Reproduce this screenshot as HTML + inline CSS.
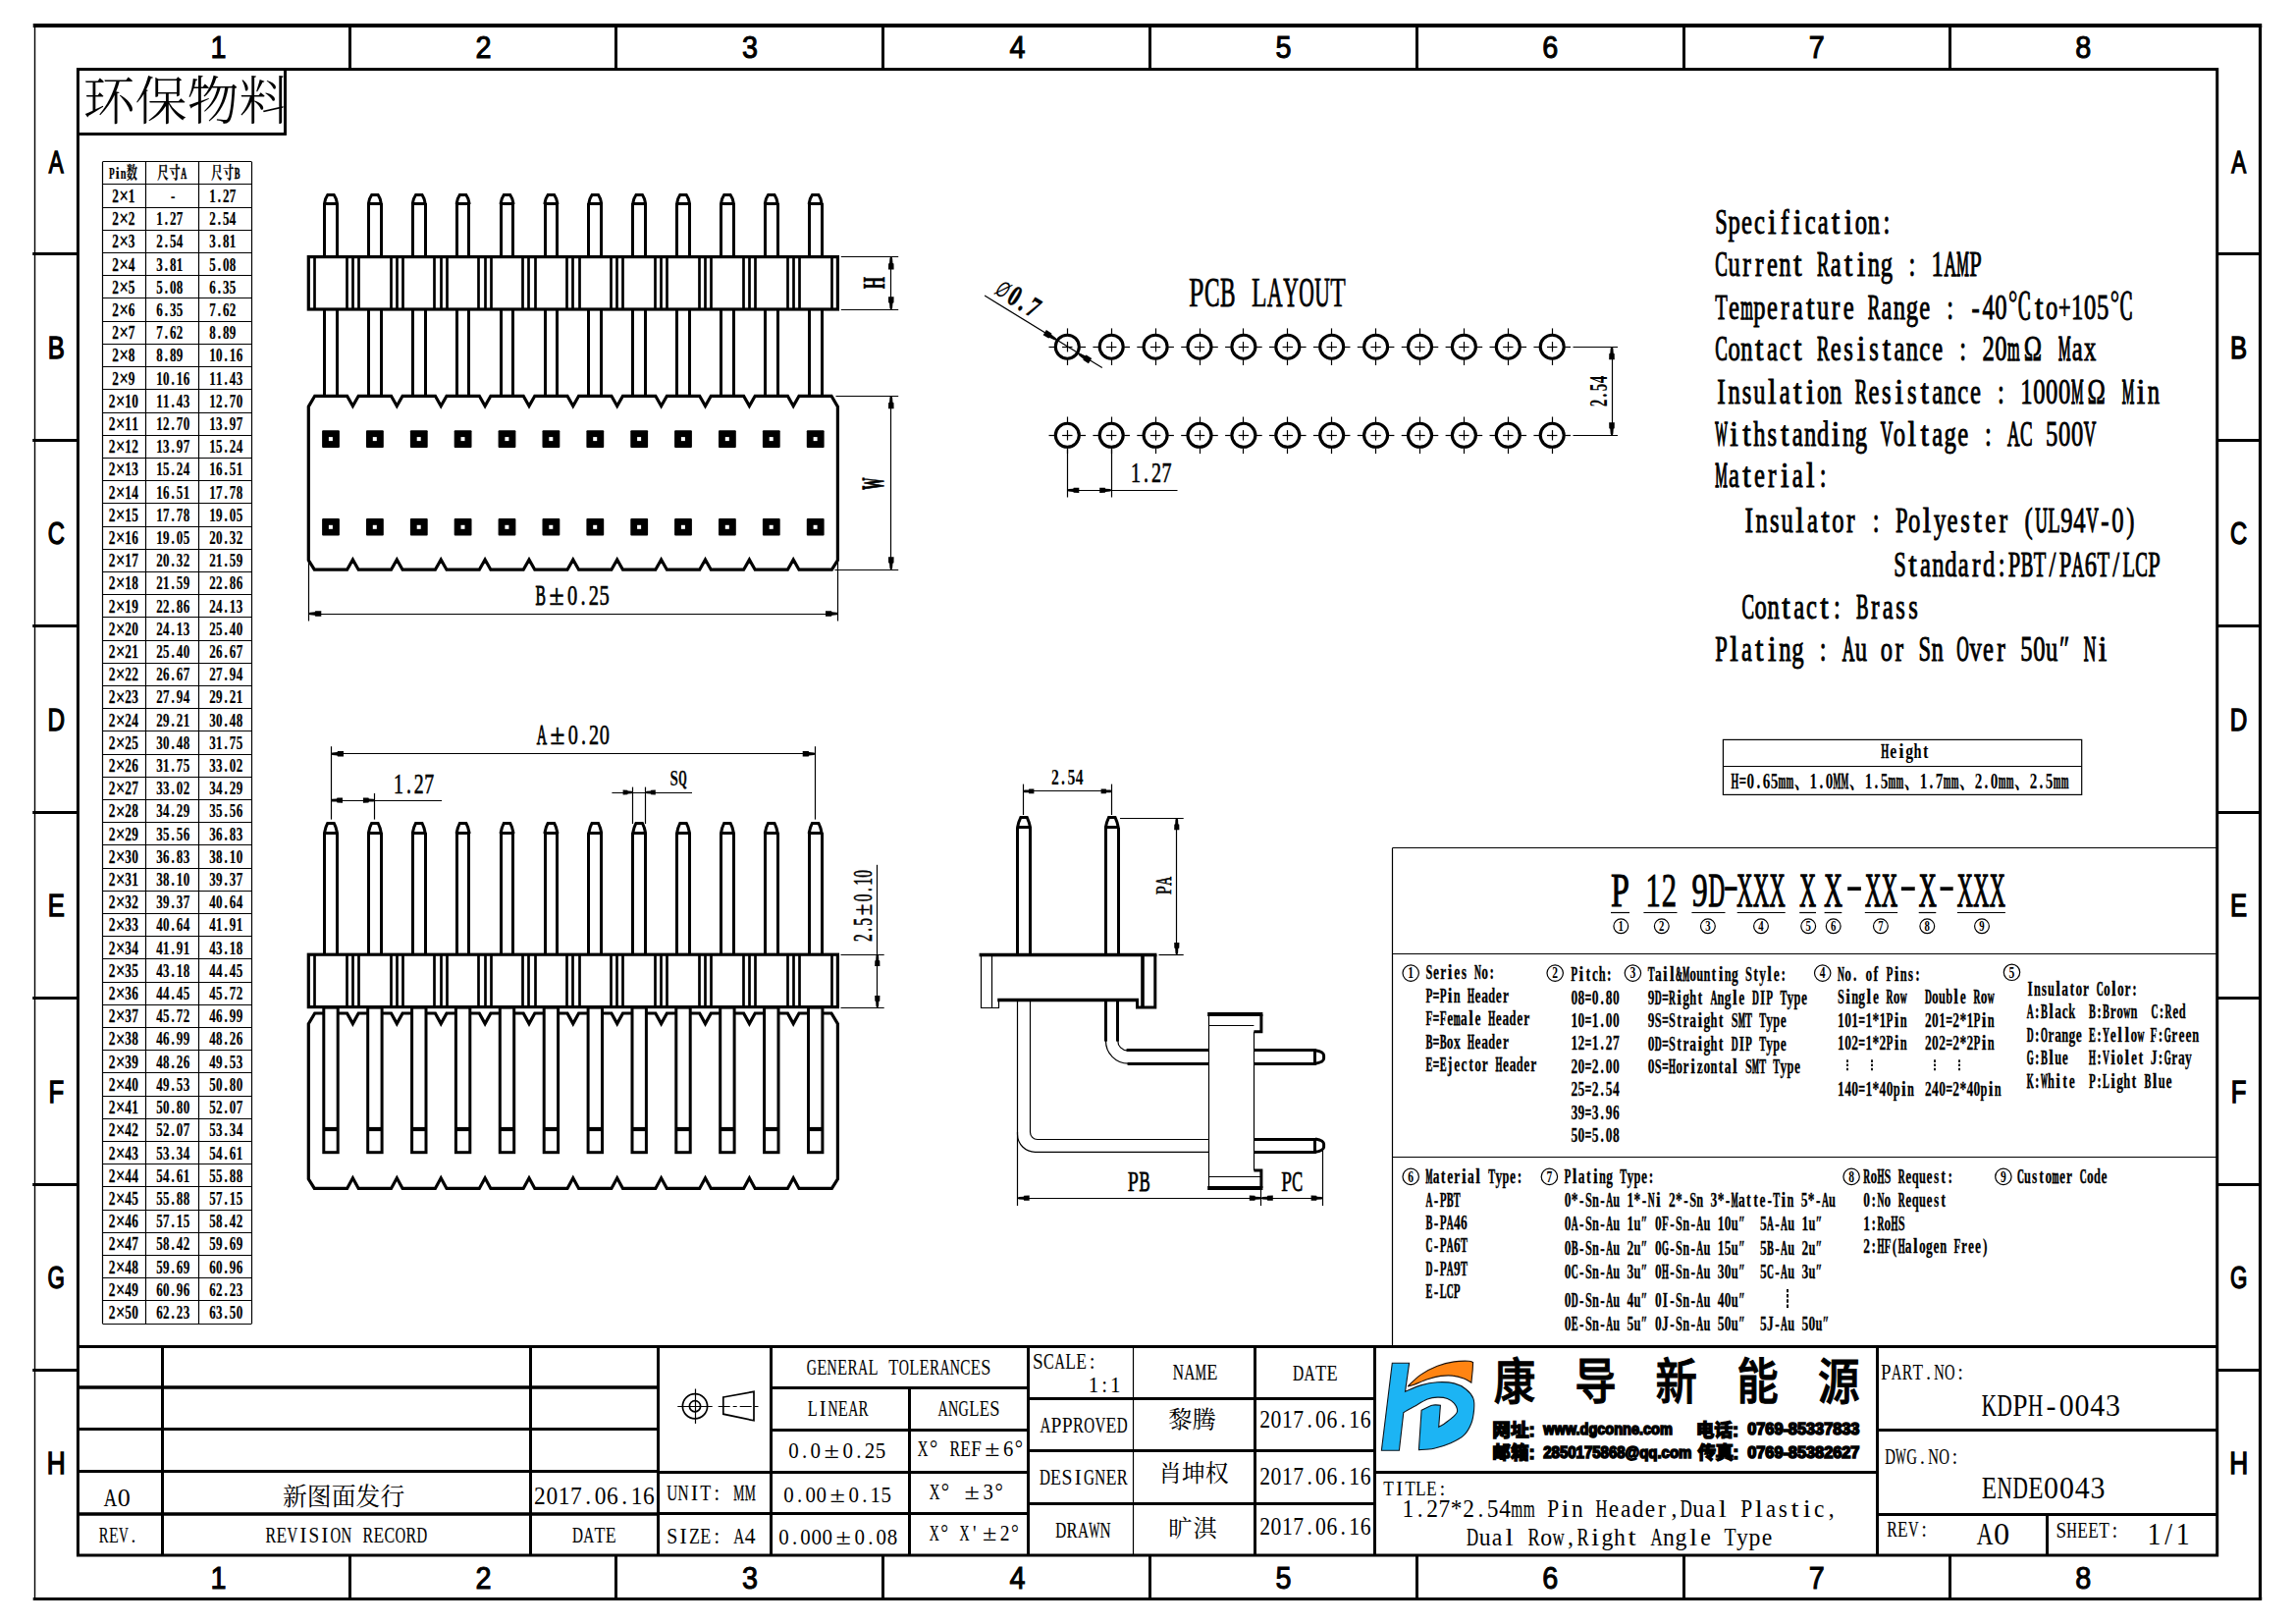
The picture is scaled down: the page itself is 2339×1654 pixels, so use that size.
<!DOCTYPE html>
<html lang="zh"><head><meta charset="utf-8"><title>KDPH-0043</title>
<style>html,body{margin:0;padding:0;background:#fff}svg{display:block}text{white-space:pre}</style></head>
<body><svg width="2339" height="1654" viewBox="0 0 2339 1654" stroke="#000" fill="none" stroke-linecap="butt">
<rect x="0" y="0" width="2339" height="1654" fill="#fff" stroke="none"/>
<line x1="33.7" y1="26" x2="2304.2" y2="26" stroke-width="3.8" />
<line x1="33.7" y1="1628.5" x2="2304.2" y2="1628.5" stroke-width="3.2" />
<line x1="35.5" y1="26" x2="35.5" y2="1628" stroke-width="1.4" />
<line x1="2302.5" y1="26" x2="2302.5" y2="1628" stroke-width="3.2" />
<rect x="79.4" y="70.6" width="2179.3" height="1513.4" stroke-width="3" fill="none"/>
<line x1="356.5" y1="26" x2="356.5" y2="70.6" stroke-width="3" />
<line x1="356.5" y1="1584" x2="356.5" y2="1628" stroke-width="3" />
<line x1="627.5" y1="26" x2="627.5" y2="70.6" stroke-width="3" />
<line x1="627.5" y1="1584" x2="627.5" y2="1628" stroke-width="3" />
<line x1="899.5" y1="26" x2="899.5" y2="70.6" stroke-width="3" />
<line x1="899.5" y1="1584" x2="899.5" y2="1628" stroke-width="3" />
<line x1="1171.5" y1="26" x2="1171.5" y2="70.6" stroke-width="3" />
<line x1="1171.5" y1="1584" x2="1171.5" y2="1628" stroke-width="3" />
<line x1="1443.5" y1="26" x2="1443.5" y2="70.6" stroke-width="3" />
<line x1="1443.5" y1="1584" x2="1443.5" y2="1628" stroke-width="3" />
<line x1="1715.5" y1="26" x2="1715.5" y2="70.6" stroke-width="3" />
<line x1="1715.5" y1="1584" x2="1715.5" y2="1628" stroke-width="3" />
<line x1="1986.5" y1="26" x2="1986.5" y2="70.6" stroke-width="3" />
<line x1="1986.5" y1="1584" x2="1986.5" y2="1628" stroke-width="3" />
<line x1="33.2" y1="258.5" x2="79.4" y2="258.5" stroke-width="3" />
<line x1="2258.7" y1="258.5" x2="2302.5" y2="258.5" stroke-width="3" />
<line x1="33.2" y1="448.5" x2="79.4" y2="448.5" stroke-width="3" />
<line x1="2258.7" y1="448.5" x2="2302.5" y2="448.5" stroke-width="3" />
<line x1="33.2" y1="637.5" x2="79.4" y2="637.5" stroke-width="3" />
<line x1="2258.7" y1="637.5" x2="2302.5" y2="637.5" stroke-width="3" />
<line x1="33.2" y1="827.5" x2="79.4" y2="827.5" stroke-width="3" />
<line x1="2258.7" y1="827.5" x2="2302.5" y2="827.5" stroke-width="3" />
<line x1="33.2" y1="1016.5" x2="79.4" y2="1016.5" stroke-width="3" />
<line x1="2258.7" y1="1016.5" x2="2302.5" y2="1016.5" stroke-width="3" />
<line x1="33.2" y1="1206.5" x2="79.4" y2="1206.5" stroke-width="3" />
<line x1="2258.7" y1="1206.5" x2="2302.5" y2="1206.5" stroke-width="3" />
<line x1="33.2" y1="1395.5" x2="79.4" y2="1395.5" stroke-width="3" />
<line x1="2258.7" y1="1395.5" x2="2302.5" y2="1395.5" stroke-width="3" />
<text transform="translate(222.5,59.3) scale(0.9,1)" font-family='"Liberation Sans","Noto Sans CJK SC",sans-serif' font-size="31.98" text-anchor="middle" stroke="#000" stroke-width="1.05" fill="#000" >1</text>
<text transform="translate(222.5,1618.2) scale(0.9,1)" font-family='"Liberation Sans","Noto Sans CJK SC",sans-serif' font-size="31.98" text-anchor="middle" stroke="#000" stroke-width="1.05" fill="#000" >1</text>
<text transform="translate(492.6,59.3) scale(0.9,1)" font-family='"Liberation Sans","Noto Sans CJK SC",sans-serif' font-size="31.98" text-anchor="middle" stroke="#000" stroke-width="1.05" fill="#000" >2</text>
<text transform="translate(492.6,1618.2) scale(0.9,1)" font-family='"Liberation Sans","Noto Sans CJK SC",sans-serif' font-size="31.98" text-anchor="middle" stroke="#000" stroke-width="1.05" fill="#000" >2</text>
<text transform="translate(764,59.3) scale(0.9,1)" font-family='"Liberation Sans","Noto Sans CJK SC",sans-serif' font-size="31.98" text-anchor="middle" stroke="#000" stroke-width="1.05" fill="#000" >3</text>
<text transform="translate(764,1618.2) scale(0.9,1)" font-family='"Liberation Sans","Noto Sans CJK SC",sans-serif' font-size="31.98" text-anchor="middle" stroke="#000" stroke-width="1.05" fill="#000" >3</text>
<text transform="translate(1036.5,59.3) scale(0.9,1)" font-family='"Liberation Sans","Noto Sans CJK SC",sans-serif' font-size="31.98" text-anchor="middle" stroke="#000" stroke-width="1.05" fill="#000" >4</text>
<text transform="translate(1036.5,1618.2) scale(0.9,1)" font-family='"Liberation Sans","Noto Sans CJK SC",sans-serif' font-size="31.98" text-anchor="middle" stroke="#000" stroke-width="1.05" fill="#000" >4</text>
<text transform="translate(1307.5,59.3) scale(0.9,1)" font-family='"Liberation Sans","Noto Sans CJK SC",sans-serif' font-size="31.98" text-anchor="middle" stroke="#000" stroke-width="1.05" fill="#000" >5</text>
<text transform="translate(1307.5,1618.2) scale(0.9,1)" font-family='"Liberation Sans","Noto Sans CJK SC",sans-serif' font-size="31.98" text-anchor="middle" stroke="#000" stroke-width="1.05" fill="#000" >5</text>
<text transform="translate(1579.2,59.3) scale(0.9,1)" font-family='"Liberation Sans","Noto Sans CJK SC",sans-serif' font-size="31.98" text-anchor="middle" stroke="#000" stroke-width="1.05" fill="#000" >6</text>
<text transform="translate(1579.2,1618.2) scale(0.9,1)" font-family='"Liberation Sans","Noto Sans CJK SC",sans-serif' font-size="31.98" text-anchor="middle" stroke="#000" stroke-width="1.05" fill="#000" >6</text>
<text transform="translate(1850.8,59.3) scale(0.9,1)" font-family='"Liberation Sans","Noto Sans CJK SC",sans-serif' font-size="31.98" text-anchor="middle" stroke="#000" stroke-width="1.05" fill="#000" >7</text>
<text transform="translate(1850.8,1618.2) scale(0.9,1)" font-family='"Liberation Sans","Noto Sans CJK SC",sans-serif' font-size="31.98" text-anchor="middle" stroke="#000" stroke-width="1.05" fill="#000" >7</text>
<text transform="translate(2122.3,59.3) scale(0.9,1)" font-family='"Liberation Sans","Noto Sans CJK SC",sans-serif' font-size="31.98" text-anchor="middle" stroke="#000" stroke-width="1.05" fill="#000" >8</text>
<text transform="translate(2122.3,1618.2) scale(0.9,1)" font-family='"Liberation Sans","Noto Sans CJK SC",sans-serif' font-size="31.98" text-anchor="middle" stroke="#000" stroke-width="1.05" fill="#000" >8</text>
<text transform="translate(57.3,176.1) scale(0.7,1)" font-family='"Liberation Sans","Noto Sans CJK SC",sans-serif' font-size="31.98" text-anchor="middle" stroke="#000" stroke-width="1.4" fill="#000" >A</text>
<text transform="translate(2280.6,176.1) scale(0.7,1)" font-family='"Liberation Sans","Noto Sans CJK SC",sans-serif' font-size="31.98" text-anchor="middle" stroke="#000" stroke-width="1.4" fill="#000" >A</text>
<text transform="translate(57.3,364.8) scale(0.8,1)" font-family='"Liberation Sans","Noto Sans CJK SC",sans-serif' font-size="31.98" text-anchor="middle" stroke="#000" stroke-width="1.4" fill="#000" >B</text>
<text transform="translate(2280.6,364.8) scale(0.8,1)" font-family='"Liberation Sans","Noto Sans CJK SC",sans-serif' font-size="31.98" text-anchor="middle" stroke="#000" stroke-width="1.4" fill="#000" >B</text>
<text transform="translate(57.3,554.2) scale(0.74,1)" font-family='"Liberation Sans","Noto Sans CJK SC",sans-serif' font-size="31.98" text-anchor="middle" stroke="#000" stroke-width="1.4" fill="#000" >C</text>
<text transform="translate(2280.6,554.2) scale(0.74,1)" font-family='"Liberation Sans","Noto Sans CJK SC",sans-serif' font-size="31.98" text-anchor="middle" stroke="#000" stroke-width="1.4" fill="#000" >C</text>
<text transform="translate(57.3,743.8) scale(0.76,1)" font-family='"Liberation Sans","Noto Sans CJK SC",sans-serif' font-size="31.98" text-anchor="middle" stroke="#000" stroke-width="1.4" fill="#000" >D</text>
<text transform="translate(2280.6,743.8) scale(0.76,1)" font-family='"Liberation Sans","Noto Sans CJK SC",sans-serif' font-size="31.98" text-anchor="middle" stroke="#000" stroke-width="1.4" fill="#000" >D</text>
<text transform="translate(57.3,933.2) scale(0.8,1)" font-family='"Liberation Sans","Noto Sans CJK SC",sans-serif' font-size="31.98" text-anchor="middle" stroke="#000" stroke-width="1.4" fill="#000" >E</text>
<text transform="translate(2280.6,933.2) scale(0.8,1)" font-family='"Liberation Sans","Noto Sans CJK SC",sans-serif' font-size="31.98" text-anchor="middle" stroke="#000" stroke-width="1.4" fill="#000" >E</text>
<text transform="translate(57.3,1122.8) scale(0.8,1)" font-family='"Liberation Sans","Noto Sans CJK SC",sans-serif' font-size="31.98" text-anchor="middle" stroke="#000" stroke-width="1.4" fill="#000" >F</text>
<text transform="translate(2280.6,1122.8) scale(0.8,1)" font-family='"Liberation Sans","Noto Sans CJK SC",sans-serif' font-size="31.98" text-anchor="middle" stroke="#000" stroke-width="1.4" fill="#000" >F</text>
<text transform="translate(57.3,1312.2) scale(0.7,1)" font-family='"Liberation Sans","Noto Sans CJK SC",sans-serif' font-size="31.98" text-anchor="middle" stroke="#000" stroke-width="1.4" fill="#000" >G</text>
<text transform="translate(2280.6,1312.2) scale(0.7,1)" font-family='"Liberation Sans","Noto Sans CJK SC",sans-serif' font-size="31.98" text-anchor="middle" stroke="#000" stroke-width="1.4" fill="#000" >G</text>
<text transform="translate(57.3,1501.2) scale(0.82,1)" font-family='"Liberation Sans","Noto Sans CJK SC",sans-serif' font-size="31.98" text-anchor="middle" stroke="#000" stroke-width="1.4" fill="#000" >H</text>
<text transform="translate(2280.6,1501.2) scale(0.82,1)" font-family='"Liberation Sans","Noto Sans CJK SC",sans-serif' font-size="31.98" text-anchor="middle" stroke="#000" stroke-width="1.4" fill="#000" >H</text>
<line x1="79.4" y1="136.5" x2="291.5" y2="136.5" stroke-width="3" />
<line x1="290.5" y1="70.6" x2="290.5" y2="137.8" stroke-width="3" />
<clipPath id="cl1"><rect x="80" y="71" width="208.5" height="64"/></clipPath>
<g clip-path="url(#cl1)">
<text x="84.5" y="121.5" font-family='"Liberation Serif","Noto Serif CJK SC",serif' font-size="53.00" textLength="212.0" lengthAdjust="spacing" stroke="none" fill="#000" font-weight="300">环保物料</text>
</g>
<line x1="104.6" y1="164.5" x2="256.3" y2="164.5" stroke-width="1.2" />
<line x1="104.6" y1="187.5" x2="256.3" y2="187.5" stroke-width="1.2" />
<line x1="104.6" y1="211.5" x2="256.3" y2="211.5" stroke-width="1.2" />
<line x1="104.6" y1="234.5" x2="256.3" y2="234.5" stroke-width="1.2" />
<line x1="104.6" y1="257.5" x2="256.3" y2="257.5" stroke-width="1.2" />
<line x1="104.6" y1="280.5" x2="256.3" y2="280.5" stroke-width="1.2" />
<line x1="104.6" y1="303.5" x2="256.3" y2="303.5" stroke-width="1.2" />
<line x1="104.6" y1="327.5" x2="256.3" y2="327.5" stroke-width="1.2" />
<line x1="104.6" y1="350.5" x2="256.3" y2="350.5" stroke-width="1.2" />
<line x1="104.6" y1="373.5" x2="256.3" y2="373.5" stroke-width="1.2" />
<line x1="104.6" y1="396.5" x2="256.3" y2="396.5" stroke-width="1.2" />
<line x1="104.6" y1="420.5" x2="256.3" y2="420.5" stroke-width="1.2" />
<line x1="104.6" y1="443.5" x2="256.3" y2="443.5" stroke-width="1.2" />
<line x1="104.6" y1="466.5" x2="256.3" y2="466.5" stroke-width="1.2" />
<line x1="104.6" y1="489.5" x2="256.3" y2="489.5" stroke-width="1.2" />
<line x1="104.6" y1="512.5" x2="256.3" y2="512.5" stroke-width="1.2" />
<line x1="104.6" y1="536.5" x2="256.3" y2="536.5" stroke-width="1.2" />
<line x1="104.6" y1="559.5" x2="256.3" y2="559.5" stroke-width="1.2" />
<line x1="104.6" y1="582.5" x2="256.3" y2="582.5" stroke-width="1.2" />
<line x1="104.6" y1="605.5" x2="256.3" y2="605.5" stroke-width="1.2" />
<line x1="104.6" y1="628.5" x2="256.3" y2="628.5" stroke-width="1.2" />
<line x1="104.6" y1="652.5" x2="256.3" y2="652.5" stroke-width="1.2" />
<line x1="104.6" y1="675.5" x2="256.3" y2="675.5" stroke-width="1.2" />
<line x1="104.6" y1="698.5" x2="256.3" y2="698.5" stroke-width="1.2" />
<line x1="104.6" y1="721.5" x2="256.3" y2="721.5" stroke-width="1.2" />
<line x1="104.6" y1="744.5" x2="256.3" y2="744.5" stroke-width="1.2" />
<line x1="104.6" y1="768.5" x2="256.3" y2="768.5" stroke-width="1.2" />
<line x1="104.6" y1="791.5" x2="256.3" y2="791.5" stroke-width="1.2" />
<line x1="104.6" y1="814.5" x2="256.3" y2="814.5" stroke-width="1.2" />
<line x1="104.6" y1="837.5" x2="256.3" y2="837.5" stroke-width="1.2" />
<line x1="104.6" y1="860.5" x2="256.3" y2="860.5" stroke-width="1.2" />
<line x1="104.6" y1="884.5" x2="256.3" y2="884.5" stroke-width="1.2" />
<line x1="104.6" y1="907.5" x2="256.3" y2="907.5" stroke-width="1.2" />
<line x1="104.6" y1="930.5" x2="256.3" y2="930.5" stroke-width="1.2" />
<line x1="104.6" y1="953.5" x2="256.3" y2="953.5" stroke-width="1.2" />
<line x1="104.6" y1="976.5" x2="256.3" y2="976.5" stroke-width="1.2" />
<line x1="104.6" y1="1000.5" x2="256.3" y2="1000.5" stroke-width="1.2" />
<line x1="104.6" y1="1023.5" x2="256.3" y2="1023.5" stroke-width="1.2" />
<line x1="104.6" y1="1046.5" x2="256.3" y2="1046.5" stroke-width="1.2" />
<line x1="104.6" y1="1069.5" x2="256.3" y2="1069.5" stroke-width="1.2" />
<line x1="104.6" y1="1092.5" x2="256.3" y2="1092.5" stroke-width="1.2" />
<line x1="104.6" y1="1116.5" x2="256.3" y2="1116.5" stroke-width="1.2" />
<line x1="104.6" y1="1139.5" x2="256.3" y2="1139.5" stroke-width="1.2" />
<line x1="104.6" y1="1162.5" x2="256.3" y2="1162.5" stroke-width="1.2" />
<line x1="104.6" y1="1185.5" x2="256.3" y2="1185.5" stroke-width="1.2" />
<line x1="104.6" y1="1208.5" x2="256.3" y2="1208.5" stroke-width="1.2" />
<line x1="104.6" y1="1232.5" x2="256.3" y2="1232.5" stroke-width="1.2" />
<line x1="104.6" y1="1255.5" x2="256.3" y2="1255.5" stroke-width="1.2" />
<line x1="104.6" y1="1278.5" x2="256.3" y2="1278.5" stroke-width="1.2" />
<line x1="104.6" y1="1301.5" x2="256.3" y2="1301.5" stroke-width="1.2" />
<line x1="104.6" y1="1324.5" x2="256.3" y2="1324.5" stroke-width="1.2" />
<line x1="104.6" y1="1348.5" x2="256.3" y2="1348.5" stroke-width="1.2" />
<line x1="104.5" y1="164.8" x2="104.5" y2="1348.2" stroke-width="1.2" />
<line x1="148.5" y1="164.8" x2="148.5" y2="1348.2" stroke-width="1.2" />
<line x1="202.5" y1="164.8" x2="202.5" y2="1348.2" stroke-width="1.2" />
<line x1="256.5" y1="164.8" x2="256.5" y2="1348.2" stroke-width="1.2" />
<text transform="translate(110.9,182.3) scale(0.6485,1)" font-family='"Liberation Serif","Noto Serif CJK SC",serif' font-size="17.25" font-weight="bold" stroke="#000" stroke-width="0.25" fill="#000"><tspan x="0.1" textLength="8.8" lengthAdjust="spacingAndGlyphs">P</tspan><tspan x="10.6" textLength="6" lengthAdjust="spacingAndGlyphs">i</tspan><tspan x="18.3" textLength="8.8" lengthAdjust="spacingAndGlyphs">n</tspan><tspan x="27.7">数</tspan></text>
<text transform="translate(159.9,182.3) scale(0.6690,1)" font-family='"Liberation Serif","Noto Serif CJK SC",serif' font-size="17.25" font-weight="bold" stroke="#000" stroke-width="0.25" fill="#000"><tspan x="0.5 18.6">尺寸</tspan><tspan x="36.5" textLength="8.8" lengthAdjust="spacingAndGlyphs" stroke="#000" stroke-width="0.66">A</tspan></text>
<text transform="translate(214.8,182.3) scale(0.6553,1)" font-family='"Liberation Serif","Noto Serif CJK SC",serif' font-size="17.25" font-weight="bold" stroke="#000" stroke-width="0.25" fill="#000"><tspan x="0.5 18.6">尺寸</tspan><tspan x="36.5" textLength="8.8" lengthAdjust="spacingAndGlyphs" stroke="#000" stroke-width="0.53">B</tspan></text>
<text transform="translate(0,205.9) scale(0.7446,1)" font-family='"Liberation Serif","Noto Serif CJK SC",serif' font-size="17.86" font-weight="bold" stroke="#000" stroke-width="0.25" fill="#000"><tspan x="153.3">2</tspan><tspan x="162.7" y="1.1" font-size="23.2" stroke-width="0.1">×</tspan><tspan x="175.6" y="0">1</tspan></text>
<text transform="translate(159.1,205.9) scale(0.7286,1)" font-family='"Liberation Serif","Noto Serif CJK SC",serif' font-size="17.86" font-weight="bold" stroke="#000" stroke-width="0.25" fill="#000"><tspan x="2.5 11.9 20.5">  -</tspan></text>
<text transform="translate(213.1,205.9) scale(0.7286,1)" font-family='"Liberation Serif","Noto Serif CJK SC",serif' font-size="17.86" font-weight="bold" stroke="#000" stroke-width="0.25" fill="#000"><tspan x="0.2 11.9 19 28.4">1.27</tspan></text>
<text transform="translate(0,229.1) scale(0.7446,1)" font-family='"Liberation Serif","Noto Serif CJK SC",serif' font-size="17.86" font-weight="bold" stroke="#000" stroke-width="0.25" fill="#000"><tspan x="153.3">2</tspan><tspan x="162.7" y="1.1" font-size="23.2" stroke-width="0.1">×</tspan><tspan x="175.6" y="0">2</tspan></text>
<text transform="translate(159.1,229.1) scale(0.7286,1)" font-family='"Liberation Serif","Noto Serif CJK SC",serif' font-size="17.86" font-weight="bold" stroke="#000" stroke-width="0.25" fill="#000"><tspan x="0.2 11.9 19 28.4">1.27</tspan></text>
<text transform="translate(213.1,229.1) scale(0.7286,1)" font-family='"Liberation Serif","Noto Serif CJK SC",serif' font-size="17.86" font-weight="bold" stroke="#000" stroke-width="0.25" fill="#000"><tspan x="0.2 11.9 19 28.4">2.54</tspan></text>
<text transform="translate(0,252.3) scale(0.7446,1)" font-family='"Liberation Serif","Noto Serif CJK SC",serif' font-size="17.86" font-weight="bold" stroke="#000" stroke-width="0.25" fill="#000"><tspan x="153.3">2</tspan><tspan x="162.7" y="1.1" font-size="23.2" stroke-width="0.1">×</tspan><tspan x="175.6" y="0">3</tspan></text>
<text transform="translate(159.1,252.3) scale(0.7286,1)" font-family='"Liberation Serif","Noto Serif CJK SC",serif' font-size="17.86" font-weight="bold" stroke="#000" stroke-width="0.25" fill="#000"><tspan x="0.2 11.9 19 28.4">2.54</tspan></text>
<text transform="translate(213.1,252.3) scale(0.7286,1)" font-family='"Liberation Serif","Noto Serif CJK SC",serif' font-size="17.86" font-weight="bold" stroke="#000" stroke-width="0.25" fill="#000"><tspan x="0.2 11.9 19 28.4">3.81</tspan></text>
<text transform="translate(0,275.5) scale(0.7446,1)" font-family='"Liberation Serif","Noto Serif CJK SC",serif' font-size="17.86" font-weight="bold" stroke="#000" stroke-width="0.25" fill="#000"><tspan x="153.3">2</tspan><tspan x="162.7" y="1.1" font-size="23.2" stroke-width="0.1">×</tspan><tspan x="175.6" y="0">4</tspan></text>
<text transform="translate(159.1,275.5) scale(0.7286,1)" font-family='"Liberation Serif","Noto Serif CJK SC",serif' font-size="17.86" font-weight="bold" stroke="#000" stroke-width="0.25" fill="#000"><tspan x="0.2 11.9 19 28.4">3.81</tspan></text>
<text transform="translate(213.1,275.5) scale(0.7286,1)" font-family='"Liberation Serif","Noto Serif CJK SC",serif' font-size="17.86" font-weight="bold" stroke="#000" stroke-width="0.25" fill="#000"><tspan x="0.2 11.9 19 28.4">5.08</tspan></text>
<text transform="translate(0,298.7) scale(0.7446,1)" font-family='"Liberation Serif","Noto Serif CJK SC",serif' font-size="17.86" font-weight="bold" stroke="#000" stroke-width="0.25" fill="#000"><tspan x="153.3">2</tspan><tspan x="162.7" y="1.1" font-size="23.2" stroke-width="0.1">×</tspan><tspan x="175.6" y="0">5</tspan></text>
<text transform="translate(159.1,298.7) scale(0.7286,1)" font-family='"Liberation Serif","Noto Serif CJK SC",serif' font-size="17.86" font-weight="bold" stroke="#000" stroke-width="0.25" fill="#000"><tspan x="0.2 11.9 19 28.4">5.08</tspan></text>
<text transform="translate(213.1,298.7) scale(0.7286,1)" font-family='"Liberation Serif","Noto Serif CJK SC",serif' font-size="17.86" font-weight="bold" stroke="#000" stroke-width="0.25" fill="#000"><tspan x="0.2 11.9 19 28.4">6.35</tspan></text>
<text transform="translate(0,321.9) scale(0.7446,1)" font-family='"Liberation Serif","Noto Serif CJK SC",serif' font-size="17.86" font-weight="bold" stroke="#000" stroke-width="0.25" fill="#000"><tspan x="153.3">2</tspan><tspan x="162.7" y="1.1" font-size="23.2" stroke-width="0.1">×</tspan><tspan x="175.6" y="0">6</tspan></text>
<text transform="translate(159.1,321.9) scale(0.7286,1)" font-family='"Liberation Serif","Noto Serif CJK SC",serif' font-size="17.86" font-weight="bold" stroke="#000" stroke-width="0.25" fill="#000"><tspan x="0.2 11.9 19 28.4">6.35</tspan></text>
<text transform="translate(213.1,321.9) scale(0.7286,1)" font-family='"Liberation Serif","Noto Serif CJK SC",serif' font-size="17.86" font-weight="bold" stroke="#000" stroke-width="0.25" fill="#000"><tspan x="0.2 11.9 19 28.4">7.62</tspan></text>
<text transform="translate(0,345.1) scale(0.7446,1)" font-family='"Liberation Serif","Noto Serif CJK SC",serif' font-size="17.86" font-weight="bold" stroke="#000" stroke-width="0.25" fill="#000"><tspan x="153.3">2</tspan><tspan x="162.7" y="1.1" font-size="23.2" stroke-width="0.1">×</tspan><tspan x="175.6" y="0">7</tspan></text>
<text transform="translate(159.1,345.1) scale(0.7286,1)" font-family='"Liberation Serif","Noto Serif CJK SC",serif' font-size="17.86" font-weight="bold" stroke="#000" stroke-width="0.25" fill="#000"><tspan x="0.2 11.9 19 28.4">7.62</tspan></text>
<text transform="translate(213.1,345.1) scale(0.7286,1)" font-family='"Liberation Serif","Noto Serif CJK SC",serif' font-size="17.86" font-weight="bold" stroke="#000" stroke-width="0.25" fill="#000"><tspan x="0.2 11.9 19 28.4">8.89</tspan></text>
<text transform="translate(0,368.3) scale(0.7446,1)" font-family='"Liberation Serif","Noto Serif CJK SC",serif' font-size="17.86" font-weight="bold" stroke="#000" stroke-width="0.25" fill="#000"><tspan x="153.3">2</tspan><tspan x="162.7" y="1.1" font-size="23.2" stroke-width="0.1">×</tspan><tspan x="175.6" y="0">8</tspan></text>
<text transform="translate(159.1,368.3) scale(0.7286,1)" font-family='"Liberation Serif","Noto Serif CJK SC",serif' font-size="17.86" font-weight="bold" stroke="#000" stroke-width="0.25" fill="#000"><tspan x="0.2 11.9 19 28.4">8.89</tspan></text>
<text transform="translate(213.1,368.3) scale(0.7286,1)" font-family='"Liberation Serif","Noto Serif CJK SC",serif' font-size="17.86" font-weight="bold" stroke="#000" stroke-width="0.25" fill="#000"><tspan x="0.2 9.6 21.3 28.4 37.8">10.16</tspan></text>
<text transform="translate(0,391.5) scale(0.7446,1)" font-family='"Liberation Serif","Noto Serif CJK SC",serif' font-size="17.86" font-weight="bold" stroke="#000" stroke-width="0.25" fill="#000"><tspan x="153.3">2</tspan><tspan x="162.7" y="1.1" font-size="23.2" stroke-width="0.1">×</tspan><tspan x="175.6" y="0">9</tspan></text>
<text transform="translate(159.1,391.5) scale(0.7286,1)" font-family='"Liberation Serif","Noto Serif CJK SC",serif' font-size="17.86" font-weight="bold" stroke="#000" stroke-width="0.25" fill="#000"><tspan x="0.2 9.6 21.3 28.4 37.8">10.16</tspan></text>
<text transform="translate(213.1,391.5) scale(0.7286,1)" font-family='"Liberation Serif","Noto Serif CJK SC",serif' font-size="17.86" font-weight="bold" stroke="#000" stroke-width="0.25" fill="#000"><tspan x="0.2 9.6 21.3 28.4 37.8">11.43</tspan></text>
<text transform="translate(0,414.7) scale(0.7446,1)" font-family='"Liberation Serif","Noto Serif CJK SC",serif' font-size="17.86" font-weight="bold" stroke="#000" stroke-width="0.25" fill="#000"><tspan x="148.6">2</tspan><tspan x="158" y="1.1" font-size="23.2" stroke-width="0.1">×</tspan><tspan x="170.9 180.3" y="0">10</tspan></text>
<text transform="translate(159.1,414.7) scale(0.7286,1)" font-family='"Liberation Serif","Noto Serif CJK SC",serif' font-size="17.86" font-weight="bold" stroke="#000" stroke-width="0.25" fill="#000"><tspan x="0.2 9.6 21.3 28.4 37.8">11.43</tspan></text>
<text transform="translate(213.1,414.7) scale(0.7286,1)" font-family='"Liberation Serif","Noto Serif CJK SC",serif' font-size="17.86" font-weight="bold" stroke="#000" stroke-width="0.25" fill="#000"><tspan x="0.2 9.6 21.3 28.4 37.8">12.70</tspan></text>
<text transform="translate(0,437.9) scale(0.7446,1)" font-family='"Liberation Serif","Noto Serif CJK SC",serif' font-size="17.86" font-weight="bold" stroke="#000" stroke-width="0.25" fill="#000"><tspan x="148.6">2</tspan><tspan x="158" y="1.1" font-size="23.2" stroke-width="0.1">×</tspan><tspan x="170.9 180.3" y="0">11</tspan></text>
<text transform="translate(159.1,437.9) scale(0.7286,1)" font-family='"Liberation Serif","Noto Serif CJK SC",serif' font-size="17.86" font-weight="bold" stroke="#000" stroke-width="0.25" fill="#000"><tspan x="0.2 9.6 21.3 28.4 37.8">12.70</tspan></text>
<text transform="translate(213.1,437.9) scale(0.7286,1)" font-family='"Liberation Serif","Noto Serif CJK SC",serif' font-size="17.86" font-weight="bold" stroke="#000" stroke-width="0.25" fill="#000"><tspan x="0.2 9.6 21.3 28.4 37.8">13.97</tspan></text>
<text transform="translate(0,461.1) scale(0.7446,1)" font-family='"Liberation Serif","Noto Serif CJK SC",serif' font-size="17.86" font-weight="bold" stroke="#000" stroke-width="0.25" fill="#000"><tspan x="148.6">2</tspan><tspan x="158" y="1.1" font-size="23.2" stroke-width="0.1">×</tspan><tspan x="170.9 180.3" y="0">12</tspan></text>
<text transform="translate(159.1,461.1) scale(0.7286,1)" font-family='"Liberation Serif","Noto Serif CJK SC",serif' font-size="17.86" font-weight="bold" stroke="#000" stroke-width="0.25" fill="#000"><tspan x="0.2 9.6 21.3 28.4 37.8">13.97</tspan></text>
<text transform="translate(213.1,461.1) scale(0.7286,1)" font-family='"Liberation Serif","Noto Serif CJK SC",serif' font-size="17.86" font-weight="bold" stroke="#000" stroke-width="0.25" fill="#000"><tspan x="0.2 9.6 21.3 28.4 37.8">15.24</tspan></text>
<text transform="translate(0,484.3) scale(0.7446,1)" font-family='"Liberation Serif","Noto Serif CJK SC",serif' font-size="17.86" font-weight="bold" stroke="#000" stroke-width="0.25" fill="#000"><tspan x="148.6">2</tspan><tspan x="158" y="1.1" font-size="23.2" stroke-width="0.1">×</tspan><tspan x="170.9 180.3" y="0">13</tspan></text>
<text transform="translate(159.1,484.3) scale(0.7286,1)" font-family='"Liberation Serif","Noto Serif CJK SC",serif' font-size="17.86" font-weight="bold" stroke="#000" stroke-width="0.25" fill="#000"><tspan x="0.2 9.6 21.3 28.4 37.8">15.24</tspan></text>
<text transform="translate(213.1,484.3) scale(0.7286,1)" font-family='"Liberation Serif","Noto Serif CJK SC",serif' font-size="17.86" font-weight="bold" stroke="#000" stroke-width="0.25" fill="#000"><tspan x="0.2 9.6 21.3 28.4 37.8">16.51</tspan></text>
<text transform="translate(0,507.5) scale(0.7446,1)" font-family='"Liberation Serif","Noto Serif CJK SC",serif' font-size="17.86" font-weight="bold" stroke="#000" stroke-width="0.25" fill="#000"><tspan x="148.6">2</tspan><tspan x="158" y="1.1" font-size="23.2" stroke-width="0.1">×</tspan><tspan x="170.9 180.3" y="0">14</tspan></text>
<text transform="translate(159.1,507.5) scale(0.7286,1)" font-family='"Liberation Serif","Noto Serif CJK SC",serif' font-size="17.86" font-weight="bold" stroke="#000" stroke-width="0.25" fill="#000"><tspan x="0.2 9.6 21.3 28.4 37.8">16.51</tspan></text>
<text transform="translate(213.1,507.5) scale(0.7286,1)" font-family='"Liberation Serif","Noto Serif CJK SC",serif' font-size="17.86" font-weight="bold" stroke="#000" stroke-width="0.25" fill="#000"><tspan x="0.2 9.6 21.3 28.4 37.8">17.78</tspan></text>
<text transform="translate(0,530.7) scale(0.7446,1)" font-family='"Liberation Serif","Noto Serif CJK SC",serif' font-size="17.86" font-weight="bold" stroke="#000" stroke-width="0.25" fill="#000"><tspan x="148.6">2</tspan><tspan x="158" y="1.1" font-size="23.2" stroke-width="0.1">×</tspan><tspan x="170.9 180.3" y="0">15</tspan></text>
<text transform="translate(159.1,530.7) scale(0.7286,1)" font-family='"Liberation Serif","Noto Serif CJK SC",serif' font-size="17.86" font-weight="bold" stroke="#000" stroke-width="0.25" fill="#000"><tspan x="0.2 9.6 21.3 28.4 37.8">17.78</tspan></text>
<text transform="translate(213.1,530.7) scale(0.7286,1)" font-family='"Liberation Serif","Noto Serif CJK SC",serif' font-size="17.86" font-weight="bold" stroke="#000" stroke-width="0.25" fill="#000"><tspan x="0.2 9.6 21.3 28.4 37.8">19.05</tspan></text>
<text transform="translate(0,553.9) scale(0.7446,1)" font-family='"Liberation Serif","Noto Serif CJK SC",serif' font-size="17.86" font-weight="bold" stroke="#000" stroke-width="0.25" fill="#000"><tspan x="148.6">2</tspan><tspan x="158" y="1.1" font-size="23.2" stroke-width="0.1">×</tspan><tspan x="170.9 180.3" y="0">16</tspan></text>
<text transform="translate(159.1,553.9) scale(0.7286,1)" font-family='"Liberation Serif","Noto Serif CJK SC",serif' font-size="17.86" font-weight="bold" stroke="#000" stroke-width="0.25" fill="#000"><tspan x="0.2 9.6 21.3 28.4 37.8">19.05</tspan></text>
<text transform="translate(213.1,553.9) scale(0.7286,1)" font-family='"Liberation Serif","Noto Serif CJK SC",serif' font-size="17.86" font-weight="bold" stroke="#000" stroke-width="0.25" fill="#000"><tspan x="0.2 9.6 21.3 28.4 37.8">20.32</tspan></text>
<text transform="translate(0,577.1) scale(0.7446,1)" font-family='"Liberation Serif","Noto Serif CJK SC",serif' font-size="17.86" font-weight="bold" stroke="#000" stroke-width="0.25" fill="#000"><tspan x="148.6">2</tspan><tspan x="158" y="1.1" font-size="23.2" stroke-width="0.1">×</tspan><tspan x="170.9 180.3" y="0">17</tspan></text>
<text transform="translate(159.1,577.1) scale(0.7286,1)" font-family='"Liberation Serif","Noto Serif CJK SC",serif' font-size="17.86" font-weight="bold" stroke="#000" stroke-width="0.25" fill="#000"><tspan x="0.2 9.6 21.3 28.4 37.8">20.32</tspan></text>
<text transform="translate(213.1,577.1) scale(0.7286,1)" font-family='"Liberation Serif","Noto Serif CJK SC",serif' font-size="17.86" font-weight="bold" stroke="#000" stroke-width="0.25" fill="#000"><tspan x="0.2 9.6 21.3 28.4 37.8">21.59</tspan></text>
<text transform="translate(0,600.3) scale(0.7446,1)" font-family='"Liberation Serif","Noto Serif CJK SC",serif' font-size="17.86" font-weight="bold" stroke="#000" stroke-width="0.25" fill="#000"><tspan x="148.6">2</tspan><tspan x="158" y="1.1" font-size="23.2" stroke-width="0.1">×</tspan><tspan x="170.9 180.3" y="0">18</tspan></text>
<text transform="translate(159.1,600.3) scale(0.7286,1)" font-family='"Liberation Serif","Noto Serif CJK SC",serif' font-size="17.86" font-weight="bold" stroke="#000" stroke-width="0.25" fill="#000"><tspan x="0.2 9.6 21.3 28.4 37.8">21.59</tspan></text>
<text transform="translate(213.1,600.3) scale(0.7286,1)" font-family='"Liberation Serif","Noto Serif CJK SC",serif' font-size="17.86" font-weight="bold" stroke="#000" stroke-width="0.25" fill="#000"><tspan x="0.2 9.6 21.3 28.4 37.8">22.86</tspan></text>
<text transform="translate(0,623.5) scale(0.7446,1)" font-family='"Liberation Serif","Noto Serif CJK SC",serif' font-size="17.86" font-weight="bold" stroke="#000" stroke-width="0.25" fill="#000"><tspan x="148.6">2</tspan><tspan x="158" y="1.1" font-size="23.2" stroke-width="0.1">×</tspan><tspan x="170.9 180.3" y="0">19</tspan></text>
<text transform="translate(159.1,623.5) scale(0.7286,1)" font-family='"Liberation Serif","Noto Serif CJK SC",serif' font-size="17.86" font-weight="bold" stroke="#000" stroke-width="0.25" fill="#000"><tspan x="0.2 9.6 21.3 28.4 37.8">22.86</tspan></text>
<text transform="translate(213.1,623.5) scale(0.7286,1)" font-family='"Liberation Serif","Noto Serif CJK SC",serif' font-size="17.86" font-weight="bold" stroke="#000" stroke-width="0.25" fill="#000"><tspan x="0.2 9.6 21.3 28.4 37.8">24.13</tspan></text>
<text transform="translate(0,646.7) scale(0.7446,1)" font-family='"Liberation Serif","Noto Serif CJK SC",serif' font-size="17.86" font-weight="bold" stroke="#000" stroke-width="0.25" fill="#000"><tspan x="148.6">2</tspan><tspan x="158" y="1.1" font-size="23.2" stroke-width="0.1">×</tspan><tspan x="170.9 180.3" y="0">20</tspan></text>
<text transform="translate(159.1,646.7) scale(0.7286,1)" font-family='"Liberation Serif","Noto Serif CJK SC",serif' font-size="17.86" font-weight="bold" stroke="#000" stroke-width="0.25" fill="#000"><tspan x="0.2 9.6 21.3 28.4 37.8">24.13</tspan></text>
<text transform="translate(213.1,646.7) scale(0.7286,1)" font-family='"Liberation Serif","Noto Serif CJK SC",serif' font-size="17.86" font-weight="bold" stroke="#000" stroke-width="0.25" fill="#000"><tspan x="0.2 9.6 21.3 28.4 37.8">25.40</tspan></text>
<text transform="translate(0,670) scale(0.7446,1)" font-family='"Liberation Serif","Noto Serif CJK SC",serif' font-size="17.86" font-weight="bold" stroke="#000" stroke-width="0.25" fill="#000"><tspan x="148.6">2</tspan><tspan x="158" y="1.1" font-size="23.2" stroke-width="0.1">×</tspan><tspan x="170.9 180.3" y="0">21</tspan></text>
<text transform="translate(159.1,670) scale(0.7286,1)" font-family='"Liberation Serif","Noto Serif CJK SC",serif' font-size="17.86" font-weight="bold" stroke="#000" stroke-width="0.25" fill="#000"><tspan x="0.2 9.6 21.3 28.4 37.8">25.40</tspan></text>
<text transform="translate(213.1,670) scale(0.7286,1)" font-family='"Liberation Serif","Noto Serif CJK SC",serif' font-size="17.86" font-weight="bold" stroke="#000" stroke-width="0.25" fill="#000"><tspan x="0.2 9.6 21.3 28.4 37.8">26.67</tspan></text>
<text transform="translate(0,693.2) scale(0.7446,1)" font-family='"Liberation Serif","Noto Serif CJK SC",serif' font-size="17.86" font-weight="bold" stroke="#000" stroke-width="0.25" fill="#000"><tspan x="148.6">2</tspan><tspan x="158" y="1.1" font-size="23.2" stroke-width="0.1">×</tspan><tspan x="170.9 180.3" y="0">22</tspan></text>
<text transform="translate(159.1,693.2) scale(0.7286,1)" font-family='"Liberation Serif","Noto Serif CJK SC",serif' font-size="17.86" font-weight="bold" stroke="#000" stroke-width="0.25" fill="#000"><tspan x="0.2 9.6 21.3 28.4 37.8">26.67</tspan></text>
<text transform="translate(213.1,693.2) scale(0.7286,1)" font-family='"Liberation Serif","Noto Serif CJK SC",serif' font-size="17.86" font-weight="bold" stroke="#000" stroke-width="0.25" fill="#000"><tspan x="0.2 9.6 21.3 28.4 37.8">27.94</tspan></text>
<text transform="translate(0,716.4) scale(0.7446,1)" font-family='"Liberation Serif","Noto Serif CJK SC",serif' font-size="17.86" font-weight="bold" stroke="#000" stroke-width="0.25" fill="#000"><tspan x="148.6">2</tspan><tspan x="158" y="1.1" font-size="23.2" stroke-width="0.1">×</tspan><tspan x="170.9 180.3" y="0">23</tspan></text>
<text transform="translate(159.1,716.4) scale(0.7286,1)" font-family='"Liberation Serif","Noto Serif CJK SC",serif' font-size="17.86" font-weight="bold" stroke="#000" stroke-width="0.25" fill="#000"><tspan x="0.2 9.6 21.3 28.4 37.8">27.94</tspan></text>
<text transform="translate(213.1,716.4) scale(0.7286,1)" font-family='"Liberation Serif","Noto Serif CJK SC",serif' font-size="17.86" font-weight="bold" stroke="#000" stroke-width="0.25" fill="#000"><tspan x="0.2 9.6 21.3 28.4 37.8">29.21</tspan></text>
<text transform="translate(0,739.6) scale(0.7446,1)" font-family='"Liberation Serif","Noto Serif CJK SC",serif' font-size="17.86" font-weight="bold" stroke="#000" stroke-width="0.25" fill="#000"><tspan x="148.6">2</tspan><tspan x="158" y="1.1" font-size="23.2" stroke-width="0.1">×</tspan><tspan x="170.9 180.3" y="0">24</tspan></text>
<text transform="translate(159.1,739.6) scale(0.7286,1)" font-family='"Liberation Serif","Noto Serif CJK SC",serif' font-size="17.86" font-weight="bold" stroke="#000" stroke-width="0.25" fill="#000"><tspan x="0.2 9.6 21.3 28.4 37.8">29.21</tspan></text>
<text transform="translate(213.1,739.6) scale(0.7286,1)" font-family='"Liberation Serif","Noto Serif CJK SC",serif' font-size="17.86" font-weight="bold" stroke="#000" stroke-width="0.25" fill="#000"><tspan x="0.2 9.6 21.3 28.4 37.8">30.48</tspan></text>
<text transform="translate(0,762.8) scale(0.7446,1)" font-family='"Liberation Serif","Noto Serif CJK SC",serif' font-size="17.86" font-weight="bold" stroke="#000" stroke-width="0.25" fill="#000"><tspan x="148.6">2</tspan><tspan x="158" y="1.1" font-size="23.2" stroke-width="0.1">×</tspan><tspan x="170.9 180.3" y="0">25</tspan></text>
<text transform="translate(159.1,762.8) scale(0.7286,1)" font-family='"Liberation Serif","Noto Serif CJK SC",serif' font-size="17.86" font-weight="bold" stroke="#000" stroke-width="0.25" fill="#000"><tspan x="0.2 9.6 21.3 28.4 37.8">30.48</tspan></text>
<text transform="translate(213.1,762.8) scale(0.7286,1)" font-family='"Liberation Serif","Noto Serif CJK SC",serif' font-size="17.86" font-weight="bold" stroke="#000" stroke-width="0.25" fill="#000"><tspan x="0.2 9.6 21.3 28.4 37.8">31.75</tspan></text>
<text transform="translate(0,786) scale(0.7446,1)" font-family='"Liberation Serif","Noto Serif CJK SC",serif' font-size="17.86" font-weight="bold" stroke="#000" stroke-width="0.25" fill="#000"><tspan x="148.6">2</tspan><tspan x="158" y="1.1" font-size="23.2" stroke-width="0.1">×</tspan><tspan x="170.9 180.3" y="0">26</tspan></text>
<text transform="translate(159.1,786) scale(0.7286,1)" font-family='"Liberation Serif","Noto Serif CJK SC",serif' font-size="17.86" font-weight="bold" stroke="#000" stroke-width="0.25" fill="#000"><tspan x="0.2 9.6 21.3 28.4 37.8">31.75</tspan></text>
<text transform="translate(213.1,786) scale(0.7286,1)" font-family='"Liberation Serif","Noto Serif CJK SC",serif' font-size="17.86" font-weight="bold" stroke="#000" stroke-width="0.25" fill="#000"><tspan x="0.2 9.6 21.3 28.4 37.8">33.02</tspan></text>
<text transform="translate(0,809.2) scale(0.7446,1)" font-family='"Liberation Serif","Noto Serif CJK SC",serif' font-size="17.86" font-weight="bold" stroke="#000" stroke-width="0.25" fill="#000"><tspan x="148.6">2</tspan><tspan x="158" y="1.1" font-size="23.2" stroke-width="0.1">×</tspan><tspan x="170.9 180.3" y="0">27</tspan></text>
<text transform="translate(159.1,809.2) scale(0.7286,1)" font-family='"Liberation Serif","Noto Serif CJK SC",serif' font-size="17.86" font-weight="bold" stroke="#000" stroke-width="0.25" fill="#000"><tspan x="0.2 9.6 21.3 28.4 37.8">33.02</tspan></text>
<text transform="translate(213.1,809.2) scale(0.7286,1)" font-family='"Liberation Serif","Noto Serif CJK SC",serif' font-size="17.86" font-weight="bold" stroke="#000" stroke-width="0.25" fill="#000"><tspan x="0.2 9.6 21.3 28.4 37.8">34.29</tspan></text>
<text transform="translate(0,832.4) scale(0.7446,1)" font-family='"Liberation Serif","Noto Serif CJK SC",serif' font-size="17.86" font-weight="bold" stroke="#000" stroke-width="0.25" fill="#000"><tspan x="148.6">2</tspan><tspan x="158" y="1.1" font-size="23.2" stroke-width="0.1">×</tspan><tspan x="170.9 180.3" y="0">28</tspan></text>
<text transform="translate(159.1,832.4) scale(0.7286,1)" font-family='"Liberation Serif","Noto Serif CJK SC",serif' font-size="17.86" font-weight="bold" stroke="#000" stroke-width="0.25" fill="#000"><tspan x="0.2 9.6 21.3 28.4 37.8">34.29</tspan></text>
<text transform="translate(213.1,832.4) scale(0.7286,1)" font-family='"Liberation Serif","Noto Serif CJK SC",serif' font-size="17.86" font-weight="bold" stroke="#000" stroke-width="0.25" fill="#000"><tspan x="0.2 9.6 21.3 28.4 37.8">35.56</tspan></text>
<text transform="translate(0,855.6) scale(0.7446,1)" font-family='"Liberation Serif","Noto Serif CJK SC",serif' font-size="17.86" font-weight="bold" stroke="#000" stroke-width="0.25" fill="#000"><tspan x="148.6">2</tspan><tspan x="158" y="1.1" font-size="23.2" stroke-width="0.1">×</tspan><tspan x="170.9 180.3" y="0">29</tspan></text>
<text transform="translate(159.1,855.6) scale(0.7286,1)" font-family='"Liberation Serif","Noto Serif CJK SC",serif' font-size="17.86" font-weight="bold" stroke="#000" stroke-width="0.25" fill="#000"><tspan x="0.2 9.6 21.3 28.4 37.8">35.56</tspan></text>
<text transform="translate(213.1,855.6) scale(0.7286,1)" font-family='"Liberation Serif","Noto Serif CJK SC",serif' font-size="17.86" font-weight="bold" stroke="#000" stroke-width="0.25" fill="#000"><tspan x="0.2 9.6 21.3 28.4 37.8">36.83</tspan></text>
<text transform="translate(0,878.8) scale(0.7446,1)" font-family='"Liberation Serif","Noto Serif CJK SC",serif' font-size="17.86" font-weight="bold" stroke="#000" stroke-width="0.25" fill="#000"><tspan x="148.6">2</tspan><tspan x="158" y="1.1" font-size="23.2" stroke-width="0.1">×</tspan><tspan x="170.9 180.3" y="0">30</tspan></text>
<text transform="translate(159.1,878.8) scale(0.7286,1)" font-family='"Liberation Serif","Noto Serif CJK SC",serif' font-size="17.86" font-weight="bold" stroke="#000" stroke-width="0.25" fill="#000"><tspan x="0.2 9.6 21.3 28.4 37.8">36.83</tspan></text>
<text transform="translate(213.1,878.8) scale(0.7286,1)" font-family='"Liberation Serif","Noto Serif CJK SC",serif' font-size="17.86" font-weight="bold" stroke="#000" stroke-width="0.25" fill="#000"><tspan x="0.2 9.6 21.3 28.4 37.8">38.10</tspan></text>
<text transform="translate(0,902) scale(0.7446,1)" font-family='"Liberation Serif","Noto Serif CJK SC",serif' font-size="17.86" font-weight="bold" stroke="#000" stroke-width="0.25" fill="#000"><tspan x="148.6">2</tspan><tspan x="158" y="1.1" font-size="23.2" stroke-width="0.1">×</tspan><tspan x="170.9 180.3" y="0">31</tspan></text>
<text transform="translate(159.1,902) scale(0.7286,1)" font-family='"Liberation Serif","Noto Serif CJK SC",serif' font-size="17.86" font-weight="bold" stroke="#000" stroke-width="0.25" fill="#000"><tspan x="0.2 9.6 21.3 28.4 37.8">38.10</tspan></text>
<text transform="translate(213.1,902) scale(0.7286,1)" font-family='"Liberation Serif","Noto Serif CJK SC",serif' font-size="17.86" font-weight="bold" stroke="#000" stroke-width="0.25" fill="#000"><tspan x="0.2 9.6 21.3 28.4 37.8">39.37</tspan></text>
<text transform="translate(0,925.2) scale(0.7446,1)" font-family='"Liberation Serif","Noto Serif CJK SC",serif' font-size="17.86" font-weight="bold" stroke="#000" stroke-width="0.25" fill="#000"><tspan x="148.6">2</tspan><tspan x="158" y="1.1" font-size="23.2" stroke-width="0.1">×</tspan><tspan x="170.9 180.3" y="0">32</tspan></text>
<text transform="translate(159.1,925.2) scale(0.7286,1)" font-family='"Liberation Serif","Noto Serif CJK SC",serif' font-size="17.86" font-weight="bold" stroke="#000" stroke-width="0.25" fill="#000"><tspan x="0.2 9.6 21.3 28.4 37.8">39.37</tspan></text>
<text transform="translate(213.1,925.2) scale(0.7286,1)" font-family='"Liberation Serif","Noto Serif CJK SC",serif' font-size="17.86" font-weight="bold" stroke="#000" stroke-width="0.25" fill="#000"><tspan x="0.2 9.6 21.3 28.4 37.8">40.64</tspan></text>
<text transform="translate(0,948.4) scale(0.7446,1)" font-family='"Liberation Serif","Noto Serif CJK SC",serif' font-size="17.86" font-weight="bold" stroke="#000" stroke-width="0.25" fill="#000"><tspan x="148.6">2</tspan><tspan x="158" y="1.1" font-size="23.2" stroke-width="0.1">×</tspan><tspan x="170.9 180.3" y="0">33</tspan></text>
<text transform="translate(159.1,948.4) scale(0.7286,1)" font-family='"Liberation Serif","Noto Serif CJK SC",serif' font-size="17.86" font-weight="bold" stroke="#000" stroke-width="0.25" fill="#000"><tspan x="0.2 9.6 21.3 28.4 37.8">40.64</tspan></text>
<text transform="translate(213.1,948.4) scale(0.7286,1)" font-family='"Liberation Serif","Noto Serif CJK SC",serif' font-size="17.86" font-weight="bold" stroke="#000" stroke-width="0.25" fill="#000"><tspan x="0.2 9.6 21.3 28.4 37.8">41.91</tspan></text>
<text transform="translate(0,971.6) scale(0.7446,1)" font-family='"Liberation Serif","Noto Serif CJK SC",serif' font-size="17.86" font-weight="bold" stroke="#000" stroke-width="0.25" fill="#000"><tspan x="148.6">2</tspan><tspan x="158" y="1.1" font-size="23.2" stroke-width="0.1">×</tspan><tspan x="170.9 180.3" y="0">34</tspan></text>
<text transform="translate(159.1,971.6) scale(0.7286,1)" font-family='"Liberation Serif","Noto Serif CJK SC",serif' font-size="17.86" font-weight="bold" stroke="#000" stroke-width="0.25" fill="#000"><tspan x="0.2 9.6 21.3 28.4 37.8">41.91</tspan></text>
<text transform="translate(213.1,971.6) scale(0.7286,1)" font-family='"Liberation Serif","Noto Serif CJK SC",serif' font-size="17.86" font-weight="bold" stroke="#000" stroke-width="0.25" fill="#000"><tspan x="0.2 9.6 21.3 28.4 37.8">43.18</tspan></text>
<text transform="translate(0,994.8) scale(0.7446,1)" font-family='"Liberation Serif","Noto Serif CJK SC",serif' font-size="17.86" font-weight="bold" stroke="#000" stroke-width="0.25" fill="#000"><tspan x="148.6">2</tspan><tspan x="158" y="1.1" font-size="23.2" stroke-width="0.1">×</tspan><tspan x="170.9 180.3" y="0">35</tspan></text>
<text transform="translate(159.1,994.8) scale(0.7286,1)" font-family='"Liberation Serif","Noto Serif CJK SC",serif' font-size="17.86" font-weight="bold" stroke="#000" stroke-width="0.25" fill="#000"><tspan x="0.2 9.6 21.3 28.4 37.8">43.18</tspan></text>
<text transform="translate(213.1,994.8) scale(0.7286,1)" font-family='"Liberation Serif","Noto Serif CJK SC",serif' font-size="17.86" font-weight="bold" stroke="#000" stroke-width="0.25" fill="#000"><tspan x="0.2 9.6 21.3 28.4 37.8">44.45</tspan></text>
<text transform="translate(0,1018) scale(0.7446,1)" font-family='"Liberation Serif","Noto Serif CJK SC",serif' font-size="17.86" font-weight="bold" stroke="#000" stroke-width="0.25" fill="#000"><tspan x="148.6">2</tspan><tspan x="158" y="1.1" font-size="23.2" stroke-width="0.1">×</tspan><tspan x="170.9 180.3" y="0">36</tspan></text>
<text transform="translate(159.1,1018) scale(0.7286,1)" font-family='"Liberation Serif","Noto Serif CJK SC",serif' font-size="17.86" font-weight="bold" stroke="#000" stroke-width="0.25" fill="#000"><tspan x="0.2 9.6 21.3 28.4 37.8">44.45</tspan></text>
<text transform="translate(213.1,1018) scale(0.7286,1)" font-family='"Liberation Serif","Noto Serif CJK SC",serif' font-size="17.86" font-weight="bold" stroke="#000" stroke-width="0.25" fill="#000"><tspan x="0.2 9.6 21.3 28.4 37.8">45.72</tspan></text>
<text transform="translate(0,1041.2) scale(0.7446,1)" font-family='"Liberation Serif","Noto Serif CJK SC",serif' font-size="17.86" font-weight="bold" stroke="#000" stroke-width="0.25" fill="#000"><tspan x="148.6">2</tspan><tspan x="158" y="1.1" font-size="23.2" stroke-width="0.1">×</tspan><tspan x="170.9 180.3" y="0">37</tspan></text>
<text transform="translate(159.1,1041.2) scale(0.7286,1)" font-family='"Liberation Serif","Noto Serif CJK SC",serif' font-size="17.86" font-weight="bold" stroke="#000" stroke-width="0.25" fill="#000"><tspan x="0.2 9.6 21.3 28.4 37.8">45.72</tspan></text>
<text transform="translate(213.1,1041.2) scale(0.7286,1)" font-family='"Liberation Serif","Noto Serif CJK SC",serif' font-size="17.86" font-weight="bold" stroke="#000" stroke-width="0.25" fill="#000"><tspan x="0.2 9.6 21.3 28.4 37.8">46.99</tspan></text>
<text transform="translate(0,1064.4) scale(0.7446,1)" font-family='"Liberation Serif","Noto Serif CJK SC",serif' font-size="17.86" font-weight="bold" stroke="#000" stroke-width="0.25" fill="#000"><tspan x="148.6">2</tspan><tspan x="158" y="1.1" font-size="23.2" stroke-width="0.1">×</tspan><tspan x="170.9 180.3" y="0">38</tspan></text>
<text transform="translate(159.1,1064.4) scale(0.7286,1)" font-family='"Liberation Serif","Noto Serif CJK SC",serif' font-size="17.86" font-weight="bold" stroke="#000" stroke-width="0.25" fill="#000"><tspan x="0.2 9.6 21.3 28.4 37.8">46.99</tspan></text>
<text transform="translate(213.1,1064.4) scale(0.7286,1)" font-family='"Liberation Serif","Noto Serif CJK SC",serif' font-size="17.86" font-weight="bold" stroke="#000" stroke-width="0.25" fill="#000"><tspan x="0.2 9.6 21.3 28.4 37.8">48.26</tspan></text>
<text transform="translate(0,1087.6) scale(0.7446,1)" font-family='"Liberation Serif","Noto Serif CJK SC",serif' font-size="17.86" font-weight="bold" stroke="#000" stroke-width="0.25" fill="#000"><tspan x="148.6">2</tspan><tspan x="158" y="1.1" font-size="23.2" stroke-width="0.1">×</tspan><tspan x="170.9 180.3" y="0">39</tspan></text>
<text transform="translate(159.1,1087.6) scale(0.7286,1)" font-family='"Liberation Serif","Noto Serif CJK SC",serif' font-size="17.86" font-weight="bold" stroke="#000" stroke-width="0.25" fill="#000"><tspan x="0.2 9.6 21.3 28.4 37.8">48.26</tspan></text>
<text transform="translate(213.1,1087.6) scale(0.7286,1)" font-family='"Liberation Serif","Noto Serif CJK SC",serif' font-size="17.86" font-weight="bold" stroke="#000" stroke-width="0.25" fill="#000"><tspan x="0.2 9.6 21.3 28.4 37.8">49.53</tspan></text>
<text transform="translate(0,1110.8) scale(0.7446,1)" font-family='"Liberation Serif","Noto Serif CJK SC",serif' font-size="17.86" font-weight="bold" stroke="#000" stroke-width="0.25" fill="#000"><tspan x="148.6">2</tspan><tspan x="158" y="1.1" font-size="23.2" stroke-width="0.1">×</tspan><tspan x="170.9 180.3" y="0">40</tspan></text>
<text transform="translate(159.1,1110.8) scale(0.7286,1)" font-family='"Liberation Serif","Noto Serif CJK SC",serif' font-size="17.86" font-weight="bold" stroke="#000" stroke-width="0.25" fill="#000"><tspan x="0.2 9.6 21.3 28.4 37.8">49.53</tspan></text>
<text transform="translate(213.1,1110.8) scale(0.7286,1)" font-family='"Liberation Serif","Noto Serif CJK SC",serif' font-size="17.86" font-weight="bold" stroke="#000" stroke-width="0.25" fill="#000"><tspan x="0.2 9.6 21.3 28.4 37.8">50.80</tspan></text>
<text transform="translate(0,1134.1) scale(0.7446,1)" font-family='"Liberation Serif","Noto Serif CJK SC",serif' font-size="17.86" font-weight="bold" stroke="#000" stroke-width="0.25" fill="#000"><tspan x="148.6">2</tspan><tspan x="158" y="1.1" font-size="23.2" stroke-width="0.1">×</tspan><tspan x="170.9 180.3" y="0">41</tspan></text>
<text transform="translate(159.1,1134.1) scale(0.7286,1)" font-family='"Liberation Serif","Noto Serif CJK SC",serif' font-size="17.86" font-weight="bold" stroke="#000" stroke-width="0.25" fill="#000"><tspan x="0.2 9.6 21.3 28.4 37.8">50.80</tspan></text>
<text transform="translate(213.1,1134.1) scale(0.7286,1)" font-family='"Liberation Serif","Noto Serif CJK SC",serif' font-size="17.86" font-weight="bold" stroke="#000" stroke-width="0.25" fill="#000"><tspan x="0.2 9.6 21.3 28.4 37.8">52.07</tspan></text>
<text transform="translate(0,1157.3) scale(0.7446,1)" font-family='"Liberation Serif","Noto Serif CJK SC",serif' font-size="17.86" font-weight="bold" stroke="#000" stroke-width="0.25" fill="#000"><tspan x="148.6">2</tspan><tspan x="158" y="1.1" font-size="23.2" stroke-width="0.1">×</tspan><tspan x="170.9 180.3" y="0">42</tspan></text>
<text transform="translate(159.1,1157.3) scale(0.7286,1)" font-family='"Liberation Serif","Noto Serif CJK SC",serif' font-size="17.86" font-weight="bold" stroke="#000" stroke-width="0.25" fill="#000"><tspan x="0.2 9.6 21.3 28.4 37.8">52.07</tspan></text>
<text transform="translate(213.1,1157.3) scale(0.7286,1)" font-family='"Liberation Serif","Noto Serif CJK SC",serif' font-size="17.86" font-weight="bold" stroke="#000" stroke-width="0.25" fill="#000"><tspan x="0.2 9.6 21.3 28.4 37.8">53.34</tspan></text>
<text transform="translate(0,1180.5) scale(0.7446,1)" font-family='"Liberation Serif","Noto Serif CJK SC",serif' font-size="17.86" font-weight="bold" stroke="#000" stroke-width="0.25" fill="#000"><tspan x="148.6">2</tspan><tspan x="158" y="1.1" font-size="23.2" stroke-width="0.1">×</tspan><tspan x="170.9 180.3" y="0">43</tspan></text>
<text transform="translate(159.1,1180.5) scale(0.7286,1)" font-family='"Liberation Serif","Noto Serif CJK SC",serif' font-size="17.86" font-weight="bold" stroke="#000" stroke-width="0.25" fill="#000"><tspan x="0.2 9.6 21.3 28.4 37.8">53.34</tspan></text>
<text transform="translate(213.1,1180.5) scale(0.7286,1)" font-family='"Liberation Serif","Noto Serif CJK SC",serif' font-size="17.86" font-weight="bold" stroke="#000" stroke-width="0.25" fill="#000"><tspan x="0.2 9.6 21.3 28.4 37.8">54.61</tspan></text>
<text transform="translate(0,1203.7) scale(0.7446,1)" font-family='"Liberation Serif","Noto Serif CJK SC",serif' font-size="17.86" font-weight="bold" stroke="#000" stroke-width="0.25" fill="#000"><tspan x="148.6">2</tspan><tspan x="158" y="1.1" font-size="23.2" stroke-width="0.1">×</tspan><tspan x="170.9 180.3" y="0">44</tspan></text>
<text transform="translate(159.1,1203.7) scale(0.7286,1)" font-family='"Liberation Serif","Noto Serif CJK SC",serif' font-size="17.86" font-weight="bold" stroke="#000" stroke-width="0.25" fill="#000"><tspan x="0.2 9.6 21.3 28.4 37.8">54.61</tspan></text>
<text transform="translate(213.1,1203.7) scale(0.7286,1)" font-family='"Liberation Serif","Noto Serif CJK SC",serif' font-size="17.86" font-weight="bold" stroke="#000" stroke-width="0.25" fill="#000"><tspan x="0.2 9.6 21.3 28.4 37.8">55.88</tspan></text>
<text transform="translate(0,1226.9) scale(0.7446,1)" font-family='"Liberation Serif","Noto Serif CJK SC",serif' font-size="17.86" font-weight="bold" stroke="#000" stroke-width="0.25" fill="#000"><tspan x="148.6">2</tspan><tspan x="158" y="1.1" font-size="23.2" stroke-width="0.1">×</tspan><tspan x="170.9 180.3" y="0">45</tspan></text>
<text transform="translate(159.1,1226.9) scale(0.7286,1)" font-family='"Liberation Serif","Noto Serif CJK SC",serif' font-size="17.86" font-weight="bold" stroke="#000" stroke-width="0.25" fill="#000"><tspan x="0.2 9.6 21.3 28.4 37.8">55.88</tspan></text>
<text transform="translate(213.1,1226.9) scale(0.7286,1)" font-family='"Liberation Serif","Noto Serif CJK SC",serif' font-size="17.86" font-weight="bold" stroke="#000" stroke-width="0.25" fill="#000"><tspan x="0.2 9.6 21.3 28.4 37.8">57.15</tspan></text>
<text transform="translate(0,1250.1) scale(0.7446,1)" font-family='"Liberation Serif","Noto Serif CJK SC",serif' font-size="17.86" font-weight="bold" stroke="#000" stroke-width="0.25" fill="#000"><tspan x="148.6">2</tspan><tspan x="158" y="1.1" font-size="23.2" stroke-width="0.1">×</tspan><tspan x="170.9 180.3" y="0">46</tspan></text>
<text transform="translate(159.1,1250.1) scale(0.7286,1)" font-family='"Liberation Serif","Noto Serif CJK SC",serif' font-size="17.86" font-weight="bold" stroke="#000" stroke-width="0.25" fill="#000"><tspan x="0.2 9.6 21.3 28.4 37.8">57.15</tspan></text>
<text transform="translate(213.1,1250.1) scale(0.7286,1)" font-family='"Liberation Serif","Noto Serif CJK SC",serif' font-size="17.86" font-weight="bold" stroke="#000" stroke-width="0.25" fill="#000"><tspan x="0.2 9.6 21.3 28.4 37.8">58.42</tspan></text>
<text transform="translate(0,1273.3) scale(0.7446,1)" font-family='"Liberation Serif","Noto Serif CJK SC",serif' font-size="17.86" font-weight="bold" stroke="#000" stroke-width="0.25" fill="#000"><tspan x="148.6">2</tspan><tspan x="158" y="1.1" font-size="23.2" stroke-width="0.1">×</tspan><tspan x="170.9 180.3" y="0">47</tspan></text>
<text transform="translate(159.1,1273.3) scale(0.7286,1)" font-family='"Liberation Serif","Noto Serif CJK SC",serif' font-size="17.86" font-weight="bold" stroke="#000" stroke-width="0.25" fill="#000"><tspan x="0.2 9.6 21.3 28.4 37.8">58.42</tspan></text>
<text transform="translate(213.1,1273.3) scale(0.7286,1)" font-family='"Liberation Serif","Noto Serif CJK SC",serif' font-size="17.86" font-weight="bold" stroke="#000" stroke-width="0.25" fill="#000"><tspan x="0.2 9.6 21.3 28.4 37.8">59.69</tspan></text>
<text transform="translate(0,1296.5) scale(0.7446,1)" font-family='"Liberation Serif","Noto Serif CJK SC",serif' font-size="17.86" font-weight="bold" stroke="#000" stroke-width="0.25" fill="#000"><tspan x="148.6">2</tspan><tspan x="158" y="1.1" font-size="23.2" stroke-width="0.1">×</tspan><tspan x="170.9 180.3" y="0">48</tspan></text>
<text transform="translate(159.1,1296.5) scale(0.7286,1)" font-family='"Liberation Serif","Noto Serif CJK SC",serif' font-size="17.86" font-weight="bold" stroke="#000" stroke-width="0.25" fill="#000"><tspan x="0.2 9.6 21.3 28.4 37.8">59.69</tspan></text>
<text transform="translate(213.1,1296.5) scale(0.7286,1)" font-family='"Liberation Serif","Noto Serif CJK SC",serif' font-size="17.86" font-weight="bold" stroke="#000" stroke-width="0.25" fill="#000"><tspan x="0.2 9.6 21.3 28.4 37.8">60.96</tspan></text>
<text transform="translate(0,1319.7) scale(0.7446,1)" font-family='"Liberation Serif","Noto Serif CJK SC",serif' font-size="17.86" font-weight="bold" stroke="#000" stroke-width="0.25" fill="#000"><tspan x="148.6">2</tspan><tspan x="158" y="1.1" font-size="23.2" stroke-width="0.1">×</tspan><tspan x="170.9 180.3" y="0">49</tspan></text>
<text transform="translate(159.1,1319.7) scale(0.7286,1)" font-family='"Liberation Serif","Noto Serif CJK SC",serif' font-size="17.86" font-weight="bold" stroke="#000" stroke-width="0.25" fill="#000"><tspan x="0.2 9.6 21.3 28.4 37.8">60.96</tspan></text>
<text transform="translate(213.1,1319.7) scale(0.7286,1)" font-family='"Liberation Serif","Noto Serif CJK SC",serif' font-size="17.86" font-weight="bold" stroke="#000" stroke-width="0.25" fill="#000"><tspan x="0.2 9.6 21.3 28.4 37.8">62.23</tspan></text>
<text transform="translate(0,1342.9) scale(0.7446,1)" font-family='"Liberation Serif","Noto Serif CJK SC",serif' font-size="17.86" font-weight="bold" stroke="#000" stroke-width="0.25" fill="#000"><tspan x="148.6">2</tspan><tspan x="158" y="1.1" font-size="23.2" stroke-width="0.1">×</tspan><tspan x="170.9 180.3" y="0">50</tspan></text>
<text transform="translate(159.1,1342.9) scale(0.7286,1)" font-family='"Liberation Serif","Noto Serif CJK SC",serif' font-size="17.86" font-weight="bold" stroke="#000" stroke-width="0.25" fill="#000"><tspan x="0.2 9.6 21.3 28.4 37.8">62.23</tspan></text>
<text transform="translate(213.1,1342.9) scale(0.7286,1)" font-family='"Liberation Serif","Noto Serif CJK SC",serif' font-size="17.86" font-weight="bold" stroke="#000" stroke-width="0.25" fill="#000"><tspan x="0.2 9.6 21.3 28.4 37.8">63.50</tspan></text>
<path d="M330.6,208 L330.6,207 Q331.5,201.5 333.7,198.6 L340.3,198.6 Q342.5,201.5 343.4,207 L343.4,208" stroke-width="3" fill="none" stroke-linejoin="miter"/>
<line x1="330.6" y1="207.5" x2="343.4" y2="207.5" stroke-width="3" />
<line x1="330.5" y1="207" x2="330.5" y2="261.5" stroke-width="3" />
<line x1="343.5" y1="207" x2="343.5" y2="261.5" stroke-width="3" />
<line x1="330.5" y1="315" x2="330.5" y2="403.3" stroke-width="3" />
<line x1="343.5" y1="315" x2="343.5" y2="403.3" stroke-width="3" />
<path d="M375.5,208 L375.5,207 Q376.4,201.5 378.6,198.6 L385.2,198.6 Q387.3,201.5 388.2,207 L388.2,208" stroke-width="3" fill="none" stroke-linejoin="miter"/>
<line x1="375.5" y1="207.5" x2="388.2" y2="207.5" stroke-width="3" />
<line x1="375.5" y1="207" x2="375.5" y2="261.5" stroke-width="3" />
<line x1="388.5" y1="207" x2="388.5" y2="261.5" stroke-width="3" />
<line x1="375.5" y1="315" x2="375.5" y2="403.3" stroke-width="3" />
<line x1="388.5" y1="315" x2="388.5" y2="403.3" stroke-width="3" />
<path d="M420.4,208 L420.4,207 Q421.3,201.5 423.5,198.6 L430.1,198.6 Q432.2,201.5 433.1,207 L433.1,208" stroke-width="3" fill="none" stroke-linejoin="miter"/>
<line x1="420.4" y1="207.5" x2="433.1" y2="207.5" stroke-width="3" />
<line x1="420.5" y1="207" x2="420.5" y2="261.5" stroke-width="3" />
<line x1="433.5" y1="207" x2="433.5" y2="261.5" stroke-width="3" />
<line x1="420.5" y1="315" x2="420.5" y2="403.3" stroke-width="3" />
<line x1="433.5" y1="315" x2="433.5" y2="403.3" stroke-width="3" />
<path d="M465.3,208 L465.3,207 Q466.2,201.5 468.3,198.6 L474.9,198.6 Q477.1,201.5 478,207 L478,208" stroke-width="3" fill="none" stroke-linejoin="miter"/>
<line x1="465.3" y1="207.5" x2="478" y2="207.5" stroke-width="3" />
<line x1="465.5" y1="207" x2="465.5" y2="261.5" stroke-width="3" />
<line x1="477.5" y1="207" x2="477.5" y2="261.5" stroke-width="3" />
<line x1="465.5" y1="315" x2="465.5" y2="403.3" stroke-width="3" />
<line x1="477.5" y1="315" x2="477.5" y2="403.3" stroke-width="3" />
<path d="M510.2,208 L510.2,207 Q511.1,201.5 513.2,198.6 L519.8,198.6 Q522,201.5 522.9,207 L522.9,208" stroke-width="3" fill="none" stroke-linejoin="miter"/>
<line x1="510.2" y1="207.5" x2="522.9" y2="207.5" stroke-width="3" />
<line x1="510.5" y1="207" x2="510.5" y2="261.5" stroke-width="3" />
<line x1="522.5" y1="207" x2="522.5" y2="261.5" stroke-width="3" />
<line x1="510.5" y1="315" x2="510.5" y2="403.3" stroke-width="3" />
<line x1="522.5" y1="315" x2="522.5" y2="403.3" stroke-width="3" />
<path d="M555,208 L555,207 Q555.9,201.5 558.1,198.6 L564.7,198.6 Q566.9,201.5 567.8,207 L567.8,208" stroke-width="3" fill="none" stroke-linejoin="miter"/>
<line x1="555" y1="207.5" x2="567.8" y2="207.5" stroke-width="3" />
<line x1="555.5" y1="207" x2="555.5" y2="261.5" stroke-width="3" />
<line x1="567.5" y1="207" x2="567.5" y2="261.5" stroke-width="3" />
<line x1="555.5" y1="315" x2="555.5" y2="403.3" stroke-width="3" />
<line x1="567.5" y1="315" x2="567.5" y2="403.3" stroke-width="3" />
<path d="M599.9,208 L599.9,207 Q600.8,201.5 603,198.6 L609.6,198.6 Q611.7,201.5 612.6,207 L612.6,208" stroke-width="3" fill="none" stroke-linejoin="miter"/>
<line x1="599.9" y1="207.5" x2="612.6" y2="207.5" stroke-width="3" />
<line x1="599.5" y1="207" x2="599.5" y2="261.5" stroke-width="3" />
<line x1="612.5" y1="207" x2="612.5" y2="261.5" stroke-width="3" />
<line x1="599.5" y1="315" x2="599.5" y2="403.3" stroke-width="3" />
<line x1="612.5" y1="315" x2="612.5" y2="403.3" stroke-width="3" />
<path d="M644.8,208 L644.8,207 Q645.7,201.5 647.9,198.6 L654.5,198.6 Q656.6,201.5 657.5,207 L657.5,208" stroke-width="3" fill="none" stroke-linejoin="miter"/>
<line x1="644.8" y1="207.5" x2="657.5" y2="207.5" stroke-width="3" />
<line x1="644.5" y1="207" x2="644.5" y2="261.5" stroke-width="3" />
<line x1="657.5" y1="207" x2="657.5" y2="261.5" stroke-width="3" />
<line x1="644.5" y1="315" x2="644.5" y2="403.3" stroke-width="3" />
<line x1="657.5" y1="315" x2="657.5" y2="403.3" stroke-width="3" />
<path d="M689.7,208 L689.7,207 Q690.6,201.5 692.7,198.6 L699.3,198.6 Q701.5,201.5 702.4,207 L702.4,208" stroke-width="3" fill="none" stroke-linejoin="miter"/>
<line x1="689.7" y1="207.5" x2="702.4" y2="207.5" stroke-width="3" />
<line x1="689.5" y1="207" x2="689.5" y2="261.5" stroke-width="3" />
<line x1="702.5" y1="207" x2="702.5" y2="261.5" stroke-width="3" />
<line x1="689.5" y1="315" x2="689.5" y2="403.3" stroke-width="3" />
<line x1="702.5" y1="315" x2="702.5" y2="403.3" stroke-width="3" />
<path d="M734.6,208 L734.6,207 Q735.5,201.5 737.6,198.6 L744.2,198.6 Q746.4,201.5 747.3,207 L747.3,208" stroke-width="3" fill="none" stroke-linejoin="miter"/>
<line x1="734.6" y1="207.5" x2="747.3" y2="207.5" stroke-width="3" />
<line x1="734.5" y1="207" x2="734.5" y2="261.5" stroke-width="3" />
<line x1="747.5" y1="207" x2="747.5" y2="261.5" stroke-width="3" />
<line x1="734.5" y1="315" x2="734.5" y2="403.3" stroke-width="3" />
<line x1="747.5" y1="315" x2="747.5" y2="403.3" stroke-width="3" />
<path d="M779.4,208 L779.4,207 Q780.3,201.5 782.5,198.6 L789.1,198.6 Q791.2,201.5 792.1,207 L792.1,208" stroke-width="3" fill="none" stroke-linejoin="miter"/>
<line x1="779.4" y1="207.5" x2="792.1" y2="207.5" stroke-width="3" />
<line x1="779.5" y1="207" x2="779.5" y2="261.5" stroke-width="3" />
<line x1="792.5" y1="207" x2="792.5" y2="261.5" stroke-width="3" />
<line x1="779.5" y1="315" x2="779.5" y2="403.3" stroke-width="3" />
<line x1="792.5" y1="315" x2="792.5" y2="403.3" stroke-width="3" />
<path d="M824.3,208 L824.3,207 Q825.2,201.5 827.4,198.6 L834,198.6 Q836.1,201.5 837,207 L837,208" stroke-width="3" fill="none" stroke-linejoin="miter"/>
<line x1="824.3" y1="207.5" x2="837" y2="207.5" stroke-width="3" />
<line x1="824.5" y1="207" x2="824.5" y2="261.5" stroke-width="3" />
<line x1="837.5" y1="207" x2="837.5" y2="261.5" stroke-width="3" />
<line x1="824.5" y1="315" x2="824.5" y2="403.3" stroke-width="3" />
<line x1="837.5" y1="315" x2="837.5" y2="403.3" stroke-width="3" />
<rect x="314.3" y="261.6" width="539.1" height="53.4" stroke-width="3.2" fill="none"/>
<line x1="320.5" y1="261.6" x2="320.5" y2="315" stroke-width="2.7" />
<line x1="847.5" y1="261.6" x2="847.5" y2="315" stroke-width="2.7" />
<line x1="353.5" y1="261.6" x2="353.5" y2="315" stroke-width="2.7" />
<line x1="359.5" y1="261.6" x2="359.5" y2="315" stroke-width="2.7" />
<line x1="365.5" y1="261.6" x2="365.5" y2="315" stroke-width="2.7" />
<line x1="398.5" y1="261.6" x2="398.5" y2="315" stroke-width="2.7" />
<line x1="404.5" y1="261.6" x2="404.5" y2="315" stroke-width="2.7" />
<line x1="410.5" y1="261.6" x2="410.5" y2="315" stroke-width="2.7" />
<line x1="442.5" y1="261.6" x2="442.5" y2="315" stroke-width="2.7" />
<line x1="449.5" y1="261.6" x2="449.5" y2="315" stroke-width="2.7" />
<line x1="455.5" y1="261.6" x2="455.5" y2="315" stroke-width="2.7" />
<line x1="487.5" y1="261.6" x2="487.5" y2="315" stroke-width="2.7" />
<line x1="494.5" y1="261.6" x2="494.5" y2="315" stroke-width="2.7" />
<line x1="500.5" y1="261.6" x2="500.5" y2="315" stroke-width="2.7" />
<line x1="532.5" y1="261.6" x2="532.5" y2="315" stroke-width="2.7" />
<line x1="538.5" y1="261.6" x2="538.5" y2="315" stroke-width="2.7" />
<line x1="545.5" y1="261.6" x2="545.5" y2="315" stroke-width="2.7" />
<line x1="577.5" y1="261.6" x2="577.5" y2="315" stroke-width="2.7" />
<line x1="583.5" y1="261.6" x2="583.5" y2="315" stroke-width="2.7" />
<line x1="590.5" y1="261.6" x2="590.5" y2="315" stroke-width="2.7" />
<line x1="622.5" y1="261.6" x2="622.5" y2="315" stroke-width="2.7" />
<line x1="628.5" y1="261.6" x2="628.5" y2="315" stroke-width="2.7" />
<line x1="634.5" y1="261.6" x2="634.5" y2="315" stroke-width="2.7" />
<line x1="667.5" y1="261.6" x2="667.5" y2="315" stroke-width="2.7" />
<line x1="673.5" y1="261.6" x2="673.5" y2="315" stroke-width="2.7" />
<line x1="679.5" y1="261.6" x2="679.5" y2="315" stroke-width="2.7" />
<line x1="712.5" y1="261.6" x2="712.5" y2="315" stroke-width="2.7" />
<line x1="718.5" y1="261.6" x2="718.5" y2="315" stroke-width="2.7" />
<line x1="724.5" y1="261.6" x2="724.5" y2="315" stroke-width="2.7" />
<line x1="757.5" y1="261.6" x2="757.5" y2="315" stroke-width="2.7" />
<line x1="763.5" y1="261.6" x2="763.5" y2="315" stroke-width="2.7" />
<line x1="769.5" y1="261.6" x2="769.5" y2="315" stroke-width="2.7" />
<line x1="802.5" y1="261.6" x2="802.5" y2="315" stroke-width="2.7" />
<line x1="808.5" y1="261.6" x2="808.5" y2="315" stroke-width="2.7" />
<line x1="814.5" y1="261.6" x2="814.5" y2="315" stroke-width="2.7" />
<path d="M314.3,414.1 L320.7,403.3 L353.6,403.3 L359.4,413.5 L365.2,403.3 L398.5,403.3 L404.3,413.5 L410.1,403.3 L443.4,403.3 L449.2,413.5 L455,403.3 L488.3,403.3 L494.1,413.5 L499.9,403.3 L533.2,403.3 L539,413.5 L544.8,403.3 L578,403.3 L583.8,413.5 L589.6,403.3 L622.9,403.3 L628.7,413.5 L634.5,403.3 L667.8,403.3 L673.6,413.5 L679.4,403.3 L712.7,403.3 L718.5,413.5 L724.3,403.3 L757.6,403.3 L763.4,413.5 L769.2,403.3 L802.4,403.3 L808.2,413.5 L814,403.3 L847,403.3 L853.4,414.1 L853.4,570.6 L847.4,580.2 L814,580.2 L808.2,570 L802.4,580.2 L769.2,580.2 L763.4,570 L757.6,580.2 L724.3,580.2 L718.5,570 L712.7,580.2 L679.4,580.2 L673.6,570 L667.8,580.2 L634.5,580.2 L628.7,570 L622.9,580.2 L589.6,580.2 L583.8,570 L578,580.2 L544.8,580.2 L539,570 L533.2,580.2 L499.9,580.2 L494.1,570 L488.3,580.2 L455,580.2 L449.2,570 L443.4,580.2 L410.1,580.2 L404.3,570 L398.5,580.2 L365.2,580.2 L359.4,570 L353.6,580.2 L320.3,580.2 L314.3,570.6 Z" stroke-width="3.2" fill="none" stroke-linejoin="miter"/>
<rect x="328.1" y="438.3" width="17.8" height="17.6" fill="#000" stroke="none" rx="1"/>
<rect x="334.9" y="445.1" width="4" height="4" fill="#fff" stroke="none"/>
<rect x="328.1" y="528" width="17.8" height="17.6" fill="#000" stroke="none" rx="1"/>
<rect x="334.9" y="534.8" width="4" height="4" fill="#fff" stroke="none"/>
<rect x="373" y="438.3" width="17.8" height="17.6" fill="#000" stroke="none" rx="1"/>
<rect x="379.8" y="445.1" width="4" height="4" fill="#fff" stroke="none"/>
<rect x="373" y="528" width="17.8" height="17.6" fill="#000" stroke="none" rx="1"/>
<rect x="379.8" y="534.8" width="4" height="4" fill="#fff" stroke="none"/>
<rect x="417.9" y="438.3" width="17.8" height="17.6" fill="#000" stroke="none" rx="1"/>
<rect x="424.7" y="445.1" width="4" height="4" fill="#fff" stroke="none"/>
<rect x="417.9" y="528" width="17.8" height="17.6" fill="#000" stroke="none" rx="1"/>
<rect x="424.7" y="534.8" width="4" height="4" fill="#fff" stroke="none"/>
<rect x="462.7" y="438.3" width="17.8" height="17.6" fill="#000" stroke="none" rx="1"/>
<rect x="469.5" y="445.1" width="4" height="4" fill="#fff" stroke="none"/>
<rect x="462.7" y="528" width="17.8" height="17.6" fill="#000" stroke="none" rx="1"/>
<rect x="469.5" y="534.8" width="4" height="4" fill="#fff" stroke="none"/>
<rect x="507.6" y="438.3" width="17.8" height="17.6" fill="#000" stroke="none" rx="1"/>
<rect x="514.4" y="445.1" width="4" height="4" fill="#fff" stroke="none"/>
<rect x="507.6" y="528" width="17.8" height="17.6" fill="#000" stroke="none" rx="1"/>
<rect x="514.4" y="534.8" width="4" height="4" fill="#fff" stroke="none"/>
<rect x="552.5" y="438.3" width="17.8" height="17.6" fill="#000" stroke="none" rx="1"/>
<rect x="559.3" y="445.1" width="4" height="4" fill="#fff" stroke="none"/>
<rect x="552.5" y="528" width="17.8" height="17.6" fill="#000" stroke="none" rx="1"/>
<rect x="559.3" y="534.8" width="4" height="4" fill="#fff" stroke="none"/>
<rect x="597.4" y="438.3" width="17.8" height="17.6" fill="#000" stroke="none" rx="1"/>
<rect x="604.2" y="445.1" width="4" height="4" fill="#fff" stroke="none"/>
<rect x="597.4" y="528" width="17.8" height="17.6" fill="#000" stroke="none" rx="1"/>
<rect x="604.2" y="534.8" width="4" height="4" fill="#fff" stroke="none"/>
<rect x="642.3" y="438.3" width="17.8" height="17.6" fill="#000" stroke="none" rx="1"/>
<rect x="649.1" y="445.1" width="4" height="4" fill="#fff" stroke="none"/>
<rect x="642.3" y="528" width="17.8" height="17.6" fill="#000" stroke="none" rx="1"/>
<rect x="649.1" y="534.8" width="4" height="4" fill="#fff" stroke="none"/>
<rect x="687.1" y="438.3" width="17.8" height="17.6" fill="#000" stroke="none" rx="1"/>
<rect x="693.9" y="445.1" width="4" height="4" fill="#fff" stroke="none"/>
<rect x="687.1" y="528" width="17.8" height="17.6" fill="#000" stroke="none" rx="1"/>
<rect x="693.9" y="534.8" width="4" height="4" fill="#fff" stroke="none"/>
<rect x="732" y="438.3" width="17.8" height="17.6" fill="#000" stroke="none" rx="1"/>
<rect x="738.8" y="445.1" width="4" height="4" fill="#fff" stroke="none"/>
<rect x="732" y="528" width="17.8" height="17.6" fill="#000" stroke="none" rx="1"/>
<rect x="738.8" y="534.8" width="4" height="4" fill="#fff" stroke="none"/>
<rect x="776.9" y="438.3" width="17.8" height="17.6" fill="#000" stroke="none" rx="1"/>
<rect x="783.7" y="445.1" width="4" height="4" fill="#fff" stroke="none"/>
<rect x="776.9" y="528" width="17.8" height="17.6" fill="#000" stroke="none" rx="1"/>
<rect x="783.7" y="534.8" width="4" height="4" fill="#fff" stroke="none"/>
<rect x="821.8" y="438.3" width="17.8" height="17.6" fill="#000" stroke="none" rx="1"/>
<rect x="828.6" y="445.1" width="4" height="4" fill="#fff" stroke="none"/>
<rect x="821.8" y="528" width="17.8" height="17.6" fill="#000" stroke="none" rx="1"/>
<rect x="828.6" y="534.8" width="4" height="4" fill="#fff" stroke="none"/>
<line x1="856.8" y1="261.5" x2="915.2" y2="261.5" stroke-width="1.2" />
<line x1="856.8" y1="315.5" x2="915.2" y2="315.5" stroke-width="1.2" />
<line x1="907.5" y1="261.4" x2="907.5" y2="315.3" stroke-width="1.2" />
<polygon points="908.3,261.4 909.1,263 909.5,267.9 910.5,268.4 910.6,274.4 905,274.4 905.1,268.4 906.1,267.9 906.5,263 907.3,261.4" fill="#000" stroke="none"/>
<polygon points="907.3,315.3 906.5,313.7 906.1,308.8 905.1,308.3 905,302.3 910.6,302.3 910.5,308.3 909.5,308.8 909.1,313.7 908.3,315.3" fill="#000" stroke="none"/>
<text transform="translate(900.6,294.4) rotate(-90) scale(0.7840,1)" font-family='"Liberation Serif","Noto Serif CJK SC",serif' font-size="30.53" font-weight="bold" stroke="none" fill="#000"><tspan x="0.2" textLength="15.6" lengthAdjust="spacingAndGlyphs" stroke="#000" stroke-width="0.52">H</tspan></text>
<line x1="851.5" y1="403.5" x2="915.2" y2="403.5" stroke-width="1.2" />
<line x1="850.5" y1="580.5" x2="915.2" y2="580.5" stroke-width="1.2" />
<line x1="907.5" y1="403.2" x2="907.5" y2="580.2" stroke-width="1.2" />
<polygon points="908.3,403.2 909.1,404.8 909.5,409.7 910.5,410.2 910.6,416.2 905,416.2 905.1,410.2 906.1,409.7 906.5,404.8 907.3,403.2" fill="#000" stroke="none"/>
<polygon points="907.3,580.2 906.5,578.6 906.1,573.7 905.1,573.2 905,567.2 910.6,567.2 910.5,573.2 909.5,573.7 909.1,578.6 908.3,580.2" fill="#000" stroke="none"/>
<text transform="translate(900.4,498.8) rotate(-90) scale(0.7840,1)" font-family='"Liberation Serif","Noto Serif CJK SC",serif' font-size="30.53" font-weight="bold" stroke="#000" stroke-width="0.5" fill="#000"><tspan x="0.2" textLength="15.6" lengthAdjust="spacingAndGlyphs" stroke="#000" stroke-width="1.34">W</tspan></text>
<line x1="314.5" y1="572" x2="314.5" y2="632.5" stroke-width="1.2" />
<line x1="853.5" y1="572" x2="853.5" y2="632.5" stroke-width="1.2" />
<line x1="314.3" y1="625.5" x2="854" y2="625.5" stroke-width="1.2" />
<polygon points="314.3,624.5 315.9,623.7 320.8,623.3 321.3,622.3 327.3,622.2 327.3,627.8 321.3,627.7 320.8,626.7 315.9,626.3 314.3,625.5" fill="#000" stroke="none"/>
<polygon points="854,625.5 852.4,626.3 847.5,626.7 847,627.7 841,627.8 841,622.2 847,622.3 847.5,623.3 852.4,623.7 854,624.5" fill="#000" stroke="none"/>
<text transform="translate(545.4,615.7) scale(0.7229,1)" font-family='"Liberation Serif","Noto Serif CJK SC",serif' font-size="28.40" stroke="#000" stroke-width="0.6" fill="#000"><tspan x="0.2" textLength="14.5" lengthAdjust="spacingAndGlyphs" stroke="#000" stroke-width="0.88">B</tspan><tspan x="19.4" textLength="20.9" lengthAdjust="spacingAndGlyphs">±</tspan><tspan x="45.2 63.7 75.1 90">0.25</tspan></text>
<circle cx="1087.3" cy="353.2" r="12" stroke-width="3.1" fill="none"/>
<line x1="1068.5" y1="353.5" x2="1074.3" y2="353.5" stroke-width="1.2" />
<line x1="1100.3" y1="353.5" x2="1106.1" y2="353.5" stroke-width="1.2" />
<line x1="1087.5" y1="334.4" x2="1087.5" y2="340.2" stroke-width="1.2" />
<line x1="1087.5" y1="366.2" x2="1087.5" y2="372" stroke-width="1.2" />
<line x1="1082.1" y1="353.5" x2="1092.5" y2="353.5" stroke-width="1.2" />
<line x1="1087.5" y1="348" x2="1087.5" y2="358.4" stroke-width="1.2" />
<circle cx="1132.2" cy="353.2" r="12" stroke-width="3.1" fill="none"/>
<line x1="1113.4" y1="353.5" x2="1119.2" y2="353.5" stroke-width="1.2" />
<line x1="1145.2" y1="353.5" x2="1151" y2="353.5" stroke-width="1.2" />
<line x1="1132.5" y1="334.4" x2="1132.5" y2="340.2" stroke-width="1.2" />
<line x1="1132.5" y1="366.2" x2="1132.5" y2="372" stroke-width="1.2" />
<line x1="1127" y1="353.5" x2="1137.4" y2="353.5" stroke-width="1.2" />
<line x1="1132.5" y1="348" x2="1132.5" y2="358.4" stroke-width="1.2" />
<circle cx="1177.1" cy="353.2" r="12" stroke-width="3.1" fill="none"/>
<line x1="1158.3" y1="353.5" x2="1164.1" y2="353.5" stroke-width="1.2" />
<line x1="1190.1" y1="353.5" x2="1195.9" y2="353.5" stroke-width="1.2" />
<line x1="1177.5" y1="334.4" x2="1177.5" y2="340.2" stroke-width="1.2" />
<line x1="1177.5" y1="366.2" x2="1177.5" y2="372" stroke-width="1.2" />
<line x1="1171.9" y1="353.5" x2="1182.3" y2="353.5" stroke-width="1.2" />
<line x1="1177.5" y1="348" x2="1177.5" y2="358.4" stroke-width="1.2" />
<circle cx="1222" cy="353.2" r="12" stroke-width="3.1" fill="none"/>
<line x1="1203.2" y1="353.5" x2="1209" y2="353.5" stroke-width="1.2" />
<line x1="1235" y1="353.5" x2="1240.8" y2="353.5" stroke-width="1.2" />
<line x1="1222.5" y1="334.4" x2="1222.5" y2="340.2" stroke-width="1.2" />
<line x1="1222.5" y1="366.2" x2="1222.5" y2="372" stroke-width="1.2" />
<line x1="1216.8" y1="353.5" x2="1227.2" y2="353.5" stroke-width="1.2" />
<line x1="1222.5" y1="348" x2="1222.5" y2="358.4" stroke-width="1.2" />
<circle cx="1266.9" cy="353.2" r="12" stroke-width="3.1" fill="none"/>
<line x1="1248.1" y1="353.5" x2="1253.9" y2="353.5" stroke-width="1.2" />
<line x1="1279.9" y1="353.5" x2="1285.7" y2="353.5" stroke-width="1.2" />
<line x1="1266.5" y1="334.4" x2="1266.5" y2="340.2" stroke-width="1.2" />
<line x1="1266.5" y1="366.2" x2="1266.5" y2="372" stroke-width="1.2" />
<line x1="1261.7" y1="353.5" x2="1272.1" y2="353.5" stroke-width="1.2" />
<line x1="1266.5" y1="348" x2="1266.5" y2="358.4" stroke-width="1.2" />
<circle cx="1311.8" cy="353.2" r="12" stroke-width="3.1" fill="none"/>
<line x1="1293" y1="353.5" x2="1298.8" y2="353.5" stroke-width="1.2" />
<line x1="1324.8" y1="353.5" x2="1330.6" y2="353.5" stroke-width="1.2" />
<line x1="1311.5" y1="334.4" x2="1311.5" y2="340.2" stroke-width="1.2" />
<line x1="1311.5" y1="366.2" x2="1311.5" y2="372" stroke-width="1.2" />
<line x1="1306.6" y1="353.5" x2="1317" y2="353.5" stroke-width="1.2" />
<line x1="1311.5" y1="348" x2="1311.5" y2="358.4" stroke-width="1.2" />
<circle cx="1356.7" cy="353.2" r="12" stroke-width="3.1" fill="none"/>
<line x1="1337.9" y1="353.5" x2="1343.7" y2="353.5" stroke-width="1.2" />
<line x1="1369.7" y1="353.5" x2="1375.5" y2="353.5" stroke-width="1.2" />
<line x1="1356.5" y1="334.4" x2="1356.5" y2="340.2" stroke-width="1.2" />
<line x1="1356.5" y1="366.2" x2="1356.5" y2="372" stroke-width="1.2" />
<line x1="1351.5" y1="353.5" x2="1361.9" y2="353.5" stroke-width="1.2" />
<line x1="1356.5" y1="348" x2="1356.5" y2="358.4" stroke-width="1.2" />
<circle cx="1401.6" cy="353.2" r="12" stroke-width="3.1" fill="none"/>
<line x1="1382.8" y1="353.5" x2="1388.6" y2="353.5" stroke-width="1.2" />
<line x1="1414.6" y1="353.5" x2="1420.4" y2="353.5" stroke-width="1.2" />
<line x1="1401.5" y1="334.4" x2="1401.5" y2="340.2" stroke-width="1.2" />
<line x1="1401.5" y1="366.2" x2="1401.5" y2="372" stroke-width="1.2" />
<line x1="1396.4" y1="353.5" x2="1406.8" y2="353.5" stroke-width="1.2" />
<line x1="1401.5" y1="348" x2="1401.5" y2="358.4" stroke-width="1.2" />
<circle cx="1446.5" cy="353.2" r="12" stroke-width="3.1" fill="none"/>
<line x1="1427.7" y1="353.5" x2="1433.5" y2="353.5" stroke-width="1.2" />
<line x1="1459.5" y1="353.5" x2="1465.3" y2="353.5" stroke-width="1.2" />
<line x1="1446.5" y1="334.4" x2="1446.5" y2="340.2" stroke-width="1.2" />
<line x1="1446.5" y1="366.2" x2="1446.5" y2="372" stroke-width="1.2" />
<line x1="1441.3" y1="353.5" x2="1451.7" y2="353.5" stroke-width="1.2" />
<line x1="1446.5" y1="348" x2="1446.5" y2="358.4" stroke-width="1.2" />
<circle cx="1491.4" cy="353.2" r="12" stroke-width="3.1" fill="none"/>
<line x1="1472.6" y1="353.5" x2="1478.4" y2="353.5" stroke-width="1.2" />
<line x1="1504.4" y1="353.5" x2="1510.2" y2="353.5" stroke-width="1.2" />
<line x1="1491.5" y1="334.4" x2="1491.5" y2="340.2" stroke-width="1.2" />
<line x1="1491.5" y1="366.2" x2="1491.5" y2="372" stroke-width="1.2" />
<line x1="1486.2" y1="353.5" x2="1496.6" y2="353.5" stroke-width="1.2" />
<line x1="1491.5" y1="348" x2="1491.5" y2="358.4" stroke-width="1.2" />
<circle cx="1536.3" cy="353.2" r="12" stroke-width="3.1" fill="none"/>
<line x1="1517.5" y1="353.5" x2="1523.3" y2="353.5" stroke-width="1.2" />
<line x1="1549.3" y1="353.5" x2="1555.1" y2="353.5" stroke-width="1.2" />
<line x1="1536.5" y1="334.4" x2="1536.5" y2="340.2" stroke-width="1.2" />
<line x1="1536.5" y1="366.2" x2="1536.5" y2="372" stroke-width="1.2" />
<line x1="1531.1" y1="353.5" x2="1541.5" y2="353.5" stroke-width="1.2" />
<line x1="1536.5" y1="348" x2="1536.5" y2="358.4" stroke-width="1.2" />
<circle cx="1581.2" cy="353.2" r="12" stroke-width="3.1" fill="none"/>
<line x1="1562.4" y1="353.5" x2="1568.2" y2="353.5" stroke-width="1.2" />
<line x1="1594.2" y1="353.5" x2="1600" y2="353.5" stroke-width="1.2" />
<line x1="1581.5" y1="334.4" x2="1581.5" y2="340.2" stroke-width="1.2" />
<line x1="1581.5" y1="366.2" x2="1581.5" y2="372" stroke-width="1.2" />
<line x1="1576" y1="353.5" x2="1586.4" y2="353.5" stroke-width="1.2" />
<line x1="1581.5" y1="348" x2="1581.5" y2="358.4" stroke-width="1.2" />
<circle cx="1087.3" cy="443.3" r="12" stroke-width="3.1" fill="none"/>
<line x1="1068.5" y1="443.5" x2="1074.3" y2="443.5" stroke-width="1.2" />
<line x1="1100.3" y1="443.5" x2="1106.1" y2="443.5" stroke-width="1.2" />
<line x1="1087.5" y1="424.5" x2="1087.5" y2="430.3" stroke-width="1.2" />
<line x1="1087.5" y1="456.3" x2="1087.5" y2="462.1" stroke-width="1.2" />
<line x1="1082.1" y1="443.5" x2="1092.5" y2="443.5" stroke-width="1.2" />
<line x1="1087.5" y1="438.1" x2="1087.5" y2="448.5" stroke-width="1.2" />
<circle cx="1132.2" cy="443.3" r="12" stroke-width="3.1" fill="none"/>
<line x1="1113.4" y1="443.5" x2="1119.2" y2="443.5" stroke-width="1.2" />
<line x1="1145.2" y1="443.5" x2="1151" y2="443.5" stroke-width="1.2" />
<line x1="1132.5" y1="424.5" x2="1132.5" y2="430.3" stroke-width="1.2" />
<line x1="1132.5" y1="456.3" x2="1132.5" y2="462.1" stroke-width="1.2" />
<line x1="1127" y1="443.5" x2="1137.4" y2="443.5" stroke-width="1.2" />
<line x1="1132.5" y1="438.1" x2="1132.5" y2="448.5" stroke-width="1.2" />
<circle cx="1177.1" cy="443.3" r="12" stroke-width="3.1" fill="none"/>
<line x1="1158.3" y1="443.5" x2="1164.1" y2="443.5" stroke-width="1.2" />
<line x1="1190.1" y1="443.5" x2="1195.9" y2="443.5" stroke-width="1.2" />
<line x1="1177.5" y1="424.5" x2="1177.5" y2="430.3" stroke-width="1.2" />
<line x1="1177.5" y1="456.3" x2="1177.5" y2="462.1" stroke-width="1.2" />
<line x1="1171.9" y1="443.5" x2="1182.3" y2="443.5" stroke-width="1.2" />
<line x1="1177.5" y1="438.1" x2="1177.5" y2="448.5" stroke-width="1.2" />
<circle cx="1222" cy="443.3" r="12" stroke-width="3.1" fill="none"/>
<line x1="1203.2" y1="443.5" x2="1209" y2="443.5" stroke-width="1.2" />
<line x1="1235" y1="443.5" x2="1240.8" y2="443.5" stroke-width="1.2" />
<line x1="1222.5" y1="424.5" x2="1222.5" y2="430.3" stroke-width="1.2" />
<line x1="1222.5" y1="456.3" x2="1222.5" y2="462.1" stroke-width="1.2" />
<line x1="1216.8" y1="443.5" x2="1227.2" y2="443.5" stroke-width="1.2" />
<line x1="1222.5" y1="438.1" x2="1222.5" y2="448.5" stroke-width="1.2" />
<circle cx="1266.9" cy="443.3" r="12" stroke-width="3.1" fill="none"/>
<line x1="1248.1" y1="443.5" x2="1253.9" y2="443.5" stroke-width="1.2" />
<line x1="1279.9" y1="443.5" x2="1285.7" y2="443.5" stroke-width="1.2" />
<line x1="1266.5" y1="424.5" x2="1266.5" y2="430.3" stroke-width="1.2" />
<line x1="1266.5" y1="456.3" x2="1266.5" y2="462.1" stroke-width="1.2" />
<line x1="1261.7" y1="443.5" x2="1272.1" y2="443.5" stroke-width="1.2" />
<line x1="1266.5" y1="438.1" x2="1266.5" y2="448.5" stroke-width="1.2" />
<circle cx="1311.8" cy="443.3" r="12" stroke-width="3.1" fill="none"/>
<line x1="1293" y1="443.5" x2="1298.8" y2="443.5" stroke-width="1.2" />
<line x1="1324.8" y1="443.5" x2="1330.6" y2="443.5" stroke-width="1.2" />
<line x1="1311.5" y1="424.5" x2="1311.5" y2="430.3" stroke-width="1.2" />
<line x1="1311.5" y1="456.3" x2="1311.5" y2="462.1" stroke-width="1.2" />
<line x1="1306.6" y1="443.5" x2="1317" y2="443.5" stroke-width="1.2" />
<line x1="1311.5" y1="438.1" x2="1311.5" y2="448.5" stroke-width="1.2" />
<circle cx="1356.7" cy="443.3" r="12" stroke-width="3.1" fill="none"/>
<line x1="1337.9" y1="443.5" x2="1343.7" y2="443.5" stroke-width="1.2" />
<line x1="1369.7" y1="443.5" x2="1375.5" y2="443.5" stroke-width="1.2" />
<line x1="1356.5" y1="424.5" x2="1356.5" y2="430.3" stroke-width="1.2" />
<line x1="1356.5" y1="456.3" x2="1356.5" y2="462.1" stroke-width="1.2" />
<line x1="1351.5" y1="443.5" x2="1361.9" y2="443.5" stroke-width="1.2" />
<line x1="1356.5" y1="438.1" x2="1356.5" y2="448.5" stroke-width="1.2" />
<circle cx="1401.6" cy="443.3" r="12" stroke-width="3.1" fill="none"/>
<line x1="1382.8" y1="443.5" x2="1388.6" y2="443.5" stroke-width="1.2" />
<line x1="1414.6" y1="443.5" x2="1420.4" y2="443.5" stroke-width="1.2" />
<line x1="1401.5" y1="424.5" x2="1401.5" y2="430.3" stroke-width="1.2" />
<line x1="1401.5" y1="456.3" x2="1401.5" y2="462.1" stroke-width="1.2" />
<line x1="1396.4" y1="443.5" x2="1406.8" y2="443.5" stroke-width="1.2" />
<line x1="1401.5" y1="438.1" x2="1401.5" y2="448.5" stroke-width="1.2" />
<circle cx="1446.5" cy="443.3" r="12" stroke-width="3.1" fill="none"/>
<line x1="1427.7" y1="443.5" x2="1433.5" y2="443.5" stroke-width="1.2" />
<line x1="1459.5" y1="443.5" x2="1465.3" y2="443.5" stroke-width="1.2" />
<line x1="1446.5" y1="424.5" x2="1446.5" y2="430.3" stroke-width="1.2" />
<line x1="1446.5" y1="456.3" x2="1446.5" y2="462.1" stroke-width="1.2" />
<line x1="1441.3" y1="443.5" x2="1451.7" y2="443.5" stroke-width="1.2" />
<line x1="1446.5" y1="438.1" x2="1446.5" y2="448.5" stroke-width="1.2" />
<circle cx="1491.4" cy="443.3" r="12" stroke-width="3.1" fill="none"/>
<line x1="1472.6" y1="443.5" x2="1478.4" y2="443.5" stroke-width="1.2" />
<line x1="1504.4" y1="443.5" x2="1510.2" y2="443.5" stroke-width="1.2" />
<line x1="1491.5" y1="424.5" x2="1491.5" y2="430.3" stroke-width="1.2" />
<line x1="1491.5" y1="456.3" x2="1491.5" y2="462.1" stroke-width="1.2" />
<line x1="1486.2" y1="443.5" x2="1496.6" y2="443.5" stroke-width="1.2" />
<line x1="1491.5" y1="438.1" x2="1491.5" y2="448.5" stroke-width="1.2" />
<circle cx="1536.3" cy="443.3" r="12" stroke-width="3.1" fill="none"/>
<line x1="1517.5" y1="443.5" x2="1523.3" y2="443.5" stroke-width="1.2" />
<line x1="1549.3" y1="443.5" x2="1555.1" y2="443.5" stroke-width="1.2" />
<line x1="1536.5" y1="424.5" x2="1536.5" y2="430.3" stroke-width="1.2" />
<line x1="1536.5" y1="456.3" x2="1536.5" y2="462.1" stroke-width="1.2" />
<line x1="1531.1" y1="443.5" x2="1541.5" y2="443.5" stroke-width="1.2" />
<line x1="1536.5" y1="438.1" x2="1536.5" y2="448.5" stroke-width="1.2" />
<circle cx="1581.2" cy="443.3" r="12" stroke-width="3.1" fill="none"/>
<line x1="1562.4" y1="443.5" x2="1568.2" y2="443.5" stroke-width="1.2" />
<line x1="1594.2" y1="443.5" x2="1600" y2="443.5" stroke-width="1.2" />
<line x1="1581.5" y1="424.5" x2="1581.5" y2="430.3" stroke-width="1.2" />
<line x1="1581.5" y1="456.3" x2="1581.5" y2="462.1" stroke-width="1.2" />
<line x1="1576" y1="443.5" x2="1586.4" y2="443.5" stroke-width="1.2" />
<line x1="1581.5" y1="438.1" x2="1581.5" y2="448.5" stroke-width="1.2" />
<text transform="translate(1210.7,312) scale(0.7128,1)" font-family='"Liberation Serif","Noto Serif CJK SC",serif' font-size="42.75" stroke="#000" stroke-width="0.6" fill="#000"><tspan x="0.3" textLength="21.8" lengthAdjust="spacingAndGlyphs">P</tspan><tspan x="22.8" textLength="21.8" lengthAdjust="spacingAndGlyphs" stroke="#000" stroke-width="0.88">C</tspan><tspan x="45.3" textLength="21.8" lengthAdjust="spacingAndGlyphs" stroke="#000" stroke-width="0.88">B</tspan><tspan x="73.4"> </tspan><tspan x="90.3" textLength="21.8" lengthAdjust="spacingAndGlyphs">L</tspan><tspan x="112.8" textLength="21.8" lengthAdjust="spacingAndGlyphs" stroke="#000" stroke-width="1.01">A</tspan><tspan x="135.3" textLength="21.8" lengthAdjust="spacingAndGlyphs" stroke="#000" stroke-width="1.01">Y</tspan><tspan x="157.8" textLength="21.8" lengthAdjust="spacingAndGlyphs" stroke="#000" stroke-width="1.01">O</tspan><tspan x="180.3" textLength="21.8" lengthAdjust="spacingAndGlyphs" stroke="#000" stroke-width="1.01">U</tspan><tspan x="202.8" textLength="21.8" lengthAdjust="spacingAndGlyphs">T</tspan></text>
<line x1="1003.1" y1="301.1" x2="1122.8" y2="374.5" stroke-width="1.2" />
<polygon points="1075.9,346.4 1074.1,346.2 1069.3,343.9 1068.2,344.6 1062.6,341.3 1065.9,336 1071.3,339.5 1071.2,340.8 1075.4,344 1076.5,345.6" fill="#000" stroke="none"/>
<polygon points="1098.9,359.8 1100.7,360 1105.5,362.3 1106.6,361.6 1112.2,364.9 1108.9,370.2 1103.5,366.7 1103.6,365.4 1099.4,362.2 1098.3,360.6" fill="#000" stroke="none"/>
<g transform="translate(1010.8,298.2) rotate(31.52)">
<text transform="translate(2,-0.5) scale(0.62,1)" font-family='"Liberation Sans","Noto Sans CJK SC",sans-serif' font-size="23.74" stroke="none" fill="#000" font-style="italic">Ø</text>
<text transform="translate(15.7,0.5) scale(0.7180,1)" font-family='"Liberation Serif","Noto Serif CJK SC",serif' font-size="29.77" font-weight="bold" stroke="#000" stroke-width="0.5" fill="#000"><tspan x="0.4 19.8 31.7">0.7</tspan></text>
</g>
<line x1="1602.5" y1="353.5" x2="1648" y2="353.5" stroke-width="1.2" />
<line x1="1602.5" y1="443.5" x2="1648" y2="443.5" stroke-width="1.2" />
<line x1="1642.5" y1="353.2" x2="1642.5" y2="443.3" stroke-width="1.2" />
<polygon points="1642.5,353.2 1643.3,354.8 1643.7,359.7 1644.7,360.2 1644.8,366.2 1639.2,366.2 1639.3,360.2 1640.3,359.7 1640.7,354.8 1641.5,353.2" fill="#000" stroke="none"/>
<polygon points="1641.5,443.3 1640.7,441.7 1640.3,436.8 1639.3,436.3 1639.2,430.3 1644.8,430.3 1644.7,436.3 1643.7,436.8 1643.3,441.7 1642.5,443.3" fill="#000" stroke="none"/>
<text transform="translate(1637,414.5) rotate(-90) scale(0.5856,1)" font-family='"Liberation Serif","Noto Serif CJK SC",serif' font-size="25.95" font-weight="bold" stroke="none" fill="#000"><tspan x="0.3 17.2 27.7 41.3">2.54</tspan></text>
<line x1="1087.5" y1="456.5" x2="1087.5" y2="506.5" stroke-width="1.2" />
<line x1="1132.5" y1="456.5" x2="1132.5" y2="506.5" stroke-width="1.2" />
<line x1="1087.3" y1="499.5" x2="1199.5" y2="499.5" stroke-width="1.2" />
<polygon points="1087.3,498.8 1088.7,498 1093.3,497.8 1093.8,496.8 1099.3,496.7 1099.3,501.9 1093.8,501.8 1093.3,500.9 1088.7,500.6 1087.3,499.8" fill="#000" stroke="none"/>
<polygon points="1132.2,499.8 1130.8,500.6 1126.2,500.9 1125.7,501.8 1120.2,501.9 1120.2,496.7 1125.7,496.8 1126.2,497.8 1130.8,498 1132.2,498.8" fill="#000" stroke="none"/>
<text transform="translate(1151.7,490.9) scale(0.6982,1)" font-family='"Liberation Serif","Noto Serif CJK SC",serif' font-size="28.70" stroke="#000" stroke-width="0.6" fill="#000"><tspan x="0.4 19.1 30.6 45.7">1.27</tspan></text>
<text transform="translate(1747.1,237.6) scale(0.6715,1)" font-family='"Liberation Serif","Noto Serif CJK SC",serif' font-size="36.64" stroke="#000" stroke-width="0.95" fill="#000"><tspan x="0.3" textLength="18.7" lengthAdjust="spacingAndGlyphs">S</tspan><tspan x="19.8 40.1 59.4">pec</tspan><tspan x="80.4" textLength="12.7" lengthAdjust="spacingAndGlyphs">i</tspan><tspan x="99.7" textLength="12.7" lengthAdjust="spacingAndGlyphs">f</tspan><tspan x="119" textLength="12.7" lengthAdjust="spacingAndGlyphs">i</tspan><tspan x="136.5 155.8">ca</tspan><tspan x="176.8" textLength="12.7" lengthAdjust="spacingAndGlyphs">t</tspan><tspan x="196.1" textLength="12.7" lengthAdjust="spacingAndGlyphs">i</tspan><tspan x="212.6 231.9 255.3">on:</tspan></text>
<text transform="translate(1747.1,280.9) scale(0.6715,1)" font-family='"Liberation Serif","Noto Serif CJK SC",serif' font-size="36.64" stroke="#000" stroke-width="0.95" fill="#000"><tspan x="0.3" textLength="18.7" lengthAdjust="spacingAndGlyphs" stroke="#000" stroke-width="1.23">C</tspan><tspan x="19.8">u</tspan><tspan x="41.8" textLength="12.7" lengthAdjust="spacingAndGlyphs">r</tspan><tspan x="61.1" textLength="12.7" lengthAdjust="spacingAndGlyphs">r</tspan><tspan x="78.7 96.9">en</tspan><tspan x="119" textLength="12.7" lengthAdjust="spacingAndGlyphs">t</tspan><tspan x="140.1"> </tspan><tspan x="154.6" textLength="18.7" lengthAdjust="spacingAndGlyphs" stroke="#000" stroke-width="1.23">R</tspan><tspan x="175.1">a</tspan><tspan x="196.1" textLength="12.7" lengthAdjust="spacingAndGlyphs">t</tspan><tspan x="215.4" textLength="12.7" lengthAdjust="spacingAndGlyphs">i</tspan><tspan x="231.9 251.2 275.1 293.8 313.6 328.3">ng : 1</tspan><tspan x="347.4" textLength="18.7" lengthAdjust="spacingAndGlyphs" stroke="#000" stroke-width="1.36">A</tspan><tspan x="366.7" textLength="18.7" lengthAdjust="spacingAndGlyphs" stroke="#000" stroke-width="1.65">M</tspan><tspan x="386" textLength="18.7" lengthAdjust="spacingAndGlyphs">P</tspan></text>
<text transform="translate(1747.1,324.7) scale(0.6715,1)" font-family='"Liberation Serif","Noto Serif CJK SC",serif' font-size="36.64" stroke="#000" stroke-width="0.95" fill="#000"><tspan x="0.3" textLength="18.7" lengthAdjust="spacingAndGlyphs">T</tspan><tspan x="20.8">e</tspan><tspan x="38.9" textLength="18.7" lengthAdjust="spacingAndGlyphs" stroke="#000" stroke-width="1.47">m</tspan><tspan x="58.3 78.7">pe</tspan><tspan x="99.7" textLength="12.7" lengthAdjust="spacingAndGlyphs">r</tspan><tspan x="117.2">a</tspan><tspan x="138.3" textLength="12.7" lengthAdjust="spacingAndGlyphs">t</tspan><tspan x="154.8">u</tspan><tspan x="176.8" textLength="12.7" lengthAdjust="spacingAndGlyphs">r</tspan><tspan x="194.4 217.2">e </tspan><tspan x="231.7" textLength="18.7" lengthAdjust="spacingAndGlyphs" stroke="#000" stroke-width="1.23">R</tspan><tspan x="252.2 270.5 289.8 310.1 332.9 351.7 371.5 389.2 405.5 424.7 444.5">ange : -40℃</tspan><tspan x="485.4" textLength="12.7" lengthAdjust="spacingAndGlyphs">t</tspan><tspan x="501.9">o</tspan><tspan x="521" textLength="18.7" lengthAdjust="spacingAndGlyphs">+</tspan><tspan x="540.5 559.7 579 598.8">105℃</tspan></text>
<text transform="translate(1747.1,367.3) scale(0.6715,1)" font-family='"Liberation Serif","Noto Serif CJK SC",serif' font-size="36.64" stroke="#000" stroke-width="0.95" fill="#000"><tspan x="0.3" textLength="18.7" lengthAdjust="spacingAndGlyphs" stroke="#000" stroke-width="1.23">C</tspan><tspan x="19.8 39.1">on</tspan><tspan x="61.1" textLength="12.7" lengthAdjust="spacingAndGlyphs">t</tspan><tspan x="78.7 97.9">ac</tspan><tspan x="119" textLength="12.7" lengthAdjust="spacingAndGlyphs">t</tspan><tspan x="140.1"> </tspan><tspan x="154.6" textLength="18.7" lengthAdjust="spacingAndGlyphs" stroke="#000" stroke-width="1.23">R</tspan><tspan x="175.1 195.4">es</tspan><tspan x="215.4" textLength="12.7" lengthAdjust="spacingAndGlyphs">i</tspan><tspan x="233.9">s</tspan><tspan x="254" textLength="12.7" lengthAdjust="spacingAndGlyphs">t</tspan><tspan x="271.5 289.8 310.1 329.4 352.2 371 390.8 405.5 424.7">ance : 20</tspan><tspan x="443.8" textLength="18.7" lengthAdjust="spacingAndGlyphs" stroke="#000" stroke-width="1.47">m</tspan><tspan x="468.5 506.5">Ω </tspan><tspan x="521" textLength="18.7" lengthAdjust="spacingAndGlyphs" stroke="#000" stroke-width="1.65">M</tspan><tspan x="541.5 559.7">ax</tspan></text>
<text transform="translate(1747.1,410.5) scale(0.6715,1)" font-family='"Liberation Serif","Noto Serif CJK SC",serif' font-size="36.64" stroke="#000" stroke-width="0.95" fill="#000"><tspan x="3.3" textLength="12.7" lengthAdjust="spacingAndGlyphs">I</tspan><tspan x="19.8 41.1 58.3">nsu</tspan><tspan x="80.4" textLength="12.7" lengthAdjust="spacingAndGlyphs">l</tspan><tspan x="97.9">a</tspan><tspan x="119" textLength="12.7" lengthAdjust="spacingAndGlyphs">t</tspan><tspan x="138.3" textLength="12.7" lengthAdjust="spacingAndGlyphs">i</tspan><tspan x="154.8 174 197.9">on </tspan><tspan x="212.4" textLength="18.7" lengthAdjust="spacingAndGlyphs" stroke="#000" stroke-width="1.23">R</tspan><tspan x="232.9 253.2">es</tspan><tspan x="273.3" textLength="12.7" lengthAdjust="spacingAndGlyphs">i</tspan><tspan x="291.8">s</tspan><tspan x="311.8" textLength="12.7" lengthAdjust="spacingAndGlyphs">t</tspan><tspan x="329.4 347.6 367.9 387.2 410 428.8 448.6 463.3 482.6 501.9 521.2">ance : 1000</tspan><tspan x="540.3" textLength="18.7" lengthAdjust="spacingAndGlyphs" stroke="#000" stroke-width="1.65">M</tspan><tspan x="564.9 602.9">Ω </tspan><tspan x="617.4" textLength="18.7" lengthAdjust="spacingAndGlyphs" stroke="#000" stroke-width="1.65">M</tspan><tspan x="639.7" textLength="12.7" lengthAdjust="spacingAndGlyphs">i</tspan><tspan x="656.2">n</tspan></text>
<text transform="translate(1747.1,453.8) scale(0.6715,1)" font-family='"Liberation Serif","Noto Serif CJK SC",serif' font-size="36.64" stroke="#000" stroke-width="0.95" fill="#000"><tspan x="0.3" textLength="18.7" lengthAdjust="spacingAndGlyphs" stroke="#000" stroke-width="1.73">W</tspan><tspan x="22.6" textLength="12.7" lengthAdjust="spacingAndGlyphs">i</tspan><tspan x="41.8" textLength="12.7" lengthAdjust="spacingAndGlyphs">t</tspan><tspan x="58.3 79.7">hs</tspan><tspan x="99.7" textLength="12.7" lengthAdjust="spacingAndGlyphs">t</tspan><tspan x="117.2 135.5 154.8">and</tspan><tspan x="176.8" textLength="12.7" lengthAdjust="spacingAndGlyphs">i</tspan><tspan x="193.3 212.6 236.5">ng </tspan><tspan x="251" textLength="18.7" lengthAdjust="spacingAndGlyphs" stroke="#000" stroke-width="1.36">V</tspan><tspan x="270.5">o</tspan><tspan x="292.6" textLength="12.7" lengthAdjust="spacingAndGlyphs">l</tspan><tspan x="311.8" textLength="12.7" lengthAdjust="spacingAndGlyphs">t</tspan><tspan x="329.4 347.6 367.9 390.8 409.5 429.3">age : </tspan><tspan x="443.8" textLength="18.7" lengthAdjust="spacingAndGlyphs" stroke="#000" stroke-width="1.36">A</tspan><tspan x="463.1" textLength="18.7" lengthAdjust="spacingAndGlyphs" stroke="#000" stroke-width="1.23">C</tspan><tspan x="487.2 501.9 521.2 540.5"> 500</tspan><tspan x="559.6" textLength="18.7" lengthAdjust="spacingAndGlyphs" stroke="#000" stroke-width="1.36">V</tspan></text>
<text transform="translate(1747.1,496.4) scale(0.6715,1)" font-family='"Liberation Serif","Noto Serif CJK SC",serif' font-size="36.64" stroke="#000" stroke-width="0.95" fill="#000"><tspan x="0.3" textLength="18.7" lengthAdjust="spacingAndGlyphs" stroke="#000" stroke-width="1.65">M</tspan><tspan x="20.8">a</tspan><tspan x="41.8" textLength="12.7" lengthAdjust="spacingAndGlyphs">t</tspan><tspan x="59.4">e</tspan><tspan x="80.4" textLength="12.7" lengthAdjust="spacingAndGlyphs">r</tspan><tspan x="99.7" textLength="12.7" lengthAdjust="spacingAndGlyphs">i</tspan><tspan x="117.2">a</tspan><tspan x="138.3" textLength="12.7" lengthAdjust="spacingAndGlyphs">l</tspan><tspan x="158.8">:</tspan></text>
<text transform="translate(1775.3,541.8) scale(0.6715,1)" font-family='"Liberation Serif","Noto Serif CJK SC",serif' font-size="36.64" stroke="#000" stroke-width="0.95" fill="#000"><tspan x="3.3" textLength="12.7" lengthAdjust="spacingAndGlyphs">I</tspan><tspan x="19.8 41.1 58.3">nsu</tspan><tspan x="80.4" textLength="12.7" lengthAdjust="spacingAndGlyphs">l</tspan><tspan x="97.9">a</tspan><tspan x="119" textLength="12.7" lengthAdjust="spacingAndGlyphs">t</tspan><tspan x="135.5">o</tspan><tspan x="157.6" textLength="12.7" lengthAdjust="spacingAndGlyphs">r</tspan><tspan x="178.6 197.4 217.2"> : </tspan><tspan x="231.7" textLength="18.7" lengthAdjust="spacingAndGlyphs">P</tspan><tspan x="251.2">o</tspan><tspan x="273.3" textLength="12.7" lengthAdjust="spacingAndGlyphs">l</tspan><tspan x="289.8 310.1 330.4">yes</tspan><tspan x="350.4" textLength="12.7" lengthAdjust="spacingAndGlyphs">t</tspan><tspan x="367.9">e</tspan><tspan x="389" textLength="12.7" lengthAdjust="spacingAndGlyphs">r</tspan><tspan x="410 427.8"> (</tspan><tspan x="443.8" textLength="18.7" lengthAdjust="spacingAndGlyphs" stroke="#000" stroke-width="1.36">U</tspan><tspan x="463.1" textLength="18.7" lengthAdjust="spacingAndGlyphs">L</tspan><tspan x="482.6 501.9">94</tspan><tspan x="521" textLength="18.7" lengthAdjust="spacingAndGlyphs" stroke="#000" stroke-width="1.36">V</tspan><tspan x="543.5 559.7 582.1">-0)</tspan></text>
<text transform="translate(1929.1,587.3) scale(0.6715,1)" font-family='"Liberation Serif","Noto Serif CJK SC",serif' font-size="36.64" stroke="#000" stroke-width="0.95" fill="#000"><tspan x="0.3" textLength="18.7" lengthAdjust="spacingAndGlyphs">S</tspan><tspan x="22.6" textLength="12.7" lengthAdjust="spacingAndGlyphs">t</tspan><tspan x="40.1 58.3 77.6 97.9">anda</tspan><tspan x="119" textLength="12.7" lengthAdjust="spacingAndGlyphs">r</tspan><tspan x="135.5 158.8">d:</tspan><tspan x="173.9" textLength="18.7" lengthAdjust="spacingAndGlyphs">P</tspan><tspan x="193.1" textLength="18.7" lengthAdjust="spacingAndGlyphs" stroke="#000" stroke-width="1.23">B</tspan><tspan x="212.4" textLength="18.7" lengthAdjust="spacingAndGlyphs">T</tspan><tspan x="236">/</tspan><tspan x="251" textLength="18.7" lengthAdjust="spacingAndGlyphs">P</tspan><tspan x="270.3" textLength="18.7" lengthAdjust="spacingAndGlyphs" stroke="#000" stroke-width="1.36">A</tspan><tspan x="289.8">6</tspan><tspan x="308.8" textLength="18.7" lengthAdjust="spacingAndGlyphs">T</tspan><tspan x="332.4">/</tspan><tspan x="347.4" textLength="18.7" lengthAdjust="spacingAndGlyphs">L</tspan><tspan x="366.7" textLength="18.7" lengthAdjust="spacingAndGlyphs" stroke="#000" stroke-width="1.23">C</tspan><tspan x="386" textLength="18.7" lengthAdjust="spacingAndGlyphs">P</tspan></text>
<text transform="translate(1774.3,629.9) scale(0.6715,1)" font-family='"Liberation Serif","Noto Serif CJK SC",serif' font-size="36.64" stroke="#000" stroke-width="0.95" fill="#000"><tspan x="0.3" textLength="18.7" lengthAdjust="spacingAndGlyphs" stroke="#000" stroke-width="1.23">C</tspan><tspan x="19.8 39.1">on</tspan><tspan x="61.1" textLength="12.7" lengthAdjust="spacingAndGlyphs">t</tspan><tspan x="78.7 97.9">ac</tspan><tspan x="119" textLength="12.7" lengthAdjust="spacingAndGlyphs">t</tspan><tspan x="139.5 159.3">: </tspan><tspan x="173.9" textLength="18.7" lengthAdjust="spacingAndGlyphs" stroke="#000" stroke-width="1.23">B</tspan><tspan x="196.1" textLength="12.7" lengthAdjust="spacingAndGlyphs">r</tspan><tspan x="213.6 233.9 253.2">ass</tspan></text>
<text transform="translate(1747.1,673.1) scale(0.6715,1)" font-family='"Liberation Serif","Noto Serif CJK SC",serif' font-size="36.64" stroke="#000" stroke-width="0.95" fill="#000"><tspan x="0.3" textLength="18.7" lengthAdjust="spacingAndGlyphs">P</tspan><tspan x="22.6" textLength="12.7" lengthAdjust="spacingAndGlyphs">l</tspan><tspan x="40.1">a</tspan><tspan x="61.1" textLength="12.7" lengthAdjust="spacingAndGlyphs">t</tspan><tspan x="80.4" textLength="12.7" lengthAdjust="spacingAndGlyphs">i</tspan><tspan x="96.9 116.2 140.1 158.8 178.6">ng : </tspan><tspan x="193.1" textLength="18.7" lengthAdjust="spacingAndGlyphs" stroke="#000" stroke-width="1.36">A</tspan><tspan x="212.6 236.5 251.2">u o</tspan><tspan x="273.3" textLength="12.7" lengthAdjust="spacingAndGlyphs">r</tspan><tspan x="294.3"> </tspan><tspan x="308.8" textLength="18.7" lengthAdjust="spacingAndGlyphs">S</tspan><tspan x="328.3 352.2">n </tspan><tspan x="366.7" textLength="18.7" lengthAdjust="spacingAndGlyphs" stroke="#000" stroke-width="1.36">O</tspan><tspan x="386.2 406.5">ve</tspan><tspan x="427.5" textLength="12.7" lengthAdjust="spacingAndGlyphs">r</tspan><tspan x="448.6 463.3 482.6 501.9 522.7 545"> 50u″ </tspan><tspan x="559.6" textLength="18.7" lengthAdjust="spacingAndGlyphs" stroke="#000" stroke-width="1.36">N</tspan><tspan x="581.8" textLength="12.7" lengthAdjust="spacingAndGlyphs">i</tspan></text>
<rect x="1755.4" y="753.4" width="365.3" height="56" stroke-width="1.2" fill="none"/>
<line x1="1755.4" y1="780.5" x2="2120.7" y2="780.5" stroke-width="1.2" />
<text transform="translate(1916.2,772.3) scale(0.7148,1)" font-family='"Liberation Serif","Noto Serif CJK SC",serif' font-size="21.98" font-weight="bold" stroke="none" fill="#000"><tspan x="0.2" textLength="11.2" lengthAdjust="spacingAndGlyphs" stroke="#000" stroke-width="0.52">H</tspan><tspan x="12.5">e</tspan><tspan x="25.1" textLength="7.6" lengthAdjust="spacingAndGlyphs">i</tspan><tspan x="35">g</tspan><tspan x="46.5" textLength="11.2" lengthAdjust="spacingAndGlyphs">h</tspan><tspan x="59.8" textLength="7.6" lengthAdjust="spacingAndGlyphs">t</tspan></text>
<text transform="translate(1763.4,803.1) scale(0.6553,1)" font-family='"Liberation Serif","Noto Serif CJK SC",serif' font-size="23.21" font-weight="bold" stroke="none" fill="#000"><tspan x="0.2" textLength="11.8" lengthAdjust="spacingAndGlyphs" stroke="#000" stroke-width="0.52">H</tspan><tspan x="12.4" textLength="11.8" lengthAdjust="spacingAndGlyphs">=</tspan><tspan x="24.7 39.8 49.2 61.4">0.65</tspan><tspan x="73.5" textLength="11.8" lengthAdjust="spacingAndGlyphs" stroke="#000" stroke-width="0.62">m</tspan><tspan x="85.7" textLength="11.8" lengthAdjust="spacingAndGlyphs" stroke="#000" stroke-width="0.62">m</tspan><tspan x="98.3 122.4 137.6 146.9">、1.0</tspan><tspan x="159" textLength="11.8" lengthAdjust="spacingAndGlyphs" stroke="#000" stroke-width="0.78">M</tspan><tspan x="171.2" textLength="11.8" lengthAdjust="spacingAndGlyphs" stroke="#000" stroke-width="0.78">M</tspan><tspan x="183.8 207.9 223.1 232.4">、1.5</tspan><tspan x="244.5" textLength="11.8" lengthAdjust="spacingAndGlyphs" stroke="#000" stroke-width="0.62">m</tspan><tspan x="256.7" textLength="11.8" lengthAdjust="spacingAndGlyphs" stroke="#000" stroke-width="0.62">m</tspan><tspan x="269.3 293.4 308.5 317.9">、1.7</tspan><tspan x="330" textLength="11.8" lengthAdjust="spacingAndGlyphs" stroke="#000" stroke-width="0.62">m</tspan><tspan x="342.2" textLength="11.8" lengthAdjust="spacingAndGlyphs" stroke="#000" stroke-width="0.62">m</tspan><tspan x="354.8 378.9 394 403.4">、2.0</tspan><tspan x="415.5" textLength="11.8" lengthAdjust="spacingAndGlyphs" stroke="#000" stroke-width="0.62">m</tspan><tspan x="427.7" textLength="11.8" lengthAdjust="spacingAndGlyphs" stroke="#000" stroke-width="0.62">m</tspan><tspan x="440.3 464.4 479.5 488.9">、2.5</tspan><tspan x="500.9" textLength="11.8" lengthAdjust="spacingAndGlyphs" stroke="#000" stroke-width="0.62">m</tspan><tspan x="513.2" textLength="11.8" lengthAdjust="spacingAndGlyphs" stroke="#000" stroke-width="0.62">m</tspan></text>
<path d="M314.3,1042.8 L320.7,1032 L353.6,1032 L359.4,1042.6 L365.2,1032 L398.5,1032 L404.3,1042.6 L410.1,1032 L443.4,1032 L449.2,1042.6 L455,1032 L488.3,1032 L494.1,1042.6 L499.9,1032 L533.2,1032 L539,1042.6 L544.8,1032 L578,1032 L583.8,1042.6 L589.6,1032 L622.9,1032 L628.7,1042.6 L634.5,1032 L667.8,1032 L673.6,1042.6 L679.4,1032 L712.7,1032 L718.5,1042.6 L724.3,1032 L757.6,1032 L763.4,1042.6 L769.2,1032 L802.4,1032 L808.2,1042.6 L814,1032 L847,1032 L853.4,1042.8 L853.4,1200.8 L847.4,1210.4 L814,1210.4 L808.2,1199.8 L802.4,1210.4 L769.2,1210.4 L763.4,1199.8 L757.6,1210.4 L724.3,1210.4 L718.5,1199.8 L712.7,1210.4 L679.4,1210.4 L673.6,1199.8 L667.8,1210.4 L634.5,1210.4 L628.7,1199.8 L622.9,1210.4 L589.6,1210.4 L583.8,1199.8 L578,1210.4 L544.8,1210.4 L539,1199.8 L533.2,1210.4 L499.9,1210.4 L494.1,1199.8 L488.3,1210.4 L455,1210.4 L449.2,1199.8 L443.4,1210.4 L410.1,1210.4 L404.3,1199.8 L398.5,1210.4 L365.2,1210.4 L359.4,1199.8 L353.6,1210.4 L320.3,1210.4 L314.3,1200.8 Z" stroke-width="3.2" fill="none" stroke-linejoin="miter"/>
<path d="M330.6,849 L330.6,848 Q331.5,842.5 333.7,838.6 L340.3,838.6 Q342.5,842.5 343.4,848 L343.4,849" stroke-width="3" fill="none" stroke-linejoin="miter"/>
<line x1="330.6" y1="848.5" x2="343.4" y2="848.5" stroke-width="3" />
<line x1="330.5" y1="848" x2="330.5" y2="972.2" stroke-width="3" />
<line x1="343.5" y1="848" x2="343.5" y2="972.2" stroke-width="3" />
<rect x="329.8" y="1026" width="14.4" height="147.7" fill="#fff" stroke-width="3"/>
<line x1="329.8" y1="1150" x2="344.2" y2="1150" stroke-width="4.2" />
<path d="M375.5,849 L375.5,848 Q376.4,842.5 378.6,838.6 L385.2,838.6 Q387.3,842.5 388.2,848 L388.2,849" stroke-width="3" fill="none" stroke-linejoin="miter"/>
<line x1="375.5" y1="848.5" x2="388.2" y2="848.5" stroke-width="3" />
<line x1="375.5" y1="848" x2="375.5" y2="972.2" stroke-width="3" />
<line x1="388.5" y1="848" x2="388.5" y2="972.2" stroke-width="3" />
<rect x="374.7" y="1026" width="14.4" height="147.7" fill="#fff" stroke-width="3"/>
<line x1="374.7" y1="1150" x2="389.1" y2="1150" stroke-width="4.2" />
<path d="M420.4,849 L420.4,848 Q421.3,842.5 423.5,838.6 L430.1,838.6 Q432.2,842.5 433.1,848 L433.1,849" stroke-width="3" fill="none" stroke-linejoin="miter"/>
<line x1="420.4" y1="848.5" x2="433.1" y2="848.5" stroke-width="3" />
<line x1="420.5" y1="848" x2="420.5" y2="972.2" stroke-width="3" />
<line x1="433.5" y1="848" x2="433.5" y2="972.2" stroke-width="3" />
<rect x="419.6" y="1026" width="14.4" height="147.7" fill="#fff" stroke-width="3"/>
<line x1="419.6" y1="1150" x2="434" y2="1150" stroke-width="4.2" />
<path d="M465.3,849 L465.3,848 Q466.2,842.5 468.3,838.6 L474.9,838.6 Q477.1,842.5 478,848 L478,849" stroke-width="3" fill="none" stroke-linejoin="miter"/>
<line x1="465.3" y1="848.5" x2="478" y2="848.5" stroke-width="3" />
<line x1="465.5" y1="848" x2="465.5" y2="972.2" stroke-width="3" />
<line x1="477.5" y1="848" x2="477.5" y2="972.2" stroke-width="3" />
<rect x="464.4" y="1026" width="14.4" height="147.7" fill="#fff" stroke-width="3"/>
<line x1="464.4" y1="1150" x2="478.8" y2="1150" stroke-width="4.2" />
<path d="M510.2,849 L510.2,848 Q511.1,842.5 513.2,838.6 L519.8,838.6 Q522,842.5 522.9,848 L522.9,849" stroke-width="3" fill="none" stroke-linejoin="miter"/>
<line x1="510.2" y1="848.5" x2="522.9" y2="848.5" stroke-width="3" />
<line x1="510.5" y1="848" x2="510.5" y2="972.2" stroke-width="3" />
<line x1="522.5" y1="848" x2="522.5" y2="972.2" stroke-width="3" />
<rect x="509.3" y="1026" width="14.4" height="147.7" fill="#fff" stroke-width="3"/>
<line x1="509.3" y1="1150" x2="523.7" y2="1150" stroke-width="4.2" />
<path d="M555,849 L555,848 Q555.9,842.5 558.1,838.6 L564.7,838.6 Q566.9,842.5 567.8,848 L567.8,849" stroke-width="3" fill="none" stroke-linejoin="miter"/>
<line x1="555" y1="848.5" x2="567.8" y2="848.5" stroke-width="3" />
<line x1="555.5" y1="848" x2="555.5" y2="972.2" stroke-width="3" />
<line x1="567.5" y1="848" x2="567.5" y2="972.2" stroke-width="3" />
<rect x="554.2" y="1026" width="14.4" height="147.7" fill="#fff" stroke-width="3"/>
<line x1="554.2" y1="1150" x2="568.6" y2="1150" stroke-width="4.2" />
<path d="M599.9,849 L599.9,848 Q600.8,842.5 603,838.6 L609.6,838.6 Q611.7,842.5 612.6,848 L612.6,849" stroke-width="3" fill="none" stroke-linejoin="miter"/>
<line x1="599.9" y1="848.5" x2="612.6" y2="848.5" stroke-width="3" />
<line x1="599.5" y1="848" x2="599.5" y2="972.2" stroke-width="3" />
<line x1="612.5" y1="848" x2="612.5" y2="972.2" stroke-width="3" />
<rect x="599.1" y="1026" width="14.4" height="147.7" fill="#fff" stroke-width="3"/>
<line x1="599.1" y1="1150" x2="613.5" y2="1150" stroke-width="4.2" />
<path d="M644.8,849 L644.8,848 Q645.7,842.5 647.9,838.6 L654.5,838.6 Q656.6,842.5 657.5,848 L657.5,849" stroke-width="3" fill="none" stroke-linejoin="miter"/>
<line x1="644.8" y1="848.5" x2="657.5" y2="848.5" stroke-width="3" />
<line x1="644.5" y1="848" x2="644.5" y2="972.2" stroke-width="3" />
<line x1="657.5" y1="848" x2="657.5" y2="972.2" stroke-width="3" />
<rect x="644" y="1026" width="14.4" height="147.7" fill="#fff" stroke-width="3"/>
<line x1="644" y1="1150" x2="658.4" y2="1150" stroke-width="4.2" />
<path d="M689.7,849 L689.7,848 Q690.6,842.5 692.7,838.6 L699.3,838.6 Q701.5,842.5 702.4,848 L702.4,849" stroke-width="3" fill="none" stroke-linejoin="miter"/>
<line x1="689.7" y1="848.5" x2="702.4" y2="848.5" stroke-width="3" />
<line x1="689.5" y1="848" x2="689.5" y2="972.2" stroke-width="3" />
<line x1="702.5" y1="848" x2="702.5" y2="972.2" stroke-width="3" />
<rect x="688.8" y="1026" width="14.4" height="147.7" fill="#fff" stroke-width="3"/>
<line x1="688.8" y1="1150" x2="703.2" y2="1150" stroke-width="4.2" />
<path d="M734.6,849 L734.6,848 Q735.5,842.5 737.6,838.6 L744.2,838.6 Q746.4,842.5 747.3,848 L747.3,849" stroke-width="3" fill="none" stroke-linejoin="miter"/>
<line x1="734.6" y1="848.5" x2="747.3" y2="848.5" stroke-width="3" />
<line x1="734.5" y1="848" x2="734.5" y2="972.2" stroke-width="3" />
<line x1="747.5" y1="848" x2="747.5" y2="972.2" stroke-width="3" />
<rect x="733.7" y="1026" width="14.4" height="147.7" fill="#fff" stroke-width="3"/>
<line x1="733.7" y1="1150" x2="748.1" y2="1150" stroke-width="4.2" />
<path d="M779.4,849 L779.4,848 Q780.3,842.5 782.5,838.6 L789.1,838.6 Q791.2,842.5 792.1,848 L792.1,849" stroke-width="3" fill="none" stroke-linejoin="miter"/>
<line x1="779.4" y1="848.5" x2="792.1" y2="848.5" stroke-width="3" />
<line x1="779.5" y1="848" x2="779.5" y2="972.2" stroke-width="3" />
<line x1="792.5" y1="848" x2="792.5" y2="972.2" stroke-width="3" />
<rect x="778.6" y="1026" width="14.4" height="147.7" fill="#fff" stroke-width="3"/>
<line x1="778.6" y1="1150" x2="793" y2="1150" stroke-width="4.2" />
<path d="M824.3,849 L824.3,848 Q825.2,842.5 827.4,838.6 L834,838.6 Q836.1,842.5 837,848 L837,849" stroke-width="3" fill="none" stroke-linejoin="miter"/>
<line x1="824.3" y1="848.5" x2="837" y2="848.5" stroke-width="3" />
<line x1="824.5" y1="848" x2="824.5" y2="972.2" stroke-width="3" />
<line x1="837.5" y1="848" x2="837.5" y2="972.2" stroke-width="3" />
<rect x="823.5" y="1026" width="14.4" height="147.7" fill="#fff" stroke-width="3"/>
<line x1="823.5" y1="1150" x2="837.9" y2="1150" stroke-width="4.2" />
<rect x="314.3" y="972.2" width="539.1" height="53.4" stroke-width="3.2" fill="none"/>
<line x1="320.5" y1="972.2" x2="320.5" y2="1025.6" stroke-width="2.7" />
<line x1="847.5" y1="972.2" x2="847.5" y2="1025.6" stroke-width="2.7" />
<line x1="353.5" y1="972.2" x2="353.5" y2="1025.6" stroke-width="2.7" />
<line x1="359.5" y1="972.2" x2="359.5" y2="1025.6" stroke-width="2.7" />
<line x1="365.5" y1="972.2" x2="365.5" y2="1025.6" stroke-width="2.7" />
<line x1="398.5" y1="972.2" x2="398.5" y2="1025.6" stroke-width="2.7" />
<line x1="404.5" y1="972.2" x2="404.5" y2="1025.6" stroke-width="2.7" />
<line x1="410.5" y1="972.2" x2="410.5" y2="1025.6" stroke-width="2.7" />
<line x1="442.5" y1="972.2" x2="442.5" y2="1025.6" stroke-width="2.7" />
<line x1="449.5" y1="972.2" x2="449.5" y2="1025.6" stroke-width="2.7" />
<line x1="455.5" y1="972.2" x2="455.5" y2="1025.6" stroke-width="2.7" />
<line x1="487.5" y1="972.2" x2="487.5" y2="1025.6" stroke-width="2.7" />
<line x1="494.5" y1="972.2" x2="494.5" y2="1025.6" stroke-width="2.7" />
<line x1="500.5" y1="972.2" x2="500.5" y2="1025.6" stroke-width="2.7" />
<line x1="532.5" y1="972.2" x2="532.5" y2="1025.6" stroke-width="2.7" />
<line x1="538.5" y1="972.2" x2="538.5" y2="1025.6" stroke-width="2.7" />
<line x1="545.5" y1="972.2" x2="545.5" y2="1025.6" stroke-width="2.7" />
<line x1="577.5" y1="972.2" x2="577.5" y2="1025.6" stroke-width="2.7" />
<line x1="583.5" y1="972.2" x2="583.5" y2="1025.6" stroke-width="2.7" />
<line x1="590.5" y1="972.2" x2="590.5" y2="1025.6" stroke-width="2.7" />
<line x1="622.5" y1="972.2" x2="622.5" y2="1025.6" stroke-width="2.7" />
<line x1="628.5" y1="972.2" x2="628.5" y2="1025.6" stroke-width="2.7" />
<line x1="634.5" y1="972.2" x2="634.5" y2="1025.6" stroke-width="2.7" />
<line x1="667.5" y1="972.2" x2="667.5" y2="1025.6" stroke-width="2.7" />
<line x1="673.5" y1="972.2" x2="673.5" y2="1025.6" stroke-width="2.7" />
<line x1="679.5" y1="972.2" x2="679.5" y2="1025.6" stroke-width="2.7" />
<line x1="712.5" y1="972.2" x2="712.5" y2="1025.6" stroke-width="2.7" />
<line x1="718.5" y1="972.2" x2="718.5" y2="1025.6" stroke-width="2.7" />
<line x1="724.5" y1="972.2" x2="724.5" y2="1025.6" stroke-width="2.7" />
<line x1="757.5" y1="972.2" x2="757.5" y2="1025.6" stroke-width="2.7" />
<line x1="763.5" y1="972.2" x2="763.5" y2="1025.6" stroke-width="2.7" />
<line x1="769.5" y1="972.2" x2="769.5" y2="1025.6" stroke-width="2.7" />
<line x1="802.5" y1="972.2" x2="802.5" y2="1025.6" stroke-width="2.7" />
<line x1="808.5" y1="972.2" x2="808.5" y2="1025.6" stroke-width="2.7" />
<line x1="814.5" y1="972.2" x2="814.5" y2="1025.6" stroke-width="2.7" />
<line x1="337.5" y1="760.2" x2="337.5" y2="834.6" stroke-width="1.2" />
<line x1="830.5" y1="760.2" x2="830.5" y2="834.6" stroke-width="1.2" />
<line x1="337" y1="767.5" x2="830.7" y2="767.5" stroke-width="1.2" />
<polygon points="337,767.2 338.6,766.4 343.5,766 344,765 350,764.9 350,770.5 344,770.4 343.5,769.4 338.6,769 337,768.2" fill="#000" stroke="none"/>
<polygon points="830.7,768.2 829.1,769 824.2,769.4 823.7,770.4 817.7,770.5 817.7,764.9 823.7,765 824.2,766 829.1,766.4 830.7,767.2" fill="#000" stroke="none"/>
<text transform="translate(546.6,758.3) scale(0.7046,1)" font-family='"Liberation Serif","Noto Serif CJK SC",serif' font-size="28.70" stroke="#000" stroke-width="0.6" fill="#000"><tspan x="0.2" textLength="14.7" lengthAdjust="spacingAndGlyphs" stroke="#000" stroke-width="1.01">A</tspan><tspan x="19.6" textLength="21.1" lengthAdjust="spacingAndGlyphs">±</tspan><tspan x="45.7 64.4 75.9 91">0.20</tspan></text>
<line x1="381.5" y1="808" x2="381.5" y2="834.6" stroke-width="1.2" />
<line x1="337" y1="815.5" x2="450.1" y2="815.5" stroke-width="1.2" />
<polygon points="337,814.6 338.4,813.8 343,813.6 343.5,812.6 349,812.5 349,817.7 343.5,817.6 343,816.6 338.4,816.4 337,815.6" fill="#000" stroke="none"/>
<polygon points="381.9,815.6 380.5,816.4 375.9,816.6 375.4,817.6 369.9,817.7 369.9,812.5 375.4,812.6 375.9,813.6 380.5,813.8 381.9,814.6" fill="#000" stroke="none"/>
<text transform="translate(400.7,807.9) scale(0.6665,1)" font-family='"Liberation Serif","Noto Serif CJK SC",serif' font-size="29.77" stroke="#000" stroke-width="0.6" fill="#000"><tspan x="0.4 19.8 31.7 47.4">1.27</tspan></text>
<line x1="644.5" y1="801.6" x2="644.5" y2="839" stroke-width="1.2" />
<line x1="657.5" y1="801.6" x2="657.5" y2="839" stroke-width="1.2" />
<line x1="623.4" y1="807.5" x2="705" y2="807.5" stroke-width="1.2" />
<polygon points="644.6,807.5 643.4,808.3 639.6,808.4 639.2,809.3 634.6,809.4 634.6,804.6 639.2,804.7 639.6,805.6 643.4,805.7 644.6,806.5" fill="#000" stroke="none"/>
<polygon points="657.8,806.5 659,805.7 662.8,805.6 663.2,804.7 667.8,804.6 667.8,809.4 663.2,809.3 662.8,808.4 659,808.3 657.8,807.5" fill="#000" stroke="none"/>
<text transform="translate(682.4,800) scale(0.7312,1)" font-family='"Liberation Serif","Noto Serif CJK SC",serif' font-size="22.60" font-weight="bold" stroke="none" fill="#000"><tspan x="0.2" textLength="11.5" lengthAdjust="spacingAndGlyphs">S</tspan><tspan x="12.1" textLength="11.5" lengthAdjust="spacingAndGlyphs" stroke="#000" stroke-width="0.52">Q</tspan></text>
<line x1="856.5" y1="972.5" x2="900.7" y2="972.5" stroke-width="1.2" />
<line x1="856.5" y1="1026.5" x2="900.7" y2="1026.5" stroke-width="1.2" />
<line x1="893.5" y1="880.8" x2="893.5" y2="1026.1" stroke-width="1.2" />
<polygon points="894.3,972.1 895.1,973.5 895.3,978.1 896.3,978.6 896.4,984.1 891.2,984.1 891.3,978.6 892.2,978.1 892.5,973.5 893.3,972.1" fill="#000" stroke="none"/>
<polygon points="893.3,1026.1 892.5,1024.7 892.2,1020.1 891.3,1019.6 891.2,1014.1 896.4,1014.1 896.3,1019.6 895.3,1020.1 895.1,1024.7 894.3,1026.1" fill="#000" stroke="none"/>
<text transform="translate(888.1,959.2) rotate(-90) scale(0.5875,1)" font-family='"Liberation Serif","Noto Serif CJK SC",serif' font-size="26.41" stroke="#000" stroke-width="0.6" fill="#000"><tspan x="0.3 17.6 28.1">2.5</tspan><tspan x="45.9" textLength="19.5" lengthAdjust="spacingAndGlyphs">±</tspan><tspan x="69.9 87.1 97.7 111.6">0.10</tspan></text>
<path d="M1036.6,843.6 L1036.6,842.6 Q1037.5,837.1 1039.8,832.6 L1046.3,832.6 Q1048.5,837.1 1049.5,842.6 L1049.5,843.6" stroke-width="3" fill="none" stroke-linejoin="miter"/>
<line x1="1036.6" y1="842.5" x2="1049.5" y2="842.5" stroke-width="3" />
<line x1="1036.5" y1="843" x2="1036.5" y2="972.1" stroke-width="3" />
<line x1="1049.5" y1="843" x2="1049.5" y2="972.1" stroke-width="3" />
<path d="M1126.4,843.6 L1126.4,842.6 Q1127.3,837.1 1129.5,832.6 L1136.1,832.6 Q1138.3,837.1 1139.2,842.6 L1139.2,843.6" stroke-width="3" fill="none" stroke-linejoin="miter"/>
<line x1="1126.4" y1="842.5" x2="1139.2" y2="842.5" stroke-width="3" />
<line x1="1126.5" y1="843" x2="1126.5" y2="972.1" stroke-width="3" />
<line x1="1139.5" y1="843" x2="1139.5" y2="972.1" stroke-width="3" />
<line x1="997.6" y1="972.5" x2="1178.4" y2="972.5" stroke-width="3.4" />
<line x1="1016.2" y1="1018.5" x2="1160" y2="1018.5" stroke-width="3.4" />
<path d="M999.5,972.1 L999.5,1026.5 L1017.5,1026.5 L1017.5,1018.9" stroke-width="1.2" fill="none" />
<line x1="1010.5" y1="972.1" x2="1010.5" y2="1026.1" stroke-width="1.2" />
<path d="M1158.5,1018.9 L1158.5,1026 L1176.8,1026 L1176.8,972.1" stroke-width="3" fill="none" />
<line x1="1164" y1="972.1" x2="1164" y2="1026.1" stroke-width="3.6" />
<path d="M1036.5,1018.9 L1036.5,1155.3 A18,18 0 0 0 1054.5,1173.3 L1232,1173.3" stroke-width="1.2" fill="none" />
<path d="M1049.5,1018.9 L1049.5,1153.2 A7.3,7.3 0 0 0 1056.8,1160.5 L1232,1160.5" stroke-width="1.2" fill="none" />
<line x1="1126.5" y1="1018.9" x2="1126.5" y2="1060.6" stroke-width="3" />
<line x1="1138.5" y1="1018.9" x2="1138.5" y2="1060.6" stroke-width="3" />
<path d="M1126.5,1060 A23,23 0 0 0 1149.5,1083.2" stroke-width="1.2" fill="none" />
<path d="M1138.8,1060 A9.6,9.6 0 0 0 1148.4,1069.8" stroke-width="1.2" fill="none" />
<line x1="1147.6" y1="1069.5" x2="1232" y2="1069.5" stroke-width="3" />
<line x1="1148.6" y1="1083.5" x2="1232" y2="1083.5" stroke-width="3" />
<line x1="1231.5" y1="1033" x2="1231.5" y2="1210" stroke-width="1.2" />
<line x1="1230.2" y1="1033" x2="1286.4" y2="1033" stroke-width="4" />
<path d="M1284.9,1033 L1284.9,1050.7 L1277.4,1050.7" stroke-width="3" fill="none" />
<line x1="1277.5" y1="1050.7" x2="1277.5" y2="1192" stroke-width="1.2" />
<path d="M1277.4,1192 L1284.9,1192 L1284.9,1210" stroke-width="3" fill="none" />
<line x1="1230.2" y1="1210" x2="1286.4" y2="1210" stroke-width="4" />
<line x1="1231.6" y1="1044.5" x2="1277.4" y2="1044.5" stroke-width="1.2" />
<line x1="1231.6" y1="1198.5" x2="1284" y2="1198.5" stroke-width="1.2" />
<line x1="1277.4" y1="1069.5" x2="1340.8" y2="1069.5" stroke-width="3" />
<line x1="1277.4" y1="1083.5" x2="1340.8" y2="1083.5" stroke-width="3" />
<line x1="1339.5" y1="1068.8" x2="1339.5" y2="1084.2" stroke-width="3" />
<path d="M1340,1069.8 Q1348.6,1071.3 1348.6,1075 L1348.6,1078 Q1348.6,1081.7 1340,1083.2" stroke-width="3" fill="none" />
<line x1="1277.4" y1="1160.5" x2="1340.8" y2="1160.5" stroke-width="3" />
<line x1="1277.4" y1="1173.5" x2="1340.8" y2="1173.5" stroke-width="3" />
<line x1="1339.5" y1="1159" x2="1339.5" y2="1174.3" stroke-width="3" />
<path d="M1340,1160 Q1348.6,1161.5 1348.6,1165.2 L1348.6,1168.2 Q1348.6,1171.8 1340,1173.3" stroke-width="3" fill="none" />
<line x1="1042.5" y1="798.6" x2="1042.5" y2="830" stroke-width="1.2" />
<line x1="1132.5" y1="798.6" x2="1132.5" y2="830" stroke-width="1.2" />
<line x1="1042.4" y1="805.5" x2="1132.6" y2="805.5" stroke-width="1.2" />
<polygon points="1042.4,805.4 1043.7,804.6 1047.9,804.5 1048.3,803.6 1053.4,803.5 1053.4,808.3 1048.3,808.2 1047.9,807.3 1043.7,807.2 1042.4,806.4" fill="#000" stroke="none"/>
<polygon points="1132.6,806.4 1131.3,807.2 1127.1,807.3 1126.7,808.2 1121.6,808.3 1121.6,803.5 1126.7,803.6 1127.1,804.5 1131.3,804.6 1132.6,805.4" fill="#000" stroke="none"/>
<text transform="translate(1070.7,799.2) scale(0.7085,1)" font-family='"Liberation Serif","Noto Serif CJK SC",serif' font-size="22.14" font-weight="bold" stroke="none" fill="#000"><tspan x="0.3 14.7 23.6 35.2">2.54</tspan></text>
<line x1="1141" y1="833.5" x2="1205.7" y2="833.5" stroke-width="1.2" />
<line x1="1180.5" y1="972.5" x2="1205.7" y2="972.5" stroke-width="1.2" />
<line x1="1198.5" y1="833.3" x2="1198.5" y2="972.1" stroke-width="1.2" />
<polygon points="1199.3,833.3 1200.1,834.7 1200.3,839.3 1201.3,839.8 1201.4,845.3 1196.2,845.3 1196.3,839.8 1197.2,839.3 1197.5,834.7 1198.3,833.3" fill="#000" stroke="none"/>
<polygon points="1198.3,972.1 1197.5,970.7 1197.2,966.1 1196.3,965.6 1196.2,960.1 1201.4,960.1 1201.3,965.6 1200.3,966.1 1200.1,970.7 1199.3,972.1" fill="#000" stroke="none"/>
<text transform="translate(1192.7,911.4) rotate(-90) scale(0.7799,1)" font-family='"Liberation Serif","Noto Serif CJK SC",serif' font-size="22.90" stroke="#000" stroke-width="0.3" fill="#000"><tspan x="0.2" textLength="11.7" lengthAdjust="spacingAndGlyphs">P</tspan><tspan x="12.2" textLength="11.7" lengthAdjust="spacingAndGlyphs" stroke="#000" stroke-width="0.71">A</tspan></text>
<line x1="1036.5" y1="1153" x2="1036.5" y2="1228" stroke-width="1.2" />
<line x1="1284.5" y1="1212" x2="1284.5" y2="1228" stroke-width="1.2" />
<line x1="1347.5" y1="1172" x2="1347.5" y2="1228" stroke-width="1.2" />
<line x1="1036.5" y1="1220.5" x2="1347.6" y2="1220.5" stroke-width="1.2" />
<polygon points="1036.7,1219.7 1038.1,1218.9 1042.7,1218.7 1043.2,1217.7 1048.7,1217.6 1048.7,1222.8 1043.2,1222.7 1042.7,1221.8 1038.1,1221.5 1036.7,1220.7" fill="#000" stroke="none"/>
<polygon points="1284.8,1220.7 1283.4,1221.5 1278.8,1221.8 1278.3,1222.7 1272.8,1222.8 1272.8,1217.6 1278.3,1217.7 1278.8,1218.7 1283.4,1218.9 1284.8,1219.7" fill="#000" stroke="none"/>
<polygon points="1284.8,1219.7 1286.2,1218.9 1290.8,1218.7 1291.3,1217.7 1296.8,1217.6 1296.8,1222.8 1291.3,1222.7 1290.8,1221.8 1286.2,1221.5 1284.8,1220.7" fill="#000" stroke="none"/>
<polygon points="1347.6,1220.7 1346.2,1221.5 1341.6,1221.8 1341.1,1222.7 1335.6,1222.8 1335.6,1217.6 1341.1,1217.7 1341.6,1218.7 1346.2,1218.9 1347.6,1219.7" fill="#000" stroke="none"/>
<text transform="translate(1148.7,1212.6) scale(0.7632,1)" font-family='"Liberation Serif","Noto Serif CJK SC",serif' font-size="28.55" stroke="#000" stroke-width="0.6" fill="#000"><tspan x="0.2" textLength="14.6" lengthAdjust="spacingAndGlyphs">P</tspan><tspan x="15.3" textLength="14.6" lengthAdjust="spacingAndGlyphs" stroke="#000" stroke-width="0.88">B</tspan></text>
<text transform="translate(1305,1212.6) scale(0.7415,1)" font-family='"Liberation Serif","Noto Serif CJK SC",serif' font-size="28.55" stroke="#000" stroke-width="0.6" fill="#000"><tspan x="0.2" textLength="14.6" lengthAdjust="spacingAndGlyphs">P</tspan><tspan x="15.3" textLength="14.6" lengthAdjust="spacingAndGlyphs" stroke="#000" stroke-width="0.88">C</tspan></text>
<line x1="1418.5" y1="863.7" x2="1418.5" y2="1371.4" stroke-width="1.2" />
<line x1="1418.4" y1="863.5" x2="2258.7" y2="863.5" stroke-width="1.2" />
<line x1="1418.4" y1="971.5" x2="2258.7" y2="971.5" stroke-width="1.2" />
<line x1="1418.4" y1="1178.5" x2="2258.7" y2="1178.5" stroke-width="1.2" />
<text transform="translate(1640.7,922.5) scale(0.7738,1)" font-family='"Liberation Serif","Noto Serif CJK SC",serif' font-size="47.94" stroke="#000" stroke-width="1.0" fill="#000"><tspan x="0.4" textLength="24.5" lengthAdjust="spacingAndGlyphs">P</tspan></text>
<text transform="translate(1676.2,922.5) scale(0.6354,1)" font-family='"Liberation Serif","Noto Serif CJK SC",serif' font-size="47.94" stroke="#000" stroke-width="1.0" fill="#000"><tspan x="0.6 25.9">12</tspan></text>
<text transform="translate(1723.2,922.5) scale(0.6764,1)" font-family='"Liberation Serif","Noto Serif CJK SC",serif' font-size="47.94" stroke="#000" stroke-width="1.0" fill="#000"><tspan x="0.6">9</tspan><tspan x="25.6" textLength="24.5" lengthAdjust="spacingAndGlyphs" stroke="#000" stroke-width="1.41">D</tspan></text>
<text transform="translate(1769.1,922.5) scale(0.6573,1)" font-family='"Liberation Serif","Noto Serif CJK SC",serif' font-size="47.94" stroke="#000" stroke-width="1.0" fill="#000"><tspan x="0.4" textLength="24.5" lengthAdjust="spacingAndGlyphs" stroke="#000" stroke-width="1.41">X</tspan><tspan x="25.6" textLength="24.5" lengthAdjust="spacingAndGlyphs" stroke="#000" stroke-width="1.41">X</tspan><tspan x="50.8" textLength="24.5" lengthAdjust="spacingAndGlyphs" stroke="#000" stroke-width="1.41">X</tspan></text>
<text transform="translate(1832.9,922.5) scale(0.6842,1)" font-family='"Liberation Serif","Noto Serif CJK SC",serif' font-size="47.94" stroke="#000" stroke-width="1.0" fill="#000"><tspan x="0.4" textLength="24.5" lengthAdjust="spacingAndGlyphs" stroke="#000" stroke-width="1.41">X</tspan></text>
<text transform="translate(1857.9,922.5) scale(0.7596,1)" font-family='"Liberation Serif","Noto Serif CJK SC",serif' font-size="47.94" stroke="#000" stroke-width="1.0" fill="#000"><tspan x="0.4" textLength="24.5" lengthAdjust="spacingAndGlyphs" stroke="#000" stroke-width="1.41">X</tspan></text>
<text transform="translate(1899.7,922.5) scale(0.6677,1)" font-family='"Liberation Serif","Noto Serif CJK SC",serif' font-size="47.94" stroke="#000" stroke-width="1.0" fill="#000"><tspan x="0.4" textLength="24.5" lengthAdjust="spacingAndGlyphs" stroke="#000" stroke-width="1.41">X</tspan><tspan x="25.6" textLength="24.5" lengthAdjust="spacingAndGlyphs" stroke="#000" stroke-width="1.41">X</tspan></text>
<text transform="translate(1954.4,922.5) scale(0.7361,1)" font-family='"Liberation Serif","Noto Serif CJK SC",serif' font-size="47.94" stroke="#000" stroke-width="1.0" fill="#000"><tspan x="0.4" textLength="24.5" lengthAdjust="spacingAndGlyphs" stroke="#000" stroke-width="1.41">X</tspan></text>
<text transform="translate(1993.4,922.5) scale(0.6559,1)" font-family='"Liberation Serif","Noto Serif CJK SC",serif' font-size="47.94" stroke="#000" stroke-width="1.0" fill="#000"><tspan x="0.4" textLength="24.5" lengthAdjust="spacingAndGlyphs" stroke="#000" stroke-width="1.41">X</tspan><tspan x="25.6" textLength="24.5" lengthAdjust="spacingAndGlyphs" stroke="#000" stroke-width="1.41">X</tspan><tspan x="50.8" textLength="24.5" lengthAdjust="spacingAndGlyphs" stroke="#000" stroke-width="1.41">X</tspan></text>
<text x="1755.3" y="916.6" font-family='"Liberation Serif","Noto Serif CJK SC",serif' font-size="47.94" textLength="16.0" lengthAdjust="spacingAndGlyphs" stroke="#000" stroke-width="0.15" fill="#000" >-</text>
<text x="1880.3" y="916.6" font-family='"Liberation Serif","Noto Serif CJK SC",serif' font-size="47.94" textLength="17.5" lengthAdjust="spacingAndGlyphs" stroke="#000" stroke-width="0.15" fill="#000" >-</text>
<text x="1935.1" y="916.6" font-family='"Liberation Serif","Noto Serif CJK SC",serif' font-size="47.94" textLength="17.6" lengthAdjust="spacingAndGlyphs" stroke="#000" stroke-width="0.15" fill="#000" >-</text>
<text x="1974.7" y="916.6" font-family='"Liberation Serif","Noto Serif CJK SC",serif' font-size="47.94" textLength="16.7" lengthAdjust="spacingAndGlyphs" stroke="#000" stroke-width="0.15" fill="#000" >-</text>
<line x1="1641" y1="929.5" x2="1660" y2="929.5" stroke-width="1.2" />
<line x1="1674.4" y1="929.5" x2="1708.5" y2="929.5" stroke-width="1.2" />
<line x1="1723.4" y1="929.5" x2="1757.5" y2="929.5" stroke-width="1.2" />
<line x1="1769.7" y1="929.5" x2="1818.7" y2="929.5" stroke-width="1.2" />
<line x1="1833.2" y1="929.5" x2="1850" y2="929.5" stroke-width="1.2" />
<line x1="1858.6" y1="929.5" x2="1876.3" y2="929.5" stroke-width="1.2" />
<line x1="1899.8" y1="929.5" x2="1933.1" y2="929.5" stroke-width="1.2" />
<line x1="1954.7" y1="929.5" x2="1972.3" y2="929.5" stroke-width="1.2" />
<line x1="1993.9" y1="929.5" x2="2042.9" y2="929.5" stroke-width="1.2" />
<circle cx="1651.3" cy="943.3" r="7.4" stroke-width="1.2" fill="none"/>
<text transform="translate(1651.3,948.2) scale(0.72,1)" font-family='"Liberation Serif","Noto Serif CJK SC",serif' font-size="14.96" font-weight="bold" text-anchor="middle" stroke="none" fill="#000" >1</text>
<circle cx="1692.8" cy="943.3" r="7.4" stroke-width="1.2" fill="none"/>
<text transform="translate(1692.8,948.2) scale(0.72,1)" font-family='"Liberation Serif","Noto Serif CJK SC",serif' font-size="14.96" font-weight="bold" text-anchor="middle" stroke="none" fill="#000" >2</text>
<circle cx="1739.9" cy="943.3" r="7.4" stroke-width="1.2" fill="none"/>
<text transform="translate(1739.9,948.2) scale(0.72,1)" font-family='"Liberation Serif","Noto Serif CJK SC",serif' font-size="14.96" font-weight="bold" text-anchor="middle" stroke="none" fill="#000" >3</text>
<circle cx="1794" cy="943.3" r="7.4" stroke-width="1.2" fill="none"/>
<text transform="translate(1794,948.2) scale(0.72,1)" font-family='"Liberation Serif","Noto Serif CJK SC",serif' font-size="14.96" font-weight="bold" text-anchor="middle" stroke="none" fill="#000" >4</text>
<circle cx="1842.2" cy="943.3" r="7.4" stroke-width="1.2" fill="none"/>
<text transform="translate(1842.2,948.2) scale(0.72,1)" font-family='"Liberation Serif","Noto Serif CJK SC",serif' font-size="14.96" font-weight="bold" text-anchor="middle" stroke="none" fill="#000" >5</text>
<circle cx="1867.7" cy="943.3" r="7.4" stroke-width="1.2" fill="none"/>
<text transform="translate(1867.7,948.2) scale(0.72,1)" font-family='"Liberation Serif","Noto Serif CJK SC",serif' font-size="14.96" font-weight="bold" text-anchor="middle" stroke="none" fill="#000" >6</text>
<circle cx="1915.9" cy="943.3" r="7.4" stroke-width="1.2" fill="none"/>
<text transform="translate(1915.9,948.2) scale(0.72,1)" font-family='"Liberation Serif","Noto Serif CJK SC",serif' font-size="14.96" font-weight="bold" text-anchor="middle" stroke="none" fill="#000" >7</text>
<circle cx="1963.3" cy="943.3" r="7.4" stroke-width="1.2" fill="none"/>
<text transform="translate(1963.3,948.2) scale(0.72,1)" font-family='"Liberation Serif","Noto Serif CJK SC",serif' font-size="14.96" font-weight="bold" text-anchor="middle" stroke="none" fill="#000" >8</text>
<circle cx="2019" cy="943.3" r="7.4" stroke-width="1.2" fill="none"/>
<text transform="translate(2019,948.2) scale(0.72,1)" font-family='"Liberation Serif","Noto Serif CJK SC",serif' font-size="14.96" font-weight="bold" text-anchor="middle" stroke="none" fill="#000" >9</text>
<circle cx="1437.2" cy="991.1" r="8.2" stroke-width="1.2" fill="none"/>
<text transform="translate(1437.2,996.4) scale(0.72,1)" font-family='"Liberation Serif","Noto Serif CJK SC",serif' font-size="16.03" font-weight="bold" text-anchor="middle" stroke="none" fill="#000" >1</text>
<text transform="translate(1452.4,997) scale(0.6441,1)" font-family='"Liberation Serif","Noto Serif CJK SC",serif' font-size="20.92" font-weight="bold" stroke="#000" stroke-width="0.3" fill="#000"><tspan x="0.2" textLength="10.7" lengthAdjust="spacingAndGlyphs">S</tspan><tspan x="11.9 22.9">er</tspan><tspan x="34.9" textLength="7.3" lengthAdjust="spacingAndGlyphs">i</tspan><tspan x="44.9 56.5 68.9">es </tspan><tspan x="77.2" textLength="10.7" lengthAdjust="spacingAndGlyphs" stroke="#000" stroke-width="0.71">N</tspan><tspan x="88.3 101.1">o:</tspan></text>
<text transform="translate(1452.4,1020.5) scale(0.6441,1)" font-family='"Liberation Serif","Noto Serif CJK SC",serif' font-size="20.92" font-weight="bold" stroke="#000" stroke-width="0.3" fill="#000"><tspan x="0.2" textLength="10.7" lengthAdjust="spacingAndGlyphs">P</tspan><tspan x="11.2" textLength="10.7" lengthAdjust="spacingAndGlyphs">=</tspan><tspan x="22.2" textLength="10.7" lengthAdjust="spacingAndGlyphs">P</tspan><tspan x="34.9" textLength="7.3" lengthAdjust="spacingAndGlyphs">i</tspan><tspan x="44.2" textLength="10.7" lengthAdjust="spacingAndGlyphs">n</tspan><tspan x="57.9"> </tspan><tspan x="66.2" textLength="10.7" lengthAdjust="spacingAndGlyphs" stroke="#000" stroke-width="0.82">H</tspan><tspan x="77.9 88.3">ea</tspan><tspan x="99.2" textLength="10.7" lengthAdjust="spacingAndGlyphs">d</tspan><tspan x="110.9 122">er</tspan></text>
<text transform="translate(1452.4,1044) scale(0.6441,1)" font-family='"Liberation Serif","Noto Serif CJK SC",serif' font-size="20.92" font-weight="bold" stroke="#000" stroke-width="0.3" fill="#000"><tspan x="0.2" textLength="10.7" lengthAdjust="spacingAndGlyphs">F</tspan><tspan x="11.2" textLength="10.7" lengthAdjust="spacingAndGlyphs">=</tspan><tspan x="22.2" textLength="10.7" lengthAdjust="spacingAndGlyphs">F</tspan><tspan x="33.9">e</tspan><tspan x="44.2" textLength="10.7" lengthAdjust="spacingAndGlyphs" stroke="#000" stroke-width="0.92">m</tspan><tspan x="55.3">a</tspan><tspan x="67.9" textLength="7.3" lengthAdjust="spacingAndGlyphs">l</tspan><tspan x="77.9 91">e </tspan><tspan x="99.2" textLength="10.7" lengthAdjust="spacingAndGlyphs" stroke="#000" stroke-width="0.82">H</tspan><tspan x="110.9 121.4">ea</tspan><tspan x="132.3" textLength="10.7" lengthAdjust="spacingAndGlyphs">d</tspan><tspan x="144 155">er</tspan></text>
<text transform="translate(1452.4,1067.5) scale(0.6441,1)" font-family='"Liberation Serif","Noto Serif CJK SC",serif' font-size="20.92" font-weight="bold" stroke="#000" stroke-width="0.3" fill="#000"><tspan x="0.2" textLength="10.7" lengthAdjust="spacingAndGlyphs" stroke="#000" stroke-width="0.58">B</tspan><tspan x="11.2" textLength="10.7" lengthAdjust="spacingAndGlyphs">=</tspan><tspan x="22.2" textLength="10.7" lengthAdjust="spacingAndGlyphs" stroke="#000" stroke-width="0.58">B</tspan><tspan x="33.3 44.3 57.9">ox </tspan><tspan x="66.2" textLength="10.7" lengthAdjust="spacingAndGlyphs" stroke="#000" stroke-width="0.82">H</tspan><tspan x="77.9 88.3">ea</tspan><tspan x="99.2" textLength="10.7" lengthAdjust="spacingAndGlyphs">d</tspan><tspan x="110.9 122">er</tspan></text>
<text transform="translate(1452.4,1091) scale(0.6441,1)" font-family='"Liberation Serif","Noto Serif CJK SC",serif' font-size="20.92" font-weight="bold" stroke="#000" stroke-width="0.3" fill="#000"><tspan x="0.2" textLength="10.7" lengthAdjust="spacingAndGlyphs" stroke="#000" stroke-width="0.58">E</tspan><tspan x="11.2" textLength="10.7" lengthAdjust="spacingAndGlyphs">=</tspan><tspan x="22.2" textLength="10.7" lengthAdjust="spacingAndGlyphs" stroke="#000" stroke-width="0.58">E</tspan><tspan x="34.9" textLength="7.3" lengthAdjust="spacingAndGlyphs">j</tspan><tspan x="44.9 55.9">ec</tspan><tspan x="67.9" textLength="7.3" lengthAdjust="spacingAndGlyphs">t</tspan><tspan x="77.3 88.9 102">or </tspan><tspan x="110.2" textLength="10.7" lengthAdjust="spacingAndGlyphs" stroke="#000" stroke-width="0.82">H</tspan><tspan x="122 132.4">ea</tspan><tspan x="143.3" textLength="10.7" lengthAdjust="spacingAndGlyphs">d</tspan><tspan x="155 166">er</tspan></text>
<circle cx="1584.2" cy="991.1" r="8.2" stroke-width="1.2" fill="none"/>
<text transform="translate(1584.2,996.4) scale(0.72,1)" font-family='"Liberation Serif","Noto Serif CJK SC",serif' font-size="16.03" font-weight="bold" text-anchor="middle" stroke="none" fill="#000" >2</text>
<text transform="translate(1600.2,999) scale(0.6441,1)" font-family='"Liberation Serif","Noto Serif CJK SC",serif' font-size="20.92" font-weight="bold" stroke="#000" stroke-width="0.3" fill="#000"><tspan x="0.2" textLength="10.7" lengthAdjust="spacingAndGlyphs">P</tspan><tspan x="12.9" textLength="7.3" lengthAdjust="spacingAndGlyphs">i</tspan><tspan x="23.9" textLength="7.3" lengthAdjust="spacingAndGlyphs">t</tspan><tspan x="33.9">c</tspan><tspan x="44.2" textLength="10.7" lengthAdjust="spacingAndGlyphs">h</tspan><tspan x="57.1">:</tspan></text>
<text transform="translate(1600.2,1022.5) scale(0.6441,1)" font-family='"Liberation Serif","Noto Serif CJK SC",serif' font-size="20.92" font-weight="bold" stroke="#000" stroke-width="0.3" fill="#000"><tspan x="0.3 11.3">08</tspan><tspan x="22.2" textLength="10.7" lengthAdjust="spacingAndGlyphs">=</tspan><tspan x="33.3 46.9 55.3 66.3">0.80</tspan></text>
<text transform="translate(1600.2,1045.9) scale(0.6441,1)" font-family='"Liberation Serif","Noto Serif CJK SC",serif' font-size="20.92" font-weight="bold" stroke="#000" stroke-width="0.3" fill="#000"><tspan x="0.3 11.3">10</tspan><tspan x="22.2" textLength="10.7" lengthAdjust="spacingAndGlyphs">=</tspan><tspan x="33.3 46.9 55.3 66.3">1.00</tspan></text>
<text transform="translate(1600.2,1069.3) scale(0.6441,1)" font-family='"Liberation Serif","Noto Serif CJK SC",serif' font-size="20.92" font-weight="bold" stroke="#000" stroke-width="0.3" fill="#000"><tspan x="0.3 11.3">12</tspan><tspan x="22.2" textLength="10.7" lengthAdjust="spacingAndGlyphs">=</tspan><tspan x="33.3 46.9 55.3 66.3">1.27</tspan></text>
<text transform="translate(1600.2,1092.8) scale(0.6441,1)" font-family='"Liberation Serif","Noto Serif CJK SC",serif' font-size="20.92" font-weight="bold" stroke="#000" stroke-width="0.3" fill="#000"><tspan x="0.3 11.3">20</tspan><tspan x="22.2" textLength="10.7" lengthAdjust="spacingAndGlyphs">=</tspan><tspan x="33.3 46.9 55.3 66.3">2.00</tspan></text>
<text transform="translate(1600.2,1116.2) scale(0.6441,1)" font-family='"Liberation Serif","Noto Serif CJK SC",serif' font-size="20.92" font-weight="bold" stroke="#000" stroke-width="0.3" fill="#000"><tspan x="0.3 11.3">25</tspan><tspan x="22.2" textLength="10.7" lengthAdjust="spacingAndGlyphs">=</tspan><tspan x="33.3 46.9 55.3 66.3">2.54</tspan></text>
<text transform="translate(1600.2,1139.7) scale(0.6441,1)" font-family='"Liberation Serif","Noto Serif CJK SC",serif' font-size="20.92" font-weight="bold" stroke="#000" stroke-width="0.3" fill="#000"><tspan x="0.3 11.3">39</tspan><tspan x="22.2" textLength="10.7" lengthAdjust="spacingAndGlyphs">=</tspan><tspan x="33.3 46.9 55.3 66.3">3.96</tspan></text>
<text transform="translate(1600.2,1163.2) scale(0.6441,1)" font-family='"Liberation Serif","Noto Serif CJK SC",serif' font-size="20.92" font-weight="bold" stroke="#000" stroke-width="0.3" fill="#000"><tspan x="0.3 11.3">50</tspan><tspan x="22.2" textLength="10.7" lengthAdjust="spacingAndGlyphs">=</tspan><tspan x="33.3 46.9 55.3 66.3">5.08</tspan></text>
<circle cx="1663.4" cy="991.1" r="8.2" stroke-width="1.2" fill="none"/>
<text transform="translate(1663.4,996.4) scale(0.72,1)" font-family='"Liberation Serif","Noto Serif CJK SC",serif' font-size="16.03" font-weight="bold" text-anchor="middle" stroke="none" fill="#000" >3</text>
<text transform="translate(1678.6,999) scale(0.6441,1)" font-family='"Liberation Serif","Noto Serif CJK SC",serif' font-size="20.92" font-weight="bold" stroke="#000" stroke-width="0.3" fill="#000"><tspan x="0.2" textLength="10.7" lengthAdjust="spacingAndGlyphs" stroke="#000" stroke-width="0.58">T</tspan><tspan x="11.3">a</tspan><tspan x="23.9" textLength="7.3" lengthAdjust="spacingAndGlyphs">i</tspan><tspan x="34.9" textLength="7.3" lengthAdjust="spacingAndGlyphs">l</tspan><tspan x="44.2" textLength="10.7" lengthAdjust="spacingAndGlyphs" stroke="#000" stroke-width="0.92">&amp;</tspan><tspan x="55.2" textLength="10.7" lengthAdjust="spacingAndGlyphs" stroke="#000" stroke-width="1.08">M</tspan><tspan x="66.3">o</tspan><tspan x="77.2" textLength="10.7" lengthAdjust="spacingAndGlyphs">u</tspan><tspan x="88.2" textLength="10.7" lengthAdjust="spacingAndGlyphs">n</tspan><tspan x="100.9" textLength="7.3" lengthAdjust="spacingAndGlyphs">t</tspan><tspan x="112" textLength="7.3" lengthAdjust="spacingAndGlyphs">i</tspan><tspan x="121.3" textLength="10.7" lengthAdjust="spacingAndGlyphs">n</tspan><tspan x="132.4 146">g </tspan><tspan x="154.3" textLength="10.7" lengthAdjust="spacingAndGlyphs">S</tspan><tspan x="167" textLength="7.3" lengthAdjust="spacingAndGlyphs">t</tspan><tspan x="176.4">y</tspan><tspan x="189" textLength="7.3" lengthAdjust="spacingAndGlyphs">l</tspan><tspan x="199 211.2">e:</tspan></text>
<text transform="translate(1678.6,1022.5) scale(0.6441,1)" font-family='"Liberation Serif","Noto Serif CJK SC",serif' font-size="20.92" font-weight="bold" stroke="#000" stroke-width="0.3" fill="#000"><tspan x="0.3">9</tspan><tspan x="11.2" textLength="10.7" lengthAdjust="spacingAndGlyphs" stroke="#000" stroke-width="0.71">D</tspan><tspan x="22.2" textLength="10.7" lengthAdjust="spacingAndGlyphs">=</tspan><tspan x="33.2" textLength="10.7" lengthAdjust="spacingAndGlyphs" stroke="#000" stroke-width="0.71">R</tspan><tspan x="45.9" textLength="7.3" lengthAdjust="spacingAndGlyphs">i</tspan><tspan x="55.3">g</tspan><tspan x="66.2" textLength="10.7" lengthAdjust="spacingAndGlyphs">h</tspan><tspan x="78.9" textLength="7.3" lengthAdjust="spacingAndGlyphs">t</tspan><tspan x="91"> </tspan><tspan x="99.2" textLength="10.7" lengthAdjust="spacingAndGlyphs" stroke="#000" stroke-width="0.71">A</tspan><tspan x="110.2" textLength="10.7" lengthAdjust="spacingAndGlyphs">n</tspan><tspan x="121.4">g</tspan><tspan x="134" textLength="7.3" lengthAdjust="spacingAndGlyphs">l</tspan><tspan x="144 157">e </tspan><tspan x="165.3" textLength="10.7" lengthAdjust="spacingAndGlyphs" stroke="#000" stroke-width="0.71">D</tspan><tspan x="177.6">I</tspan><tspan x="187.3" textLength="10.7" lengthAdjust="spacingAndGlyphs">P</tspan><tspan x="201"> </tspan><tspan x="209.3" textLength="10.7" lengthAdjust="spacingAndGlyphs" stroke="#000" stroke-width="0.58">T</tspan><tspan x="220.4">y</tspan><tspan x="231.3" textLength="10.7" lengthAdjust="spacingAndGlyphs">p</tspan><tspan x="243">e</tspan></text>
<text transform="translate(1678.6,1046) scale(0.6441,1)" font-family='"Liberation Serif","Noto Serif CJK SC",serif' font-size="20.92" font-weight="bold" stroke="#000" stroke-width="0.3" fill="#000"><tspan x="0.3">9</tspan><tspan x="11.2" textLength="10.7" lengthAdjust="spacingAndGlyphs">S</tspan><tspan x="22.2" textLength="10.7" lengthAdjust="spacingAndGlyphs">=</tspan><tspan x="33.2" textLength="10.7" lengthAdjust="spacingAndGlyphs">S</tspan><tspan x="45.9" textLength="7.3" lengthAdjust="spacingAndGlyphs">t</tspan><tspan x="55.9 66.3">ra</tspan><tspan x="78.9" textLength="7.3" lengthAdjust="spacingAndGlyphs">i</tspan><tspan x="88.3">g</tspan><tspan x="99.2" textLength="10.7" lengthAdjust="spacingAndGlyphs">h</tspan><tspan x="112" textLength="7.3" lengthAdjust="spacingAndGlyphs">t</tspan><tspan x="124"> </tspan><tspan x="132.3" textLength="10.7" lengthAdjust="spacingAndGlyphs">S</tspan><tspan x="143.3" textLength="10.7" lengthAdjust="spacingAndGlyphs" stroke="#000" stroke-width="1.08">M</tspan><tspan x="154.3" textLength="10.7" lengthAdjust="spacingAndGlyphs" stroke="#000" stroke-width="0.58">T</tspan><tspan x="168"> </tspan><tspan x="176.3" textLength="10.7" lengthAdjust="spacingAndGlyphs" stroke="#000" stroke-width="0.58">T</tspan><tspan x="187.4">y</tspan><tspan x="198.3" textLength="10.7" lengthAdjust="spacingAndGlyphs">p</tspan><tspan x="210">e</tspan></text>
<text transform="translate(1678.6,1069.5) scale(0.6441,1)" font-family='"Liberation Serif","Noto Serif CJK SC",serif' font-size="20.92" font-weight="bold" stroke="#000" stroke-width="0.3" fill="#000"><tspan x="0.3">0</tspan><tspan x="11.2" textLength="10.7" lengthAdjust="spacingAndGlyphs" stroke="#000" stroke-width="0.71">D</tspan><tspan x="22.2" textLength="10.7" lengthAdjust="spacingAndGlyphs">=</tspan><tspan x="33.2" textLength="10.7" lengthAdjust="spacingAndGlyphs">S</tspan><tspan x="45.9" textLength="7.3" lengthAdjust="spacingAndGlyphs">t</tspan><tspan x="55.9 66.3">ra</tspan><tspan x="78.9" textLength="7.3" lengthAdjust="spacingAndGlyphs">i</tspan><tspan x="88.3">g</tspan><tspan x="99.2" textLength="10.7" lengthAdjust="spacingAndGlyphs">h</tspan><tspan x="112" textLength="7.3" lengthAdjust="spacingAndGlyphs">t</tspan><tspan x="124"> </tspan><tspan x="132.3" textLength="10.7" lengthAdjust="spacingAndGlyphs" stroke="#000" stroke-width="0.71">D</tspan><tspan x="144.5">I</tspan><tspan x="154.3" textLength="10.7" lengthAdjust="spacingAndGlyphs">P</tspan><tspan x="168"> </tspan><tspan x="176.3" textLength="10.7" lengthAdjust="spacingAndGlyphs" stroke="#000" stroke-width="0.58">T</tspan><tspan x="187.4">y</tspan><tspan x="198.3" textLength="10.7" lengthAdjust="spacingAndGlyphs">p</tspan><tspan x="210">e</tspan></text>
<text transform="translate(1678.6,1093) scale(0.6441,1)" font-family='"Liberation Serif","Noto Serif CJK SC",serif' font-size="20.92" font-weight="bold" stroke="#000" stroke-width="0.3" fill="#000"><tspan x="0.3">0</tspan><tspan x="11.2" textLength="10.7" lengthAdjust="spacingAndGlyphs">S</tspan><tspan x="22.2" textLength="10.7" lengthAdjust="spacingAndGlyphs">=</tspan><tspan x="33.2" textLength="10.7" lengthAdjust="spacingAndGlyphs" stroke="#000" stroke-width="0.82">H</tspan><tspan x="44.3 55.9">or</tspan><tspan x="67.9" textLength="7.3" lengthAdjust="spacingAndGlyphs">i</tspan><tspan x="77.9 88.3">zo</tspan><tspan x="99.2" textLength="10.7" lengthAdjust="spacingAndGlyphs">n</tspan><tspan x="112" textLength="7.3" lengthAdjust="spacingAndGlyphs">t</tspan><tspan x="121.4">a</tspan><tspan x="134" textLength="7.3" lengthAdjust="spacingAndGlyphs">l</tspan><tspan x="146"> </tspan><tspan x="154.3" textLength="10.7" lengthAdjust="spacingAndGlyphs">S</tspan><tspan x="165.3" textLength="10.7" lengthAdjust="spacingAndGlyphs" stroke="#000" stroke-width="1.08">M</tspan><tspan x="176.3" textLength="10.7" lengthAdjust="spacingAndGlyphs" stroke="#000" stroke-width="0.58">T</tspan><tspan x="190"> </tspan><tspan x="198.3" textLength="10.7" lengthAdjust="spacingAndGlyphs" stroke="#000" stroke-width="0.58">T</tspan><tspan x="209.4">y</tspan><tspan x="220.3" textLength="10.7" lengthAdjust="spacingAndGlyphs">p</tspan><tspan x="232">e</tspan></text>
<circle cx="1856.7" cy="991.1" r="8.2" stroke-width="1.2" fill="none"/>
<text transform="translate(1856.7,996.4) scale(0.72,1)" font-family='"Liberation Serif","Noto Serif CJK SC",serif' font-size="16.03" font-weight="bold" text-anchor="middle" stroke="none" fill="#000" >4</text>
<text transform="translate(1871.9,999) scale(0.6441,1)" font-family='"Liberation Serif","Noto Serif CJK SC",serif' font-size="20.92" font-weight="bold" stroke="#000" stroke-width="0.3" fill="#000"><tspan x="0.2" textLength="10.7" lengthAdjust="spacingAndGlyphs" stroke="#000" stroke-width="0.71">N</tspan><tspan x="11.3 24.9 35.9 44.3">o. o</tspan><tspan x="56.9" textLength="7.3" lengthAdjust="spacingAndGlyphs">f</tspan><tspan x="68.9"> </tspan><tspan x="77.2" textLength="10.7" lengthAdjust="spacingAndGlyphs">P</tspan><tspan x="89.9" textLength="7.3" lengthAdjust="spacingAndGlyphs">i</tspan><tspan x="99.2" textLength="10.7" lengthAdjust="spacingAndGlyphs">n</tspan><tspan x="111.5 123.1">s:</tspan></text>
<text transform="translate(1871.9,1022.4) scale(0.6441,1)" font-family='"Liberation Serif","Noto Serif CJK SC",serif' font-size="20.92" font-weight="bold" stroke="#000" stroke-width="0.3" fill="#000"><tspan x="0.2" textLength="10.7" lengthAdjust="spacingAndGlyphs">S</tspan><tspan x="12.9" textLength="7.3" lengthAdjust="spacingAndGlyphs">i</tspan><tspan x="22.2" textLength="10.7" lengthAdjust="spacingAndGlyphs">n</tspan><tspan x="33.3">g</tspan><tspan x="45.9" textLength="7.3" lengthAdjust="spacingAndGlyphs">l</tspan><tspan x="55.9 68.9">e </tspan><tspan x="77.2" textLength="10.7" lengthAdjust="spacingAndGlyphs" stroke="#000" stroke-width="0.71">R</tspan><tspan x="88.3">o</tspan><tspan x="99.2" textLength="10.7" lengthAdjust="spacingAndGlyphs" stroke="#000" stroke-width="0.71">w</tspan></text>
<text transform="translate(1871.9,1045.8) scale(0.6441,1)" font-family='"Liberation Serif","Noto Serif CJK SC",serif' font-size="20.92" font-weight="bold" stroke="#000" stroke-width="0.3" fill="#000"><tspan x="0.3 11.3 22.3">101</tspan><tspan x="33.2" textLength="10.7" lengthAdjust="spacingAndGlyphs">=</tspan><tspan x="44.3 55.3 66.3">1*1</tspan><tspan x="77.2" textLength="10.7" lengthAdjust="spacingAndGlyphs">P</tspan><tspan x="89.9" textLength="7.3" lengthAdjust="spacingAndGlyphs">i</tspan><tspan x="99.2" textLength="10.7" lengthAdjust="spacingAndGlyphs">n</tspan></text>
<text transform="translate(1871.9,1069.2) scale(0.6441,1)" font-family='"Liberation Serif","Noto Serif CJK SC",serif' font-size="20.92" font-weight="bold" stroke="#000" stroke-width="0.3" fill="#000"><tspan x="0.3 11.3 22.3">102</tspan><tspan x="33.2" textLength="10.7" lengthAdjust="spacingAndGlyphs">=</tspan><tspan x="44.3 55.3 66.3">1*2</tspan><tspan x="77.2" textLength="10.7" lengthAdjust="spacingAndGlyphs">P</tspan><tspan x="89.9" textLength="7.3" lengthAdjust="spacingAndGlyphs">i</tspan><tspan x="99.2" textLength="10.7" lengthAdjust="spacingAndGlyphs">n</tspan></text>
<text transform="translate(1871.9,1116) scale(0.6441,1)" font-family='"Liberation Serif","Noto Serif CJK SC",serif' font-size="20.92" font-weight="bold" stroke="#000" stroke-width="0.3" fill="#000"><tspan x="0.3 11.3 22.3">140</tspan><tspan x="33.2" textLength="10.7" lengthAdjust="spacingAndGlyphs">=</tspan><tspan x="44.3 55.3 66.3 77.3">1*40</tspan><tspan x="88.2" textLength="10.7" lengthAdjust="spacingAndGlyphs">p</tspan><tspan x="100.9" textLength="7.3" lengthAdjust="spacingAndGlyphs">i</tspan><tspan x="110.2" textLength="10.7" lengthAdjust="spacingAndGlyphs">n</tspan></text>
<text transform="translate(1960.8,1022.4) scale(0.6441,1)" font-family='"Liberation Serif","Noto Serif CJK SC",serif' font-size="20.92" font-weight="bold" stroke="#000" stroke-width="0.3" fill="#000"><tspan x="0.2" textLength="10.7" lengthAdjust="spacingAndGlyphs" stroke="#000" stroke-width="0.71">D</tspan><tspan x="11.3">o</tspan><tspan x="22.2" textLength="10.7" lengthAdjust="spacingAndGlyphs">u</tspan><tspan x="33.2" textLength="10.7" lengthAdjust="spacingAndGlyphs">b</tspan><tspan x="45.9" textLength="7.3" lengthAdjust="spacingAndGlyphs">l</tspan><tspan x="55.9 68.9">e </tspan><tspan x="77.2" textLength="10.7" lengthAdjust="spacingAndGlyphs" stroke="#000" stroke-width="0.71">R</tspan><tspan x="88.3">o</tspan><tspan x="99.2" textLength="10.7" lengthAdjust="spacingAndGlyphs" stroke="#000" stroke-width="0.71">w</tspan></text>
<text transform="translate(1960.8,1045.8) scale(0.6441,1)" font-family='"Liberation Serif","Noto Serif CJK SC",serif' font-size="20.92" font-weight="bold" stroke="#000" stroke-width="0.3" fill="#000"><tspan x="0.3 11.3 22.3">201</tspan><tspan x="33.2" textLength="10.7" lengthAdjust="spacingAndGlyphs">=</tspan><tspan x="44.3 55.3 66.3">2*1</tspan><tspan x="77.2" textLength="10.7" lengthAdjust="spacingAndGlyphs">P</tspan><tspan x="89.9" textLength="7.3" lengthAdjust="spacingAndGlyphs">i</tspan><tspan x="99.2" textLength="10.7" lengthAdjust="spacingAndGlyphs">n</tspan></text>
<text transform="translate(1960.8,1069.2) scale(0.6441,1)" font-family='"Liberation Serif","Noto Serif CJK SC",serif' font-size="20.92" font-weight="bold" stroke="#000" stroke-width="0.3" fill="#000"><tspan x="0.3 11.3 22.3">202</tspan><tspan x="33.2" textLength="10.7" lengthAdjust="spacingAndGlyphs">=</tspan><tspan x="44.3 55.3 66.3">2*2</tspan><tspan x="77.2" textLength="10.7" lengthAdjust="spacingAndGlyphs">P</tspan><tspan x="89.9" textLength="7.3" lengthAdjust="spacingAndGlyphs">i</tspan><tspan x="99.2" textLength="10.7" lengthAdjust="spacingAndGlyphs">n</tspan></text>
<text transform="translate(1960.8,1116) scale(0.6441,1)" font-family='"Liberation Serif","Noto Serif CJK SC",serif' font-size="20.92" font-weight="bold" stroke="#000" stroke-width="0.3" fill="#000"><tspan x="0.3 11.3 22.3">240</tspan><tspan x="33.2" textLength="10.7" lengthAdjust="spacingAndGlyphs">=</tspan><tspan x="44.3 55.3 66.3 77.3">2*40</tspan><tspan x="88.2" textLength="10.7" lengthAdjust="spacingAndGlyphs">p</tspan><tspan x="100.9" textLength="7.3" lengthAdjust="spacingAndGlyphs">i</tspan><tspan x="110.2" textLength="10.7" lengthAdjust="spacingAndGlyphs">n</tspan></text>
<line x1="1882" y1="1079.3" x2="1882" y2="1091.5" stroke-width="1.8" stroke-dasharray="2.6 1.6"/>
<line x1="1907" y1="1079.3" x2="1907" y2="1091.5" stroke-width="1.8" stroke-dasharray="2.6 1.6"/>
<line x1="1971" y1="1079.3" x2="1971" y2="1091.5" stroke-width="1.8" stroke-dasharray="2.6 1.6"/>
<line x1="1996" y1="1079.3" x2="1996" y2="1091.5" stroke-width="1.8" stroke-dasharray="2.6 1.6"/>
<circle cx="2049.5" cy="990.3" r="8.2" stroke-width="1.2" fill="none"/>
<text transform="translate(2049.5,995.5) scale(0.72,1)" font-family='"Liberation Serif","Noto Serif CJK SC",serif' font-size="16.03" font-weight="bold" text-anchor="middle" stroke="none" fill="#000" >5</text>
<text transform="translate(2064.7,1013.9) scale(0.6441,1)" font-family='"Liberation Serif","Noto Serif CJK SC",serif' font-size="20.92" font-weight="bold" stroke="#000" stroke-width="0.3" fill="#000"><tspan x="1.4">I</tspan><tspan x="11.2" textLength="10.7" lengthAdjust="spacingAndGlyphs">n</tspan><tspan x="23.5">s</tspan><tspan x="33.2" textLength="10.7" lengthAdjust="spacingAndGlyphs">u</tspan><tspan x="45.9" textLength="7.3" lengthAdjust="spacingAndGlyphs">l</tspan><tspan x="55.3">a</tspan><tspan x="67.9" textLength="7.3" lengthAdjust="spacingAndGlyphs">t</tspan><tspan x="77.3 88.9 102">or </tspan><tspan x="110.2" textLength="10.7" lengthAdjust="spacingAndGlyphs" stroke="#000" stroke-width="0.71">C</tspan><tspan x="121.4">o</tspan><tspan x="134" textLength="7.3" lengthAdjust="spacingAndGlyphs">l</tspan><tspan x="143.4 155 167.1">or:</tspan></text>
<text transform="translate(2064.7,1037.4) scale(0.6441,1)" font-family='"Liberation Serif","Noto Serif CJK SC",serif' font-size="20.92" font-weight="bold" stroke="#000" stroke-width="0.3" fill="#000"><tspan x="0.2" textLength="10.7" lengthAdjust="spacingAndGlyphs" stroke="#000" stroke-width="0.71">A</tspan><tspan x="13">:</tspan><tspan x="22.2" textLength="10.7" lengthAdjust="spacingAndGlyphs" stroke="#000" stroke-width="0.58">B</tspan><tspan x="34.9" textLength="7.3" lengthAdjust="spacingAndGlyphs">l</tspan><tspan x="44.3 55.9">ac</tspan><tspan x="66.2" textLength="10.7" lengthAdjust="spacingAndGlyphs">k</tspan></text>
<text transform="translate(2127.8,1037.4) scale(0.6441,1)" font-family='"Liberation Serif","Noto Serif CJK SC",serif' font-size="20.92" font-weight="bold" stroke="#000" stroke-width="0.3" fill="#000"><tspan x="0.2" textLength="10.7" lengthAdjust="spacingAndGlyphs" stroke="#000" stroke-width="0.58">B</tspan><tspan x="13">:</tspan><tspan x="22.2" textLength="10.7" lengthAdjust="spacingAndGlyphs" stroke="#000" stroke-width="0.58">B</tspan><tspan x="33.9 44.3">ro</tspan><tspan x="55.2" textLength="10.7" lengthAdjust="spacingAndGlyphs" stroke="#000" stroke-width="0.71">w</tspan><tspan x="66.2" textLength="10.7" lengthAdjust="spacingAndGlyphs">n</tspan></text>
<text transform="translate(2191.3,1037.4) scale(0.6441,1)" font-family='"Liberation Serif","Noto Serif CJK SC",serif' font-size="20.92" font-weight="bold" stroke="#000" stroke-width="0.3" fill="#000"><tspan x="0.2" textLength="10.7" lengthAdjust="spacingAndGlyphs" stroke="#000" stroke-width="0.71">C</tspan><tspan x="13">:</tspan><tspan x="22.2" textLength="10.7" lengthAdjust="spacingAndGlyphs" stroke="#000" stroke-width="0.71">R</tspan><tspan x="33.9">e</tspan><tspan x="44.2" textLength="10.7" lengthAdjust="spacingAndGlyphs">d</tspan></text>
<text transform="translate(2064.7,1060.9) scale(0.6441,1)" font-family='"Liberation Serif","Noto Serif CJK SC",serif' font-size="20.92" font-weight="bold" stroke="#000" stroke-width="0.3" fill="#000"><tspan x="0.2" textLength="10.7" lengthAdjust="spacingAndGlyphs" stroke="#000" stroke-width="0.71">D</tspan><tspan x="13">:</tspan><tspan x="22.2" textLength="10.7" lengthAdjust="spacingAndGlyphs" stroke="#000" stroke-width="0.82">O</tspan><tspan x="33.9 44.3">ra</tspan><tspan x="55.2" textLength="10.7" lengthAdjust="spacingAndGlyphs">n</tspan><tspan x="66.3 77.9">ge</tspan></text>
<text transform="translate(2127.8,1060.9) scale(0.6441,1)" font-family='"Liberation Serif","Noto Serif CJK SC",serif' font-size="20.92" font-weight="bold" stroke="#000" stroke-width="0.3" fill="#000"><tspan x="0.2" textLength="10.7" lengthAdjust="spacingAndGlyphs" stroke="#000" stroke-width="0.58">E</tspan><tspan x="13">:</tspan><tspan x="22.2" textLength="10.7" lengthAdjust="spacingAndGlyphs" stroke="#000" stroke-width="0.71">Y</tspan><tspan x="33.9">e</tspan><tspan x="45.9" textLength="7.3" lengthAdjust="spacingAndGlyphs">l</tspan><tspan x="56.9" textLength="7.3" lengthAdjust="spacingAndGlyphs">l</tspan><tspan x="66.3">o</tspan><tspan x="77.2" textLength="10.7" lengthAdjust="spacingAndGlyphs" stroke="#000" stroke-width="0.71">w</tspan></text>
<text transform="translate(2190.5,1060.9) scale(0.6441,1)" font-family='"Liberation Serif","Noto Serif CJK SC",serif' font-size="20.92" font-weight="bold" stroke="#000" stroke-width="0.3" fill="#000"><tspan x="0.2" textLength="10.7" lengthAdjust="spacingAndGlyphs">F</tspan><tspan x="13">:</tspan><tspan x="22.2" textLength="10.7" lengthAdjust="spacingAndGlyphs" stroke="#000" stroke-width="0.82">G</tspan><tspan x="33.9 44.9 55.9">ree</tspan><tspan x="66.2" textLength="10.7" lengthAdjust="spacingAndGlyphs">n</tspan></text>
<text transform="translate(2064.7,1084.3) scale(0.6441,1)" font-family='"Liberation Serif","Noto Serif CJK SC",serif' font-size="20.92" font-weight="bold" stroke="#000" stroke-width="0.3" fill="#000"><tspan x="0.2" textLength="10.7" lengthAdjust="spacingAndGlyphs" stroke="#000" stroke-width="0.82">G</tspan><tspan x="13">:</tspan><tspan x="22.2" textLength="10.7" lengthAdjust="spacingAndGlyphs" stroke="#000" stroke-width="0.58">B</tspan><tspan x="34.9" textLength="7.3" lengthAdjust="spacingAndGlyphs">l</tspan><tspan x="44.2" textLength="10.7" lengthAdjust="spacingAndGlyphs">u</tspan><tspan x="55.9">e</tspan></text>
<text transform="translate(2127.8,1084.3) scale(0.6441,1)" font-family='"Liberation Serif","Noto Serif CJK SC",serif' font-size="20.92" font-weight="bold" stroke="#000" stroke-width="0.3" fill="#000"><tspan x="0.2" textLength="10.7" lengthAdjust="spacingAndGlyphs" stroke="#000" stroke-width="0.82">H</tspan><tspan x="13">:</tspan><tspan x="22.2" textLength="10.7" lengthAdjust="spacingAndGlyphs" stroke="#000" stroke-width="0.71">V</tspan><tspan x="34.9" textLength="7.3" lengthAdjust="spacingAndGlyphs">i</tspan><tspan x="44.3">o</tspan><tspan x="56.9" textLength="7.3" lengthAdjust="spacingAndGlyphs">l</tspan><tspan x="66.9">e</tspan><tspan x="78.9" textLength="7.3" lengthAdjust="spacingAndGlyphs">t</tspan></text>
<text transform="translate(2190.5,1084.3) scale(0.6441,1)" font-family='"Liberation Serif","Noto Serif CJK SC",serif' font-size="20.92" font-weight="bold" stroke="#000" stroke-width="0.3" fill="#000"><tspan x="0.3 13">J:</tspan><tspan x="22.2" textLength="10.7" lengthAdjust="spacingAndGlyphs" stroke="#000" stroke-width="0.82">G</tspan><tspan x="33.9 44.3 55.3">ray</tspan></text>
<text transform="translate(2064.7,1107.7) scale(0.6441,1)" font-family='"Liberation Serif","Noto Serif CJK SC",serif' font-size="20.92" font-weight="bold" stroke="#000" stroke-width="0.3" fill="#000"><tspan x="0.2" textLength="10.7" lengthAdjust="spacingAndGlyphs" stroke="#000" stroke-width="0.82">K</tspan><tspan x="13">:</tspan><tspan x="22.2" textLength="10.7" lengthAdjust="spacingAndGlyphs" stroke="#000" stroke-width="1.14">W</tspan><tspan x="33.2" textLength="10.7" lengthAdjust="spacingAndGlyphs">h</tspan><tspan x="45.9" textLength="7.3" lengthAdjust="spacingAndGlyphs">i</tspan><tspan x="56.9" textLength="7.3" lengthAdjust="spacingAndGlyphs">t</tspan><tspan x="66.9">e</tspan></text>
<text transform="translate(2127.8,1107.7) scale(0.6441,1)" font-family='"Liberation Serif","Noto Serif CJK SC",serif' font-size="20.92" font-weight="bold" stroke="#000" stroke-width="0.3" fill="#000"><tspan x="0.2" textLength="10.7" lengthAdjust="spacingAndGlyphs">P</tspan><tspan x="13">:</tspan><tspan x="22.2" textLength="10.7" lengthAdjust="spacingAndGlyphs" stroke="#000" stroke-width="0.58">L</tspan><tspan x="34.9" textLength="7.3" lengthAdjust="spacingAndGlyphs">i</tspan><tspan x="44.3">g</tspan><tspan x="55.2" textLength="10.7" lengthAdjust="spacingAndGlyphs">h</tspan><tspan x="67.9" textLength="7.3" lengthAdjust="spacingAndGlyphs">t</tspan><tspan x="79.9"> </tspan><tspan x="88.2" textLength="10.7" lengthAdjust="spacingAndGlyphs" stroke="#000" stroke-width="0.58">B</tspan><tspan x="100.9" textLength="7.3" lengthAdjust="spacingAndGlyphs">l</tspan><tspan x="110.2" textLength="10.7" lengthAdjust="spacingAndGlyphs">u</tspan><tspan x="122">e</tspan></text>
<circle cx="1437.2" cy="1198.4" r="8.2" stroke-width="1.2" fill="none"/>
<text transform="translate(1437.2,1203.7) scale(0.72,1)" font-family='"Liberation Serif","Noto Serif CJK SC",serif' font-size="16.03" font-weight="bold" text-anchor="middle" stroke="none" fill="#000" >6</text>
<text transform="translate(1452.4,1205.1) scale(0.6441,1)" font-family='"Liberation Serif","Noto Serif CJK SC",serif' font-size="20.92" font-weight="bold" stroke="#000" stroke-width="0.3" fill="#000"><tspan x="0.2" textLength="10.7" lengthAdjust="spacingAndGlyphs" stroke="#000" stroke-width="1.08">M</tspan><tspan x="11.3">a</tspan><tspan x="23.9" textLength="7.3" lengthAdjust="spacingAndGlyphs">t</tspan><tspan x="33.9 44.9">er</tspan><tspan x="56.9" textLength="7.3" lengthAdjust="spacingAndGlyphs">i</tspan><tspan x="66.3">a</tspan><tspan x="78.9" textLength="7.3" lengthAdjust="spacingAndGlyphs">l</tspan><tspan x="91"> </tspan><tspan x="99.2" textLength="10.7" lengthAdjust="spacingAndGlyphs" stroke="#000" stroke-width="0.58">T</tspan><tspan x="110.4">y</tspan><tspan x="121.3" textLength="10.7" lengthAdjust="spacingAndGlyphs">p</tspan><tspan x="133 145.1">e:</tspan></text>
<text transform="translate(1452.4,1228.5) scale(0.6441,1)" font-family='"Liberation Serif","Noto Serif CJK SC",serif' font-size="20.92" font-weight="bold" stroke="#000" stroke-width="0.3" fill="#000"><tspan x="0.2" textLength="10.7" lengthAdjust="spacingAndGlyphs" stroke="#000" stroke-width="0.71">A</tspan><tspan x="13">-</tspan><tspan x="22.2" textLength="10.7" lengthAdjust="spacingAndGlyphs">P</tspan><tspan x="33.2" textLength="10.7" lengthAdjust="spacingAndGlyphs" stroke="#000" stroke-width="0.58">B</tspan><tspan x="44.2" textLength="10.7" lengthAdjust="spacingAndGlyphs" stroke="#000" stroke-width="0.58">T</tspan></text>
<text transform="translate(1452.4,1251.9) scale(0.6441,1)" font-family='"Liberation Serif","Noto Serif CJK SC",serif' font-size="20.92" font-weight="bold" stroke="#000" stroke-width="0.3" fill="#000"><tspan x="0.2" textLength="10.7" lengthAdjust="spacingAndGlyphs" stroke="#000" stroke-width="0.58">B</tspan><tspan x="13">-</tspan><tspan x="22.2" textLength="10.7" lengthAdjust="spacingAndGlyphs">P</tspan><tspan x="33.2" textLength="10.7" lengthAdjust="spacingAndGlyphs" stroke="#000" stroke-width="0.71">A</tspan><tspan x="44.3 55.3">46</tspan></text>
<text transform="translate(1452.4,1275.3) scale(0.6441,1)" font-family='"Liberation Serif","Noto Serif CJK SC",serif' font-size="20.92" font-weight="bold" stroke="#000" stroke-width="0.3" fill="#000"><tspan x="0.2" textLength="10.7" lengthAdjust="spacingAndGlyphs" stroke="#000" stroke-width="0.71">C</tspan><tspan x="13">-</tspan><tspan x="22.2" textLength="10.7" lengthAdjust="spacingAndGlyphs">P</tspan><tspan x="33.2" textLength="10.7" lengthAdjust="spacingAndGlyphs" stroke="#000" stroke-width="0.71">A</tspan><tspan x="44.3">6</tspan><tspan x="55.2" textLength="10.7" lengthAdjust="spacingAndGlyphs" stroke="#000" stroke-width="0.58">T</tspan></text>
<text transform="translate(1452.4,1298.7) scale(0.6441,1)" font-family='"Liberation Serif","Noto Serif CJK SC",serif' font-size="20.92" font-weight="bold" stroke="#000" stroke-width="0.3" fill="#000"><tspan x="0.2" textLength="10.7" lengthAdjust="spacingAndGlyphs" stroke="#000" stroke-width="0.71">D</tspan><tspan x="13">-</tspan><tspan x="22.2" textLength="10.7" lengthAdjust="spacingAndGlyphs">P</tspan><tspan x="33.2" textLength="10.7" lengthAdjust="spacingAndGlyphs" stroke="#000" stroke-width="0.71">A</tspan><tspan x="44.3">9</tspan><tspan x="55.2" textLength="10.7" lengthAdjust="spacingAndGlyphs" stroke="#000" stroke-width="0.58">T</tspan></text>
<text transform="translate(1452.4,1322.1) scale(0.6441,1)" font-family='"Liberation Serif","Noto Serif CJK SC",serif' font-size="20.92" font-weight="bold" stroke="#000" stroke-width="0.3" fill="#000"><tspan x="0.2" textLength="10.7" lengthAdjust="spacingAndGlyphs" stroke="#000" stroke-width="0.58">E</tspan><tspan x="13">-</tspan><tspan x="22.2" textLength="10.7" lengthAdjust="spacingAndGlyphs" stroke="#000" stroke-width="0.58">L</tspan><tspan x="33.2" textLength="10.7" lengthAdjust="spacingAndGlyphs" stroke="#000" stroke-width="0.71">C</tspan><tspan x="44.2" textLength="10.7" lengthAdjust="spacingAndGlyphs">P</tspan></text>
<circle cx="1578.4" cy="1198.4" r="8.2" stroke-width="1.2" fill="none"/>
<text transform="translate(1578.4,1203.7) scale(0.72,1)" font-family='"Liberation Serif","Noto Serif CJK SC",serif' font-size="16.03" font-weight="bold" text-anchor="middle" stroke="none" fill="#000" >7</text>
<text transform="translate(1593.5,1205.1) scale(0.6441,1)" font-family='"Liberation Serif","Noto Serif CJK SC",serif' font-size="20.92" font-weight="bold" stroke="#000" stroke-width="0.3" fill="#000"><tspan x="0.2" textLength="10.7" lengthAdjust="spacingAndGlyphs">P</tspan><tspan x="12.9" textLength="7.3" lengthAdjust="spacingAndGlyphs">l</tspan><tspan x="22.3">a</tspan><tspan x="34.9" textLength="7.3" lengthAdjust="spacingAndGlyphs">t</tspan><tspan x="45.9" textLength="7.3" lengthAdjust="spacingAndGlyphs">i</tspan><tspan x="55.2" textLength="10.7" lengthAdjust="spacingAndGlyphs">n</tspan><tspan x="66.3 79.9">g </tspan><tspan x="88.2" textLength="10.7" lengthAdjust="spacingAndGlyphs" stroke="#000" stroke-width="0.58">T</tspan><tspan x="99.4">y</tspan><tspan x="110.2" textLength="10.7" lengthAdjust="spacingAndGlyphs">p</tspan><tspan x="122 134.1">e:</tspan></text>
<text transform="translate(1593.5,1228.6) scale(0.6441,1)" font-family='"Liberation Serif","Noto Serif CJK SC",serif' font-size="20.92" font-weight="bold" stroke="#000" stroke-width="0.3" fill="#000"><tspan x="0.3 11.3 24">0*-</tspan><tspan x="33.2" textLength="10.7" lengthAdjust="spacingAndGlyphs">S</tspan><tspan x="44.2" textLength="10.7" lengthAdjust="spacingAndGlyphs">n</tspan><tspan x="57.1">-</tspan><tspan x="66.2" textLength="10.7" lengthAdjust="spacingAndGlyphs" stroke="#000" stroke-width="0.71">A</tspan><tspan x="77.2" textLength="10.7" lengthAdjust="spacingAndGlyphs">u</tspan><tspan x="91 99.4 110.4 123.1"> 1*-</tspan><tspan x="132.3" textLength="10.7" lengthAdjust="spacingAndGlyphs" stroke="#000" stroke-width="0.71">N</tspan><tspan x="145" textLength="7.3" lengthAdjust="spacingAndGlyphs">i</tspan><tspan x="157 165.4 176.4 189.2"> 2*-</tspan><tspan x="198.3" textLength="10.7" lengthAdjust="spacingAndGlyphs">S</tspan><tspan x="209.3" textLength="10.7" lengthAdjust="spacingAndGlyphs">n</tspan><tspan x="223.1 231.5 242.5 255.2"> 3*-</tspan><tspan x="264.4" textLength="10.7" lengthAdjust="spacingAndGlyphs" stroke="#000" stroke-width="1.08">M</tspan><tspan x="275.5">a</tspan><tspan x="288.1" textLength="7.3" lengthAdjust="spacingAndGlyphs">t</tspan><tspan x="299.1" textLength="7.3" lengthAdjust="spacingAndGlyphs">t</tspan><tspan x="309.1 321.3">e-</tspan><tspan x="330.4" textLength="10.7" lengthAdjust="spacingAndGlyphs" stroke="#000" stroke-width="0.58">T</tspan><tspan x="343.1" textLength="7.3" lengthAdjust="spacingAndGlyphs">i</tspan><tspan x="352.4" textLength="10.7" lengthAdjust="spacingAndGlyphs">n</tspan><tspan x="366.2 374.6 385.6 398.3"> 5*-</tspan><tspan x="407.5" textLength="10.7" lengthAdjust="spacingAndGlyphs" stroke="#000" stroke-width="0.71">A</tspan><tspan x="418.5" textLength="10.7" lengthAdjust="spacingAndGlyphs">u</tspan></text>
<text transform="translate(1593.5,1252.9) scale(0.6441,1)" font-family='"Liberation Serif","Noto Serif CJK SC",serif' font-size="20.92" font-weight="bold" stroke="#000" stroke-width="0.3" fill="#000"><tspan x="0.3">0</tspan><tspan x="11.2" textLength="10.7" lengthAdjust="spacingAndGlyphs" stroke="#000" stroke-width="0.71">A</tspan><tspan x="24">-</tspan><tspan x="33.2" textLength="10.7" lengthAdjust="spacingAndGlyphs">S</tspan><tspan x="44.2" textLength="10.7" lengthAdjust="spacingAndGlyphs">n</tspan><tspan x="57.1">-</tspan><tspan x="66.2" textLength="10.7" lengthAdjust="spacingAndGlyphs" stroke="#000" stroke-width="0.71">A</tspan><tspan x="77.2" textLength="10.7" lengthAdjust="spacingAndGlyphs">u</tspan><tspan x="91 99.4"> 1</tspan><tspan x="110.2" textLength="10.7" lengthAdjust="spacingAndGlyphs">u</tspan><tspan x="121.3" textLength="10.7" lengthAdjust="spacingAndGlyphs">″</tspan></text>
<text transform="translate(1685.7,1252.9) scale(0.6441,1)" font-family='"Liberation Serif","Noto Serif CJK SC",serif' font-size="20.92" font-weight="bold" stroke="#000" stroke-width="0.3" fill="#000"><tspan x="0.3">0</tspan><tspan x="11.2" textLength="10.7" lengthAdjust="spacingAndGlyphs">F</tspan><tspan x="24">-</tspan><tspan x="33.2" textLength="10.7" lengthAdjust="spacingAndGlyphs">S</tspan><tspan x="44.2" textLength="10.7" lengthAdjust="spacingAndGlyphs">n</tspan><tspan x="57.1">-</tspan><tspan x="66.2" textLength="10.7" lengthAdjust="spacingAndGlyphs" stroke="#000" stroke-width="0.71">A</tspan><tspan x="77.2" textLength="10.7" lengthAdjust="spacingAndGlyphs">u</tspan><tspan x="91 99.4 110.4"> 10</tspan><tspan x="121.3" textLength="10.7" lengthAdjust="spacingAndGlyphs">u</tspan><tspan x="132.3" textLength="10.7" lengthAdjust="spacingAndGlyphs">″</tspan></text>
<text transform="translate(1792.7,1252.9) scale(0.6441,1)" font-family='"Liberation Serif","Noto Serif CJK SC",serif' font-size="20.92" font-weight="bold" stroke="#000" stroke-width="0.3" fill="#000"><tspan x="0.3">5</tspan><tspan x="11.2" textLength="10.7" lengthAdjust="spacingAndGlyphs" stroke="#000" stroke-width="0.71">A</tspan><tspan x="24">-</tspan><tspan x="33.2" textLength="10.7" lengthAdjust="spacingAndGlyphs" stroke="#000" stroke-width="0.71">A</tspan><tspan x="44.2" textLength="10.7" lengthAdjust="spacingAndGlyphs">u</tspan><tspan x="57.9 66.3"> 1</tspan><tspan x="77.2" textLength="10.7" lengthAdjust="spacingAndGlyphs">u</tspan><tspan x="88.2" textLength="10.7" lengthAdjust="spacingAndGlyphs">″</tspan></text>
<text transform="translate(1593.5,1277.6) scale(0.6441,1)" font-family='"Liberation Serif","Noto Serif CJK SC",serif' font-size="20.92" font-weight="bold" stroke="#000" stroke-width="0.3" fill="#000"><tspan x="0.3">0</tspan><tspan x="11.2" textLength="10.7" lengthAdjust="spacingAndGlyphs" stroke="#000" stroke-width="0.58">B</tspan><tspan x="24">-</tspan><tspan x="33.2" textLength="10.7" lengthAdjust="spacingAndGlyphs">S</tspan><tspan x="44.2" textLength="10.7" lengthAdjust="spacingAndGlyphs">n</tspan><tspan x="57.1">-</tspan><tspan x="66.2" textLength="10.7" lengthAdjust="spacingAndGlyphs" stroke="#000" stroke-width="0.71">A</tspan><tspan x="77.2" textLength="10.7" lengthAdjust="spacingAndGlyphs">u</tspan><tspan x="91 99.4"> 2</tspan><tspan x="110.2" textLength="10.7" lengthAdjust="spacingAndGlyphs">u</tspan><tspan x="121.3" textLength="10.7" lengthAdjust="spacingAndGlyphs">″</tspan></text>
<text transform="translate(1685.7,1277.6) scale(0.6441,1)" font-family='"Liberation Serif","Noto Serif CJK SC",serif' font-size="20.92" font-weight="bold" stroke="#000" stroke-width="0.3" fill="#000"><tspan x="0.3">0</tspan><tspan x="11.2" textLength="10.7" lengthAdjust="spacingAndGlyphs" stroke="#000" stroke-width="0.82">G</tspan><tspan x="24">-</tspan><tspan x="33.2" textLength="10.7" lengthAdjust="spacingAndGlyphs">S</tspan><tspan x="44.2" textLength="10.7" lengthAdjust="spacingAndGlyphs">n</tspan><tspan x="57.1">-</tspan><tspan x="66.2" textLength="10.7" lengthAdjust="spacingAndGlyphs" stroke="#000" stroke-width="0.71">A</tspan><tspan x="77.2" textLength="10.7" lengthAdjust="spacingAndGlyphs">u</tspan><tspan x="91 99.4 110.4"> 15</tspan><tspan x="121.3" textLength="10.7" lengthAdjust="spacingAndGlyphs">u</tspan><tspan x="132.3" textLength="10.7" lengthAdjust="spacingAndGlyphs">″</tspan></text>
<text transform="translate(1792.7,1277.6) scale(0.6441,1)" font-family='"Liberation Serif","Noto Serif CJK SC",serif' font-size="20.92" font-weight="bold" stroke="#000" stroke-width="0.3" fill="#000"><tspan x="0.3">5</tspan><tspan x="11.2" textLength="10.7" lengthAdjust="spacingAndGlyphs" stroke="#000" stroke-width="0.58">B</tspan><tspan x="24">-</tspan><tspan x="33.2" textLength="10.7" lengthAdjust="spacingAndGlyphs" stroke="#000" stroke-width="0.71">A</tspan><tspan x="44.2" textLength="10.7" lengthAdjust="spacingAndGlyphs">u</tspan><tspan x="57.9 66.3"> 2</tspan><tspan x="77.2" textLength="10.7" lengthAdjust="spacingAndGlyphs">u</tspan><tspan x="88.2" textLength="10.7" lengthAdjust="spacingAndGlyphs">″</tspan></text>
<text transform="translate(1593.5,1301.9) scale(0.6441,1)" font-family='"Liberation Serif","Noto Serif CJK SC",serif' font-size="20.92" font-weight="bold" stroke="#000" stroke-width="0.3" fill="#000"><tspan x="0.3">0</tspan><tspan x="11.2" textLength="10.7" lengthAdjust="spacingAndGlyphs" stroke="#000" stroke-width="0.71">C</tspan><tspan x="24">-</tspan><tspan x="33.2" textLength="10.7" lengthAdjust="spacingAndGlyphs">S</tspan><tspan x="44.2" textLength="10.7" lengthAdjust="spacingAndGlyphs">n</tspan><tspan x="57.1">-</tspan><tspan x="66.2" textLength="10.7" lengthAdjust="spacingAndGlyphs" stroke="#000" stroke-width="0.71">A</tspan><tspan x="77.2" textLength="10.7" lengthAdjust="spacingAndGlyphs">u</tspan><tspan x="91 99.4"> 3</tspan><tspan x="110.2" textLength="10.7" lengthAdjust="spacingAndGlyphs">u</tspan><tspan x="121.3" textLength="10.7" lengthAdjust="spacingAndGlyphs">″</tspan></text>
<text transform="translate(1685.7,1301.9) scale(0.6441,1)" font-family='"Liberation Serif","Noto Serif CJK SC",serif' font-size="20.92" font-weight="bold" stroke="#000" stroke-width="0.3" fill="#000"><tspan x="0.3">0</tspan><tspan x="11.2" textLength="10.7" lengthAdjust="spacingAndGlyphs" stroke="#000" stroke-width="0.82">H</tspan><tspan x="24">-</tspan><tspan x="33.2" textLength="10.7" lengthAdjust="spacingAndGlyphs">S</tspan><tspan x="44.2" textLength="10.7" lengthAdjust="spacingAndGlyphs">n</tspan><tspan x="57.1">-</tspan><tspan x="66.2" textLength="10.7" lengthAdjust="spacingAndGlyphs" stroke="#000" stroke-width="0.71">A</tspan><tspan x="77.2" textLength="10.7" lengthAdjust="spacingAndGlyphs">u</tspan><tspan x="91 99.4 110.4"> 30</tspan><tspan x="121.3" textLength="10.7" lengthAdjust="spacingAndGlyphs">u</tspan><tspan x="132.3" textLength="10.7" lengthAdjust="spacingAndGlyphs">″</tspan></text>
<text transform="translate(1792.7,1301.9) scale(0.6441,1)" font-family='"Liberation Serif","Noto Serif CJK SC",serif' font-size="20.92" font-weight="bold" stroke="#000" stroke-width="0.3" fill="#000"><tspan x="0.3">5</tspan><tspan x="11.2" textLength="10.7" lengthAdjust="spacingAndGlyphs" stroke="#000" stroke-width="0.71">C</tspan><tspan x="24">-</tspan><tspan x="33.2" textLength="10.7" lengthAdjust="spacingAndGlyphs" stroke="#000" stroke-width="0.71">A</tspan><tspan x="44.2" textLength="10.7" lengthAdjust="spacingAndGlyphs">u</tspan><tspan x="57.9 66.3"> 3</tspan><tspan x="77.2" textLength="10.7" lengthAdjust="spacingAndGlyphs">u</tspan><tspan x="88.2" textLength="10.7" lengthAdjust="spacingAndGlyphs">″</tspan></text>
<text transform="translate(1593.5,1330.5) scale(0.6441,1)" font-family='"Liberation Serif","Noto Serif CJK SC",serif' font-size="20.92" font-weight="bold" stroke="#000" stroke-width="0.3" fill="#000"><tspan x="0.3">0</tspan><tspan x="11.2" textLength="10.7" lengthAdjust="spacingAndGlyphs" stroke="#000" stroke-width="0.71">D</tspan><tspan x="24">-</tspan><tspan x="33.2" textLength="10.7" lengthAdjust="spacingAndGlyphs">S</tspan><tspan x="44.2" textLength="10.7" lengthAdjust="spacingAndGlyphs">n</tspan><tspan x="57.1">-</tspan><tspan x="66.2" textLength="10.7" lengthAdjust="spacingAndGlyphs" stroke="#000" stroke-width="0.71">A</tspan><tspan x="77.2" textLength="10.7" lengthAdjust="spacingAndGlyphs">u</tspan><tspan x="91 99.4"> 4</tspan><tspan x="110.2" textLength="10.7" lengthAdjust="spacingAndGlyphs">u</tspan><tspan x="121.3" textLength="10.7" lengthAdjust="spacingAndGlyphs">″</tspan></text>
<text transform="translate(1685.7,1330.5) scale(0.6441,1)" font-family='"Liberation Serif","Noto Serif CJK SC",serif' font-size="20.92" font-weight="bold" stroke="#000" stroke-width="0.3" fill="#000"><tspan x="0.3 12.4 24">0I-</tspan><tspan x="33.2" textLength="10.7" lengthAdjust="spacingAndGlyphs">S</tspan><tspan x="44.2" textLength="10.7" lengthAdjust="spacingAndGlyphs">n</tspan><tspan x="57.1">-</tspan><tspan x="66.2" textLength="10.7" lengthAdjust="spacingAndGlyphs" stroke="#000" stroke-width="0.71">A</tspan><tspan x="77.2" textLength="10.7" lengthAdjust="spacingAndGlyphs">u</tspan><tspan x="91 99.4 110.4"> 40</tspan><tspan x="121.3" textLength="10.7" lengthAdjust="spacingAndGlyphs">u</tspan><tspan x="132.3" textLength="10.7" lengthAdjust="spacingAndGlyphs">″</tspan></text>
<text transform="translate(1593.5,1354.8) scale(0.6441,1)" font-family='"Liberation Serif","Noto Serif CJK SC",serif' font-size="20.92" font-weight="bold" stroke="#000" stroke-width="0.3" fill="#000"><tspan x="0.3">0</tspan><tspan x="11.2" textLength="10.7" lengthAdjust="spacingAndGlyphs" stroke="#000" stroke-width="0.58">E</tspan><tspan x="24">-</tspan><tspan x="33.2" textLength="10.7" lengthAdjust="spacingAndGlyphs">S</tspan><tspan x="44.2" textLength="10.7" lengthAdjust="spacingAndGlyphs">n</tspan><tspan x="57.1">-</tspan><tspan x="66.2" textLength="10.7" lengthAdjust="spacingAndGlyphs" stroke="#000" stroke-width="0.71">A</tspan><tspan x="77.2" textLength="10.7" lengthAdjust="spacingAndGlyphs">u</tspan><tspan x="91 99.4"> 5</tspan><tspan x="110.2" textLength="10.7" lengthAdjust="spacingAndGlyphs">u</tspan><tspan x="121.3" textLength="10.7" lengthAdjust="spacingAndGlyphs">″</tspan></text>
<text transform="translate(1685.7,1354.8) scale(0.6441,1)" font-family='"Liberation Serif","Noto Serif CJK SC",serif' font-size="20.92" font-weight="bold" stroke="#000" stroke-width="0.3" fill="#000"><tspan x="0.3 11.3 24">0J-</tspan><tspan x="33.2" textLength="10.7" lengthAdjust="spacingAndGlyphs">S</tspan><tspan x="44.2" textLength="10.7" lengthAdjust="spacingAndGlyphs">n</tspan><tspan x="57.1">-</tspan><tspan x="66.2" textLength="10.7" lengthAdjust="spacingAndGlyphs" stroke="#000" stroke-width="0.71">A</tspan><tspan x="77.2" textLength="10.7" lengthAdjust="spacingAndGlyphs">u</tspan><tspan x="91 99.4 110.4"> 50</tspan><tspan x="121.3" textLength="10.7" lengthAdjust="spacingAndGlyphs">u</tspan><tspan x="132.3" textLength="10.7" lengthAdjust="spacingAndGlyphs">″</tspan></text>
<text transform="translate(1792.7,1354.8) scale(0.6441,1)" font-family='"Liberation Serif","Noto Serif CJK SC",serif' font-size="20.92" font-weight="bold" stroke="#000" stroke-width="0.3" fill="#000"><tspan x="0.3 11.3 24">5J-</tspan><tspan x="33.2" textLength="10.7" lengthAdjust="spacingAndGlyphs" stroke="#000" stroke-width="0.71">A</tspan><tspan x="44.2" textLength="10.7" lengthAdjust="spacingAndGlyphs">u</tspan><tspan x="57.9 66.3 77.3"> 50</tspan><tspan x="88.2" textLength="10.7" lengthAdjust="spacingAndGlyphs">u</tspan><tspan x="99.2" textLength="10.7" lengthAdjust="spacingAndGlyphs">″</tspan></text>
<line x1="1821" y1="1312.9" x2="1821" y2="1333" stroke-width="2" stroke-dasharray="3.4 1.8"/>
<circle cx="1886.1" cy="1198.4" r="8.2" stroke-width="1.2" fill="none"/>
<text transform="translate(1886.1,1203.7) scale(0.72,1)" font-family='"Liberation Serif","Noto Serif CJK SC",serif' font-size="16.03" font-weight="bold" text-anchor="middle" stroke="none" fill="#000" >8</text>
<text transform="translate(1898.1,1205.1) scale(0.6441,1)" font-family='"Liberation Serif","Noto Serif CJK SC",serif' font-size="20.92" font-weight="bold" stroke="#000" stroke-width="0.3" fill="#000"><tspan x="0.2" textLength="10.7" lengthAdjust="spacingAndGlyphs" stroke="#000" stroke-width="0.71">R</tspan><tspan x="11.3">o</tspan><tspan x="22.2" textLength="10.7" lengthAdjust="spacingAndGlyphs" stroke="#000" stroke-width="0.82">H</tspan><tspan x="33.2" textLength="10.7" lengthAdjust="spacingAndGlyphs">S</tspan><tspan x="46.9"> </tspan><tspan x="55.2" textLength="10.7" lengthAdjust="spacingAndGlyphs" stroke="#000" stroke-width="0.71">R</tspan><tspan x="66.9">e</tspan><tspan x="77.2" textLength="10.7" lengthAdjust="spacingAndGlyphs">q</tspan><tspan x="88.2" textLength="10.7" lengthAdjust="spacingAndGlyphs">u</tspan><tspan x="99.9 111.5">es</tspan><tspan x="123" textLength="7.3" lengthAdjust="spacingAndGlyphs">t</tspan><tspan x="134.1">:</tspan></text>
<text transform="translate(1898.1,1228.8) scale(0.6441,1)" font-family='"Liberation Serif","Noto Serif CJK SC",serif' font-size="20.92" font-weight="bold" stroke="#000" stroke-width="0.3" fill="#000"><tspan x="0.3 13">0:</tspan><tspan x="22.2" textLength="10.7" lengthAdjust="spacingAndGlyphs" stroke="#000" stroke-width="0.71">N</tspan><tspan x="33.3 46.9">o </tspan><tspan x="55.2" textLength="10.7" lengthAdjust="spacingAndGlyphs" stroke="#000" stroke-width="0.71">R</tspan><tspan x="66.9">e</tspan><tspan x="77.2" textLength="10.7" lengthAdjust="spacingAndGlyphs">q</tspan><tspan x="88.2" textLength="10.7" lengthAdjust="spacingAndGlyphs">u</tspan><tspan x="99.9 111.5">es</tspan><tspan x="123" textLength="7.3" lengthAdjust="spacingAndGlyphs">t</tspan></text>
<text transform="translate(1898.1,1252.5) scale(0.6441,1)" font-family='"Liberation Serif","Noto Serif CJK SC",serif' font-size="20.92" font-weight="bold" stroke="#000" stroke-width="0.3" fill="#000"><tspan x="0.3 13">1:</tspan><tspan x="22.2" textLength="10.7" lengthAdjust="spacingAndGlyphs" stroke="#000" stroke-width="0.71">R</tspan><tspan x="33.3">o</tspan><tspan x="44.2" textLength="10.7" lengthAdjust="spacingAndGlyphs" stroke="#000" stroke-width="0.82">H</tspan><tspan x="55.2" textLength="10.7" lengthAdjust="spacingAndGlyphs">S</tspan></text>
<text transform="translate(1898.1,1276.2) scale(0.6441,1)" font-family='"Liberation Serif","Noto Serif CJK SC",serif' font-size="20.92" font-weight="bold" stroke="#000" stroke-width="0.3" fill="#000"><tspan x="0.3 13">2:</tspan><tspan x="22.2" textLength="10.7" lengthAdjust="spacingAndGlyphs" stroke="#000" stroke-width="0.82">H</tspan><tspan x="33.2" textLength="10.7" lengthAdjust="spacingAndGlyphs">F</tspan><tspan x="46.1">(</tspan><tspan x="55.2" textLength="10.7" lengthAdjust="spacingAndGlyphs" stroke="#000" stroke-width="0.82">H</tspan><tspan x="66.3">a</tspan><tspan x="78.9" textLength="7.3" lengthAdjust="spacingAndGlyphs">l</tspan><tspan x="88.3 99.4 110.9">oge</tspan><tspan x="121.3" textLength="10.7" lengthAdjust="spacingAndGlyphs">n</tspan><tspan x="135"> </tspan><tspan x="143.3" textLength="10.7" lengthAdjust="spacingAndGlyphs">F</tspan><tspan x="155 166 177 189.2">ree)</tspan></text>
<circle cx="2040.9" cy="1198.4" r="8.2" stroke-width="1.2" fill="none"/>
<text transform="translate(2040.9,1203.7) scale(0.72,1)" font-family='"Liberation Serif","Noto Serif CJK SC",serif' font-size="16.03" font-weight="bold" text-anchor="middle" stroke="none" fill="#000" >9</text>
<text transform="translate(2054.9,1205.1) scale(0.6441,1)" font-family='"Liberation Serif","Noto Serif CJK SC",serif' font-size="20.92" font-weight="bold" stroke="#000" stroke-width="0.3" fill="#000"><tspan x="0.2" textLength="10.7" lengthAdjust="spacingAndGlyphs" stroke="#000" stroke-width="0.71">C</tspan><tspan x="11.2" textLength="10.7" lengthAdjust="spacingAndGlyphs">u</tspan><tspan x="23.5">s</tspan><tspan x="34.9" textLength="7.3" lengthAdjust="spacingAndGlyphs">t</tspan><tspan x="44.3">o</tspan><tspan x="55.2" textLength="10.7" lengthAdjust="spacingAndGlyphs" stroke="#000" stroke-width="0.92">m</tspan><tspan x="66.9 77.9 91">er </tspan><tspan x="99.2" textLength="10.7" lengthAdjust="spacingAndGlyphs" stroke="#000" stroke-width="0.71">C</tspan><tspan x="110.4">o</tspan><tspan x="121.3" textLength="10.7" lengthAdjust="spacingAndGlyphs">d</tspan><tspan x="133">e</tspan></text>
<line x1="79.4" y1="1371.5" x2="2258.7" y2="1371.5" stroke-width="3" />
<line x1="165.5" y1="1371.4" x2="165.5" y2="1584" stroke-width="3" />
<line x1="540.5" y1="1371.4" x2="540.5" y2="1584" stroke-width="3" />
<line x1="670.5" y1="1371.4" x2="670.5" y2="1584" stroke-width="3" />
<line x1="785.5" y1="1371.4" x2="785.5" y2="1584" stroke-width="3" />
<line x1="1047.5" y1="1371.4" x2="1047.5" y2="1584" stroke-width="3" />
<line x1="1278.5" y1="1371.4" x2="1278.5" y2="1584" stroke-width="3" />
<line x1="1400.5" y1="1371.4" x2="1400.5" y2="1584" stroke-width="3" />
<line x1="1912.5" y1="1371.4" x2="1912.5" y2="1584" stroke-width="3" />
<line x1="1154.5" y1="1371.4" x2="1154.5" y2="1584" stroke-width="1.2" />
<line x1="79.4" y1="1413" x2="670.7" y2="1413" stroke-width="3.7" />
<line x1="79.4" y1="1455.5" x2="670.7" y2="1455.5" stroke-width="3" />
<line x1="79.4" y1="1498.5" x2="670.7" y2="1498.5" stroke-width="3" />
<line x1="79.4" y1="1542" x2="670.7" y2="1542" stroke-width="3.6" />
<line x1="670.7" y1="1499.5" x2="1047.7" y2="1499.5" stroke-width="3" />
<line x1="670.7" y1="1541.5" x2="1047.7" y2="1541.5" stroke-width="3" />
<line x1="785.4" y1="1413.5" x2="1047.7" y2="1413.5" stroke-width="3" />
<line x1="785.4" y1="1456.5" x2="1047.7" y2="1456.5" stroke-width="3" />
<line x1="926.5" y1="1413.5" x2="926.5" y2="1584" stroke-width="3" />
<line x1="1047.7" y1="1424.5" x2="1400" y2="1424.5" stroke-width="3" />
<line x1="1047.7" y1="1477.5" x2="1400" y2="1477.5" stroke-width="3" />
<line x1="1047.7" y1="1531.5" x2="1400" y2="1531.5" stroke-width="3" />
<line x1="1400" y1="1499.5" x2="1912.6" y2="1499.5" stroke-width="3" />
<line x1="1912.6" y1="1456.5" x2="2258.7" y2="1456.5" stroke-width="3" />
<line x1="1912.6" y1="1542.5" x2="2258.7" y2="1542.5" stroke-width="3" />
<line x1="2085.5" y1="1542.1" x2="2085.5" y2="1584" stroke-width="3" />
<circle cx="708" cy="1432.2" r="12.6" stroke-width="1.7" fill="none"/>
<circle cx="708" cy="1432.2" r="5.6" stroke-width="1.7" fill="none"/>
<line x1="690.3" y1="1432.5" x2="725.7" y2="1432.5" stroke-width="1.2" />
<line x1="708.5" y1="1414.5" x2="708.5" y2="1449.9" stroke-width="1.2" />
<path d="M736.8,1423 L768,1417.3 L768,1446.8 L736.8,1440.2 Z" stroke-width="1.7" fill="none" />
<line x1="731.7" y1="1432.5" x2="772.5" y2="1432.5" stroke-width="1.2" stroke-dasharray="12 3 4 3"/>
<text transform="translate(105.6,1534.2) scale(1.0762,1)" font-family='"Liberation Serif","Noto Serif CJK SC",serif' font-size="24.27" stroke="none" fill="#000"><tspan x="0.2" textLength="12.4" lengthAdjust="spacingAndGlyphs" stroke="#000" stroke-width="0.18">A</tspan><tspan x="13.1">0</tspan></text>
<text x="288" y="1533.2" font-family='"Liberation Serif","Noto Serif CJK SC",serif' font-size="24.80" textLength="124.2" lengthAdjust="spacing" stroke="none" fill="#000" >新图面发行</text>
<text transform="translate(543.8,1532) scale(0.9139,1)" font-family='"Liberation Serif","Noto Serif CJK SC",serif' font-size="25.65" stroke="none" fill="#000"><tspan x="0.3 13.8 27.3 40.8 57.5 67.8 81.3 98 108.3 121.8">2017.06.16</tspan></text>
<text transform="translate(100.7,1570.8) scale(0.8361,1)" font-family='"Liberation Serif","Noto Serif CJK SC",serif' font-size="22.90" stroke="none" fill="#000"><tspan x="0.2" textLength="11.7" lengthAdjust="spacingAndGlyphs" stroke="#000" stroke-width="0.13">R</tspan><tspan x="12.2" textLength="11.7" lengthAdjust="spacingAndGlyphs">E</tspan><tspan x="24.3" textLength="11.7" lengthAdjust="spacingAndGlyphs" stroke="#000" stroke-width="0.18">V</tspan><tspan x="39.3">.</tspan></text>
<text transform="translate(270.4,1570.8) scale(0.9124,1)" font-family='"Liberation Serif","Noto Serif CJK SC",serif' font-size="22.90" stroke="none" fill="#000"><tspan x="0.2" textLength="11.7" lengthAdjust="spacingAndGlyphs" stroke="#000" stroke-width="0.13">R</tspan><tspan x="12.2" textLength="11.7" lengthAdjust="spacingAndGlyphs">E</tspan><tspan x="24.3" textLength="11.7" lengthAdjust="spacingAndGlyphs" stroke="#000" stroke-width="0.18">V</tspan><tspan x="38.2" textLength="8" lengthAdjust="spacingAndGlyphs">I</tspan><tspan x="48.4" textLength="11.7" lengthAdjust="spacingAndGlyphs">S</tspan><tspan x="62.3" textLength="8" lengthAdjust="spacingAndGlyphs">I</tspan><tspan x="72.5" textLength="11.7" lengthAdjust="spacingAndGlyphs" stroke="#000" stroke-width="0.18">O</tspan><tspan x="84.6" textLength="11.7" lengthAdjust="spacingAndGlyphs" stroke="#000" stroke-width="0.18">N</tspan><tspan x="99.6"> </tspan><tspan x="108.7" textLength="11.7" lengthAdjust="spacingAndGlyphs" stroke="#000" stroke-width="0.13">R</tspan><tspan x="120.7" textLength="11.7" lengthAdjust="spacingAndGlyphs">E</tspan><tspan x="132.8" textLength="11.7" lengthAdjust="spacingAndGlyphs" stroke="#000" stroke-width="0.13">C</tspan><tspan x="144.8" textLength="11.7" lengthAdjust="spacingAndGlyphs" stroke="#000" stroke-width="0.18">O</tspan><tspan x="156.9" textLength="11.7" lengthAdjust="spacingAndGlyphs" stroke="#000" stroke-width="0.13">R</tspan><tspan x="168.9" textLength="11.7" lengthAdjust="spacingAndGlyphs" stroke="#000" stroke-width="0.18">D</tspan></text>
<text transform="translate(582.9,1570.8) scale(0.9355,1)" font-family='"Liberation Serif","Noto Serif CJK SC",serif' font-size="22.90" stroke="none" fill="#000"><tspan x="0.2" textLength="11.7" lengthAdjust="spacingAndGlyphs" stroke="#000" stroke-width="0.18">D</tspan><tspan x="12.2" textLength="11.7" lengthAdjust="spacingAndGlyphs" stroke="#000" stroke-width="0.18">A</tspan><tspan x="24.3" textLength="11.7" lengthAdjust="spacingAndGlyphs">T</tspan><tspan x="36.3" textLength="11.7" lengthAdjust="spacingAndGlyphs">E</tspan></text>
<text transform="translate(821.6,1400.3) scale(0.8897,1)" font-family='"Liberation Serif","Noto Serif CJK SC",serif' font-size="22.29" stroke="none" fill="#000"><tspan x="0.2" textLength="11.4" lengthAdjust="spacingAndGlyphs" stroke="#000" stroke-width="0.18">G</tspan><tspan x="11.9" textLength="11.4" lengthAdjust="spacingAndGlyphs">E</tspan><tspan x="23.6" textLength="11.4" lengthAdjust="spacingAndGlyphs" stroke="#000" stroke-width="0.18">N</tspan><tspan x="35.4" textLength="11.4" lengthAdjust="spacingAndGlyphs">E</tspan><tspan x="47.1" textLength="11.4" lengthAdjust="spacingAndGlyphs" stroke="#000" stroke-width="0.13">R</tspan><tspan x="58.8" textLength="11.4" lengthAdjust="spacingAndGlyphs" stroke="#000" stroke-width="0.18">A</tspan><tspan x="70.6" textLength="11.4" lengthAdjust="spacingAndGlyphs">L</tspan><tspan x="85.2"> </tspan><tspan x="94" textLength="11.4" lengthAdjust="spacingAndGlyphs">T</tspan><tspan x="105.8" textLength="11.4" lengthAdjust="spacingAndGlyphs" stroke="#000" stroke-width="0.18">O</tspan><tspan x="117.5" textLength="11.4" lengthAdjust="spacingAndGlyphs">L</tspan><tspan x="129.2" textLength="11.4" lengthAdjust="spacingAndGlyphs">E</tspan><tspan x="141" textLength="11.4" lengthAdjust="spacingAndGlyphs" stroke="#000" stroke-width="0.13">R</tspan><tspan x="152.7" textLength="11.4" lengthAdjust="spacingAndGlyphs" stroke="#000" stroke-width="0.18">A</tspan><tspan x="164.4" textLength="11.4" lengthAdjust="spacingAndGlyphs" stroke="#000" stroke-width="0.18">N</tspan><tspan x="176.2" textLength="11.4" lengthAdjust="spacingAndGlyphs" stroke="#000" stroke-width="0.13">C</tspan><tspan x="187.9" textLength="11.4" lengthAdjust="spacingAndGlyphs">E</tspan><tspan x="199.6" textLength="11.4" lengthAdjust="spacingAndGlyphs">S</tspan></text>
<text transform="translate(822.6,1442.4) scale(0.8830,1)" font-family='"Liberation Serif","Noto Serif CJK SC",serif' font-size="22.29" stroke="none" fill="#000"><tspan x="0.2" textLength="11.4" lengthAdjust="spacingAndGlyphs">L</tspan><tspan x="13.7" textLength="7.7" lengthAdjust="spacingAndGlyphs">I</tspan><tspan x="23.6" textLength="11.4" lengthAdjust="spacingAndGlyphs" stroke="#000" stroke-width="0.18">N</tspan><tspan x="35.4" textLength="11.4" lengthAdjust="spacingAndGlyphs">E</tspan><tspan x="47.1" textLength="11.4" lengthAdjust="spacingAndGlyphs" stroke="#000" stroke-width="0.18">A</tspan><tspan x="58.8" textLength="11.4" lengthAdjust="spacingAndGlyphs" stroke="#000" stroke-width="0.13">R</tspan></text>
<text transform="translate(955.2,1442.4) scale(0.9020,1)" font-family='"Liberation Serif","Noto Serif CJK SC",serif' font-size="22.29" stroke="none" fill="#000"><tspan x="0.2" textLength="11.4" lengthAdjust="spacingAndGlyphs" stroke="#000" stroke-width="0.18">A</tspan><tspan x="11.9" textLength="11.4" lengthAdjust="spacingAndGlyphs" stroke="#000" stroke-width="0.18">N</tspan><tspan x="23.6" textLength="11.4" lengthAdjust="spacingAndGlyphs" stroke="#000" stroke-width="0.18">G</tspan><tspan x="35.4" textLength="11.4" lengthAdjust="spacingAndGlyphs">L</tspan><tspan x="47.1" textLength="11.4" lengthAdjust="spacingAndGlyphs">E</tspan><tspan x="58.8" textLength="11.4" lengthAdjust="spacingAndGlyphs">S</tspan></text>
<text transform="translate(803.1,1485.2) scale(0.8865,1)" font-family='"Liberation Serif","Noto Serif CJK SC",serif' font-size="23.66" stroke="none" fill="#000"><tspan x="0.3 15.7 25.2">0.0</tspan><tspan x="41.1" textLength="17.4" lengthAdjust="spacingAndGlyphs">±</tspan><tspan x="62.6 78 87.5 99.9">0.25</tspan></text>
<text transform="translate(934.7,1482.5) scale(0.8731,1)" font-family='"Liberation Serif","Noto Serif CJK SC",serif' font-size="23.66" stroke="none" fill="#000"><tspan x="0.2" textLength="12.1" lengthAdjust="spacingAndGlyphs" stroke="#000" stroke-width="0.18">X</tspan><tspan x="14 28.2">° </tspan><tspan x="37.6" textLength="12.1" lengthAdjust="spacingAndGlyphs" stroke="#000" stroke-width="0.13">R</tspan><tspan x="50" textLength="12.1" lengthAdjust="spacingAndGlyphs">E</tspan><tspan x="62.5" textLength="12.1" lengthAdjust="spacingAndGlyphs">F</tspan><tspan x="78.5" textLength="17.4" lengthAdjust="spacingAndGlyphs">±</tspan><tspan x="99.9 113.6">6°</tspan></text>
<text transform="translate(679.1,1528.4) scale(0.9418,1)" font-family='"Liberation Serif","Noto Serif CJK SC",serif' font-size="22.90" stroke="none" fill="#000"><tspan x="0.2" textLength="11.7" lengthAdjust="spacingAndGlyphs" stroke="#000" stroke-width="0.18">U</tspan><tspan x="12.2" textLength="11.7" lengthAdjust="spacingAndGlyphs" stroke="#000" stroke-width="0.18">N</tspan><tspan x="26.2" textLength="8" lengthAdjust="spacingAndGlyphs">I</tspan><tspan x="36.3" textLength="11.7" lengthAdjust="spacingAndGlyphs">T</tspan><tspan x="51.1 63.4">: </tspan><tspan x="72.5" textLength="11.7" lengthAdjust="spacingAndGlyphs" stroke="#000" stroke-width="0.32">M</tspan><tspan x="84.6" textLength="11.7" lengthAdjust="spacingAndGlyphs" stroke="#000" stroke-width="0.32">M</tspan></text>
<text transform="translate(798.1,1530) scale(0.8845,1)" font-family='"Liberation Serif","Noto Serif CJK SC",serif' font-size="23.66" stroke="none" fill="#000"><tspan x="0.3 15.7 25.2 37.7">0.00</tspan><tspan x="53.6" textLength="17.4" lengthAdjust="spacingAndGlyphs">±</tspan><tspan x="75 90.5 99.9 112.4">0.15</tspan></text>
<text transform="translate(946.5,1527.3) scale(0.8780,1)" font-family='"Liberation Serif","Noto Serif CJK SC",serif' font-size="23.66" stroke="none" fill="#000"><tspan x="0.2" textLength="12.1" lengthAdjust="spacingAndGlyphs" stroke="#000" stroke-width="0.18">X</tspan><tspan x="14 28.2">° </tspan><tspan x="41.1" textLength="17.4" lengthAdjust="spacingAndGlyphs">±</tspan><tspan x="62.6 76.2">3°</tspan></text>
<text transform="translate(679.1,1571.5) scale(0.9418,1)" font-family='"Liberation Serif","Noto Serif CJK SC",serif' font-size="22.90" stroke="none" fill="#000"><tspan x="0.2" textLength="11.7" lengthAdjust="spacingAndGlyphs">S</tspan><tspan x="14.1" textLength="8" lengthAdjust="spacingAndGlyphs">I</tspan><tspan x="24.3" textLength="11.7" lengthAdjust="spacingAndGlyphs">Z</tspan><tspan x="36.3" textLength="11.7" lengthAdjust="spacingAndGlyphs">E</tspan><tspan x="51.1 63.4">: </tspan><tspan x="72.5" textLength="11.7" lengthAdjust="spacingAndGlyphs" stroke="#000" stroke-width="0.18">A</tspan><tspan x="84.7">4</tspan></text>
<text transform="translate(793,1572.5) scale(0.8859,1)" font-family='"Liberation Serif","Noto Serif CJK SC",serif' font-size="23.66" stroke="none" fill="#000"><tspan x="0.3 15.7 25.2 37.7 50.1">0.000</tspan><tspan x="66" textLength="17.4" lengthAdjust="spacingAndGlyphs">±</tspan><tspan x="87.5 102.9 112.4 124.9">0.08</tspan></text>
<text transform="translate(946.6,1569) scale(0.8247,1)" font-family='"Liberation Serif","Noto Serif CJK SC",serif' font-size="23.66" stroke="none" fill="#000"><tspan x="0.2" textLength="12.1" lengthAdjust="spacingAndGlyphs" stroke="#000" stroke-width="0.18">X</tspan><tspan x="14 28.2">° </tspan><tspan x="37.6" textLength="12.1" lengthAdjust="spacingAndGlyphs" stroke="#000" stroke-width="0.18">X</tspan><tspan x="53.9">'</tspan><tspan x="66" textLength="17.4" lengthAdjust="spacingAndGlyphs">±</tspan><tspan x="87.5 101.1">2°</tspan></text>
<text transform="translate(1051.9,1394.2) scale(0.9163,1)" font-family='"Liberation Serif","Noto Serif CJK SC",serif' font-size="22.90" stroke="none" fill="#000"><tspan x="0.2" textLength="11.7" lengthAdjust="spacingAndGlyphs">S</tspan><tspan x="12.2" textLength="11.7" lengthAdjust="spacingAndGlyphs" stroke="#000" stroke-width="0.13">C</tspan><tspan x="24.3" textLength="11.7" lengthAdjust="spacingAndGlyphs" stroke="#000" stroke-width="0.18">A</tspan><tspan x="36.3" textLength="11.7" lengthAdjust="spacingAndGlyphs">L</tspan><tspan x="48.4" textLength="11.7" lengthAdjust="spacingAndGlyphs">E</tspan><tspan x="63.1">:</tspan></text>
<text transform="translate(1108.6,1418) scale(0.9202,1)" font-family='"Liberation Serif","Noto Serif CJK SC",serif' font-size="22.90" stroke="none" fill="#000"><tspan x="0.3 14.9 24.4">1:1</tspan></text>
<text transform="translate(1194.5,1405.4) scale(0.9550,1)" font-family='"Liberation Serif","Noto Serif CJK SC",serif' font-size="22.90" stroke="none" fill="#000"><tspan x="0.2" textLength="11.7" lengthAdjust="spacingAndGlyphs" stroke="#000" stroke-width="0.18">N</tspan><tspan x="12.2" textLength="11.7" lengthAdjust="spacingAndGlyphs" stroke="#000" stroke-width="0.18">A</tspan><tspan x="24.3" textLength="11.7" lengthAdjust="spacingAndGlyphs" stroke="#000" stroke-width="0.32">M</tspan><tspan x="36.3" textLength="11.7" lengthAdjust="spacingAndGlyphs">E</tspan></text>
<text transform="translate(1316.8,1406) scale(0.9550,1)" font-family='"Liberation Serif","Noto Serif CJK SC",serif' font-size="22.90" stroke="none" fill="#000"><tspan x="0.2" textLength="11.7" lengthAdjust="spacingAndGlyphs" stroke="#000" stroke-width="0.18">D</tspan><tspan x="12.2" textLength="11.7" lengthAdjust="spacingAndGlyphs" stroke="#000" stroke-width="0.18">A</tspan><tspan x="24.3" textLength="11.7" lengthAdjust="spacingAndGlyphs">T</tspan><tspan x="36.3" textLength="11.7" lengthAdjust="spacingAndGlyphs">E</tspan></text>
<text transform="translate(1059.3,1458.7) scale(0.8981,1)" font-family='"Liberation Serif","Noto Serif CJK SC",serif' font-size="23.66" stroke="none" fill="#000"><tspan x="0.2" textLength="12.1" lengthAdjust="spacingAndGlyphs" stroke="#000" stroke-width="0.18">A</tspan><tspan x="12.6" textLength="12.1" lengthAdjust="spacingAndGlyphs">P</tspan><tspan x="25.1" textLength="12.1" lengthAdjust="spacingAndGlyphs">P</tspan><tspan x="37.6" textLength="12.1" lengthAdjust="spacingAndGlyphs" stroke="#000" stroke-width="0.13">R</tspan><tspan x="50" textLength="12.1" lengthAdjust="spacingAndGlyphs" stroke="#000" stroke-width="0.18">O</tspan><tspan x="62.5" textLength="12.1" lengthAdjust="spacingAndGlyphs" stroke="#000" stroke-width="0.18">V</tspan><tspan x="74.9" textLength="12.1" lengthAdjust="spacingAndGlyphs">E</tspan><tspan x="87.4" textLength="12.1" lengthAdjust="spacingAndGlyphs" stroke="#000" stroke-width="0.18">D</tspan></text>
<text transform="translate(1058.7,1512.4) scale(0.9043,1)" font-family='"Liberation Serif","Noto Serif CJK SC",serif' font-size="23.66" stroke="none" fill="#000"><tspan x="0.2" textLength="12.1" lengthAdjust="spacingAndGlyphs" stroke="#000" stroke-width="0.18">D</tspan><tspan x="12.6" textLength="12.1" lengthAdjust="spacingAndGlyphs">E</tspan><tspan x="25.1" textLength="12.1" lengthAdjust="spacingAndGlyphs">S</tspan><tspan x="39.5" textLength="8.2" lengthAdjust="spacingAndGlyphs">I</tspan><tspan x="50" textLength="12.1" lengthAdjust="spacingAndGlyphs" stroke="#000" stroke-width="0.18">G</tspan><tspan x="62.5" textLength="12.1" lengthAdjust="spacingAndGlyphs" stroke="#000" stroke-width="0.18">N</tspan><tspan x="74.9" textLength="12.1" lengthAdjust="spacingAndGlyphs">E</tspan><tspan x="87.4" textLength="12.1" lengthAdjust="spacingAndGlyphs" stroke="#000" stroke-width="0.13">R</tspan></text>
<text transform="translate(1075,1565.7) scale(0.9124,1)" font-family='"Liberation Serif","Noto Serif CJK SC",serif' font-size="23.66" stroke="none" fill="#000"><tspan x="0.2" textLength="12.1" lengthAdjust="spacingAndGlyphs" stroke="#000" stroke-width="0.18">D</tspan><tspan x="12.6" textLength="12.1" lengthAdjust="spacingAndGlyphs" stroke="#000" stroke-width="0.13">R</tspan><tspan x="25.1" textLength="12.1" lengthAdjust="spacingAndGlyphs" stroke="#000" stroke-width="0.18">A</tspan><tspan x="37.6" textLength="12.1" lengthAdjust="spacingAndGlyphs" stroke="#000" stroke-width="0.35">W</tspan><tspan x="50" textLength="12.1" lengthAdjust="spacingAndGlyphs" stroke="#000" stroke-width="0.18">N</tspan></text>
<text x="1190.3" y="1453.5" font-family='"Liberation Serif","Noto Serif CJK SC",serif' font-size="24.20" textLength="48.3" lengthAdjust="spacing" stroke="none" fill="#000" >黎腾</text>
<text x="1180.2" y="1509.3" font-family='"Liberation Serif","Noto Serif CJK SC",serif' font-size="23.80" textLength="71.3" lengthAdjust="spacing" stroke="none" fill="#000" >肖坤权</text>
<text x="1190.3" y="1565.3" font-family='"Liberation Serif","Noto Serif CJK SC",serif' font-size="24.20" textLength="49.3" lengthAdjust="spacing" stroke="none" fill="#000" >旷淇</text>
<text transform="translate(1282.9,1454.3) scale(0.8439,1)" font-family='"Liberation Serif","Noto Serif CJK SC",serif' font-size="25.65" stroke="none" fill="#000"><tspan x="0.3 13.8 27.3 40.8 57.5 67.8 81.3 98 108.3 121.8">2017.06.16</tspan></text>
<text transform="translate(1282.9,1512.4) scale(0.8439,1)" font-family='"Liberation Serif","Noto Serif CJK SC",serif' font-size="25.65" stroke="none" fill="#000"><tspan x="0.3 13.8 27.3 40.8 57.5 67.8 81.3 98 108.3 121.8">2017.06.16</tspan></text>
<text transform="translate(1282.9,1563.3) scale(0.8439,1)" font-family='"Liberation Serif","Noto Serif CJK SC",serif' font-size="25.65" stroke="none" fill="#000"><tspan x="0.3 13.8 27.3 40.8 57.5 67.8 81.3 98 108.3 121.8">2017.06.16</tspan></text>
<text transform="translate(1915.9,1405.1) scale(0.8684,1)" font-family='"Liberation Serif","Noto Serif CJK SC",serif' font-size="23.66" stroke="none" fill="#000"><tspan x="0.2" textLength="12.1" lengthAdjust="spacingAndGlyphs">P</tspan><tspan x="12.6" textLength="12.1" lengthAdjust="spacingAndGlyphs" stroke="#000" stroke-width="0.18">A</tspan><tspan x="25.1" textLength="12.1" lengthAdjust="spacingAndGlyphs" stroke="#000" stroke-width="0.13">R</tspan><tspan x="37.6" textLength="12.1" lengthAdjust="spacingAndGlyphs">T</tspan><tspan x="53.1">.</tspan><tspan x="62.5" textLength="12.1" lengthAdjust="spacingAndGlyphs" stroke="#000" stroke-width="0.18">N</tspan><tspan x="74.9" textLength="12.1" lengthAdjust="spacingAndGlyphs" stroke="#000" stroke-width="0.18">O</tspan><tspan x="90.1">:</tspan></text>
<text transform="translate(2018.6,1441.9) scale(0.9370,1)" font-family='"Liberation Serif","Noto Serif CJK SC",serif' font-size="31.91" stroke="none" fill="#000"><tspan x="0.3" textLength="16.3" lengthAdjust="spacingAndGlyphs" stroke="#000" stroke-width="0.18">K</tspan><tspan x="17" textLength="16.3" lengthAdjust="spacingAndGlyphs" stroke="#000" stroke-width="0.18">D</tspan><tspan x="33.8" textLength="16.3" lengthAdjust="spacingAndGlyphs">P</tspan><tspan x="50.6" textLength="16.3" lengthAdjust="spacingAndGlyphs" stroke="#000" stroke-width="0.18">H</tspan><tspan x="70.3 84.4 101.2 118 134.8">-0043</tspan></text>
<text transform="translate(1920,1490.8) scale(0.8827,1)" font-family='"Liberation Serif","Noto Serif CJK SC",serif' font-size="23.66" stroke="none" fill="#000"><tspan x="0.2" textLength="12.1" lengthAdjust="spacingAndGlyphs" stroke="#000" stroke-width="0.18">D</tspan><tspan x="12.6" textLength="12.1" lengthAdjust="spacingAndGlyphs" stroke="#000" stroke-width="0.35">W</tspan><tspan x="25.1" textLength="12.1" lengthAdjust="spacingAndGlyphs" stroke="#000" stroke-width="0.18">G</tspan><tspan x="40.6">.</tspan><tspan x="50" textLength="12.1" lengthAdjust="spacingAndGlyphs" stroke="#000" stroke-width="0.18">N</tspan><tspan x="62.5" textLength="12.1" lengthAdjust="spacingAndGlyphs" stroke="#000" stroke-width="0.18">O</tspan><tspan x="77.7">:</tspan></text>
<text transform="translate(2018.6,1526.3) scale(0.9350,1)" font-family='"Liberation Serif","Noto Serif CJK SC",serif' font-size="32.06" stroke="none" fill="#000"><tspan x="0.3" textLength="16.4" lengthAdjust="spacingAndGlyphs">E</tspan><tspan x="17.1" textLength="16.4" lengthAdjust="spacingAndGlyphs" stroke="#000" stroke-width="0.18">N</tspan><tspan x="34" textLength="16.4" lengthAdjust="spacingAndGlyphs" stroke="#000" stroke-width="0.18">D</tspan><tspan x="50.9" textLength="16.4" lengthAdjust="spacingAndGlyphs">E</tspan><tspan x="67.9 84.8 101.7 118.5">0043</tspan></text>
<text transform="translate(1922.1,1565.1) scale(0.9031,1)" font-family='"Liberation Serif","Noto Serif CJK SC",serif' font-size="22.90" stroke="none" fill="#000"><tspan x="0.2" textLength="11.7" lengthAdjust="spacingAndGlyphs" stroke="#000" stroke-width="0.13">R</tspan><tspan x="12.2" textLength="11.7" lengthAdjust="spacingAndGlyphs">E</tspan><tspan x="24.3" textLength="11.7" lengthAdjust="spacingAndGlyphs" stroke="#000" stroke-width="0.18">V</tspan><tspan x="39">:</tspan></text>
<text transform="translate(2013.5,1572.6) scale(1.0081,1)" font-family='"Liberation Serif","Noto Serif CJK SC",serif' font-size="32.06" stroke="none" fill="#000"><tspan x="0.3" textLength="16.4" lengthAdjust="spacingAndGlyphs" stroke="#000" stroke-width="0.18">A</tspan><tspan x="17.3">0</tspan></text>
<text transform="translate(2094.2,1566.4) scale(0.9078,1)" font-family='"Liberation Serif","Noto Serif CJK SC",serif' font-size="22.90" stroke="none" fill="#000"><tspan x="0.2" textLength="11.7" lengthAdjust="spacingAndGlyphs">S</tspan><tspan x="12.2" textLength="11.7" lengthAdjust="spacingAndGlyphs" stroke="#000" stroke-width="0.18">H</tspan><tspan x="24.3" textLength="11.7" lengthAdjust="spacingAndGlyphs">E</tspan><tspan x="36.3" textLength="11.7" lengthAdjust="spacingAndGlyphs">E</tspan><tspan x="48.4" textLength="11.7" lengthAdjust="spacingAndGlyphs">T</tspan><tspan x="63.1">:</tspan></text>
<text transform="translate(2187.1,1572.6) scale(0.8701,1)" font-family='"Liberation Serif","Noto Serif CJK SC",serif' font-size="32.06" stroke="none" fill="#000"><tspan x="0.4 20.9 34.2">1/1</tspan></text>
<text transform="translate(1409.1,1522.5) scale(0.9742,1)" font-family='"Liberation Serif","Noto Serif CJK SC",serif' font-size="21.37" stroke="none" fill="#000"><tspan x="0.2" textLength="10.9" lengthAdjust="spacingAndGlyphs">T</tspan><tspan x="13.2" textLength="7.4" lengthAdjust="spacingAndGlyphs">I</tspan><tspan x="22.7" textLength="10.9" lengthAdjust="spacingAndGlyphs">T</tspan><tspan x="33.9" textLength="10.9" lengthAdjust="spacingAndGlyphs">L</tspan><tspan x="45.2" textLength="10.9" lengthAdjust="spacingAndGlyphs">E</tspan><tspan x="58.9">:</tspan></text>
<text transform="translate(1428.3,1545) scale(0.9405,1)" font-family='"Liberation Serif","Noto Serif CJK SC",serif' font-size="24.89" stroke="none" fill="#000"><tspan x="0.3 16.5 26.5 39.6 52.7 65.8 82 92 105.1">1.27*2.54</tspan><tspan x="118.1" textLength="12.7" lengthAdjust="spacingAndGlyphs" stroke="#000" stroke-width="0.23">m</tspan><tspan x="131.2" textLength="12.7" lengthAdjust="spacingAndGlyphs" stroke="#000" stroke-width="0.23">m</tspan><tspan x="147.5"> </tspan><tspan x="157.4" textLength="12.7" lengthAdjust="spacingAndGlyphs">P</tspan><tspan x="172.5" textLength="8.6" lengthAdjust="spacingAndGlyphs">i</tspan><tspan x="183.7 199.9">n </tspan><tspan x="209.8" textLength="12.7" lengthAdjust="spacingAndGlyphs" stroke="#000" stroke-width="0.18">H</tspan><tspan x="223.7 236.8 249.2 263">eade</tspan><tspan x="277.3" textLength="8.6" lengthAdjust="spacingAndGlyphs">r</tspan><tspan x="291.6">,</tspan><tspan x="301.4" textLength="12.7" lengthAdjust="spacingAndGlyphs" stroke="#000" stroke-width="0.18">D</tspan><tspan x="314.7 328.5">ua</tspan><tspan x="342.8" textLength="8.6" lengthAdjust="spacingAndGlyphs">l</tspan><tspan x="357.1"> </tspan><tspan x="366.9" textLength="12.7" lengthAdjust="spacingAndGlyphs">P</tspan><tspan x="382.1" textLength="8.6" lengthAdjust="spacingAndGlyphs">l</tspan><tspan x="394 407.7">as</tspan><tspan x="421.4" textLength="8.6" lengthAdjust="spacingAndGlyphs">t</tspan><tspan x="434.4" textLength="8.6" lengthAdjust="spacingAndGlyphs">i</tspan><tspan x="446.3 461.9">c,</tspan></text>
<text transform="translate(1493.9,1574.3) scale(0.9538,1)" font-family='"Liberation Serif","Noto Serif CJK SC",serif' font-size="24.89" stroke="none" fill="#000"><tspan x="0.2" textLength="12.7" lengthAdjust="spacingAndGlyphs" stroke="#000" stroke-width="0.18">D</tspan><tspan x="13.4 27.2">ua</tspan><tspan x="41.5" textLength="8.6" lengthAdjust="spacingAndGlyphs">l</tspan><tspan x="55.8"> </tspan><tspan x="65.7" textLength="12.7" lengthAdjust="spacingAndGlyphs" stroke="#000" stroke-width="0.13">R</tspan><tspan x="78.9">o</tspan><tspan x="91.9" textLength="12.7" lengthAdjust="spacingAndGlyphs" stroke="#000" stroke-width="0.18">w</tspan><tspan x="108.2">,</tspan><tspan x="118.1" textLength="12.7" lengthAdjust="spacingAndGlyphs" stroke="#000" stroke-width="0.13">R</tspan><tspan x="133.2" textLength="8.6" lengthAdjust="spacingAndGlyphs">i</tspan><tspan x="144.4 157.5">gh</tspan><tspan x="172.5" textLength="8.6" lengthAdjust="spacingAndGlyphs">t</tspan><tspan x="186.8"> </tspan><tspan x="196.7" textLength="12.7" lengthAdjust="spacingAndGlyphs" stroke="#000" stroke-width="0.18">A</tspan><tspan x="209.9 223">ng</tspan><tspan x="238" textLength="8.6" lengthAdjust="spacingAndGlyphs">l</tspan><tspan x="249.9 265.4">e </tspan><tspan x="275.2" textLength="12.7" lengthAdjust="spacingAndGlyphs">T</tspan><tspan x="288.5 301.6 315.4">ype</tspan></text>
<text transform="translate(1521.8,1424.5) scale(1,1.17)" font-family='"Liberation Sans","Noto Sans CJK SC",sans-serif' font-size="42.5" font-weight="500" fill="#000" stroke="#000" stroke-width="0.9">康</text>
<text transform="translate(1604.3,1424.5) scale(1,1.17)" font-family='"Liberation Sans","Noto Sans CJK SC",sans-serif' font-size="42.5" font-weight="500" fill="#000" stroke="#000" stroke-width="0.9">导</text>
<text transform="translate(1686.5,1424.5) scale(1,1.17)" font-family='"Liberation Sans","Noto Sans CJK SC",sans-serif' font-size="42.5" font-weight="500" fill="#000" stroke="#000" stroke-width="0.9">新</text>
<text transform="translate(1769.3,1424.5) scale(1,1.17)" font-family='"Liberation Sans","Noto Sans CJK SC",sans-serif' font-size="42.5" font-weight="500" fill="#000" stroke="#000" stroke-width="0.9">能</text>
<text transform="translate(1852,1424.5) scale(1,1.17)" font-family='"Liberation Sans","Noto Sans CJK SC",sans-serif' font-size="42.5" font-weight="500" fill="#000" stroke="#000" stroke-width="0.9">源</text>
<text x="1520.3" y="1463.2" font-family='"Liberation Sans","Noto Sans CJK SC",sans-serif' font-size="18.60" font-weight="bold" textLength="43.5" lengthAdjust="spacing" stroke="#000" stroke-width="1.5" fill="#000" >网址:</text>
<text x="1572.3" y="1461.3" font-family='"Liberation Sans","Noto Sans CJK SC",sans-serif' font-size="15.60" font-weight="bold" textLength="131.5" lengthAdjust="spacingAndGlyphs" stroke="#000" stroke-width="1.6" fill="#000" >www.dgconne.com</text>
<text x="1727.8" y="1463.2" font-family='"Liberation Sans","Noto Sans CJK SC",sans-serif' font-size="18.60" font-weight="bold" textLength="43.5" lengthAdjust="spacing" stroke="#000" stroke-width="1.5" fill="#000" >电话:</text>
<text x="1780.2" y="1461.3" font-family='"Liberation Sans","Noto Sans CJK SC",sans-serif' font-size="15.60" font-weight="bold" textLength="114.2" lengthAdjust="spacingAndGlyphs" stroke="#000" stroke-width="1.6" fill="#000" >0769-85337833</text>
<text x="1520.3" y="1486" font-family='"Liberation Sans","Noto Sans CJK SC",sans-serif' font-size="18.60" font-weight="bold" textLength="43.5" lengthAdjust="spacing" stroke="#000" stroke-width="1.5" fill="#000" >邮箱:</text>
<text x="1572.3" y="1484.6" font-family='"Liberation Sans","Noto Sans CJK SC",sans-serif' font-size="15.60" font-weight="bold" textLength="151.1" lengthAdjust="spacingAndGlyphs" stroke="#000" stroke-width="1.6" fill="#000" >2850175868@qq.com</text>
<text x="1729.5" y="1486" font-family='"Liberation Sans","Noto Sans CJK SC",sans-serif' font-size="18.60" font-weight="bold" textLength="42.0" lengthAdjust="spacing" stroke="#000" stroke-width="1.5" fill="#000" >传真:</text>
<text x="1780.2" y="1484.6" font-family='"Liberation Sans","Noto Sans CJK SC",sans-serif' font-size="15.60" font-weight="bold" textLength="114.2" lengthAdjust="spacingAndGlyphs" stroke="#000" stroke-width="1.6" fill="#000" >0769-85382627</text>
<path d="M1418.3,1388.2 L1435.6,1388.2 L1431.5,1417.3 C1434.1,1416.3 1441.9,1412.5 1447.4,1410.9 C1452.9,1409.3 1458.7,1408.2 1464.3,1407.8 C1470,1407.5 1476.4,1407.7 1481.3,1408.9 C1486.1,1410 1490.2,1412.4 1493.5,1415 C1496.7,1417.5 1499.5,1420.9 1500.9,1424.4 C1502.3,1427.9 1501.9,1431.8 1501.6,1435.9 C1501.2,1440.1 1500.6,1445.2 1498.9,1449.5 C1497.2,1453.8 1494.9,1458.3 1491.4,1461.7 C1487.9,1465.1 1483,1467.5 1477.9,1469.8 C1472.8,1472.1 1466.4,1474.1 1460.9,1475.2 C1455.5,1476.4 1448,1476.4 1445.4,1476.6 L1448.1,1436.3 C1449.9,1435.4 1455.7,1432.1 1458.9,1431.2 C1462.1,1430.4 1466,1431.2 1467.4,1431.2 L1465.7,1453.2 C1466.6,1452.7 1468.7,1451.8 1471.1,1450.2 C1473.5,1448.5 1477.7,1445.5 1479.9,1443.4 C1482.2,1441.3 1484.4,1439.7 1484.6,1437.3 C1484.9,1434.9 1483,1431.3 1481.3,1429.2 C1479.6,1427 1477.3,1425.5 1474.5,1424.4 C1471.7,1423.4 1467.7,1423 1464.3,1423.1 C1460.9,1423.2 1458.1,1423.5 1454.2,1425.1 C1450.2,1426.7 1444.7,1430.3 1440.6,1432.6 C1436.6,1434.8 1431.6,1437.6 1429.8,1438.7 L1425.4,1477.3 L1407.4,1477.3 Z" fill="#1cb4f4" stroke="#10161c" stroke-width="1.1"/>
<path d="M1434.2,1411.9 C1436.4,1409.9 1442.4,1403.5 1447.4,1400.1 C1452.4,1396.6 1458.7,1393.5 1464.3,1391.3 C1470,1389.1 1476,1387.7 1481.3,1386.9 C1486.6,1386 1492.9,1386.1 1496.2,1386.2 C1499.4,1386.3 1499.8,1387.3 1500.6,1387.5 L1500.2,1395.3 L1498.9,1408.2 C1497.6,1407.5 1494.6,1405.3 1491.4,1404.1 C1488.3,1402.9 1483.9,1401.5 1479.9,1401.1 C1476,1400.6 1472,1400.8 1467.7,1401.4 C1463.4,1402 1458.7,1403.3 1454.2,1404.8 C1449.7,1406.3 1444,1409 1440.6,1410.2 C1437.3,1411.4 1435.3,1411.6 1434.2,1411.9  Z" fill="#ff8412" stroke="#1c1008" stroke-width="1.1"/>
</svg></body></html>
